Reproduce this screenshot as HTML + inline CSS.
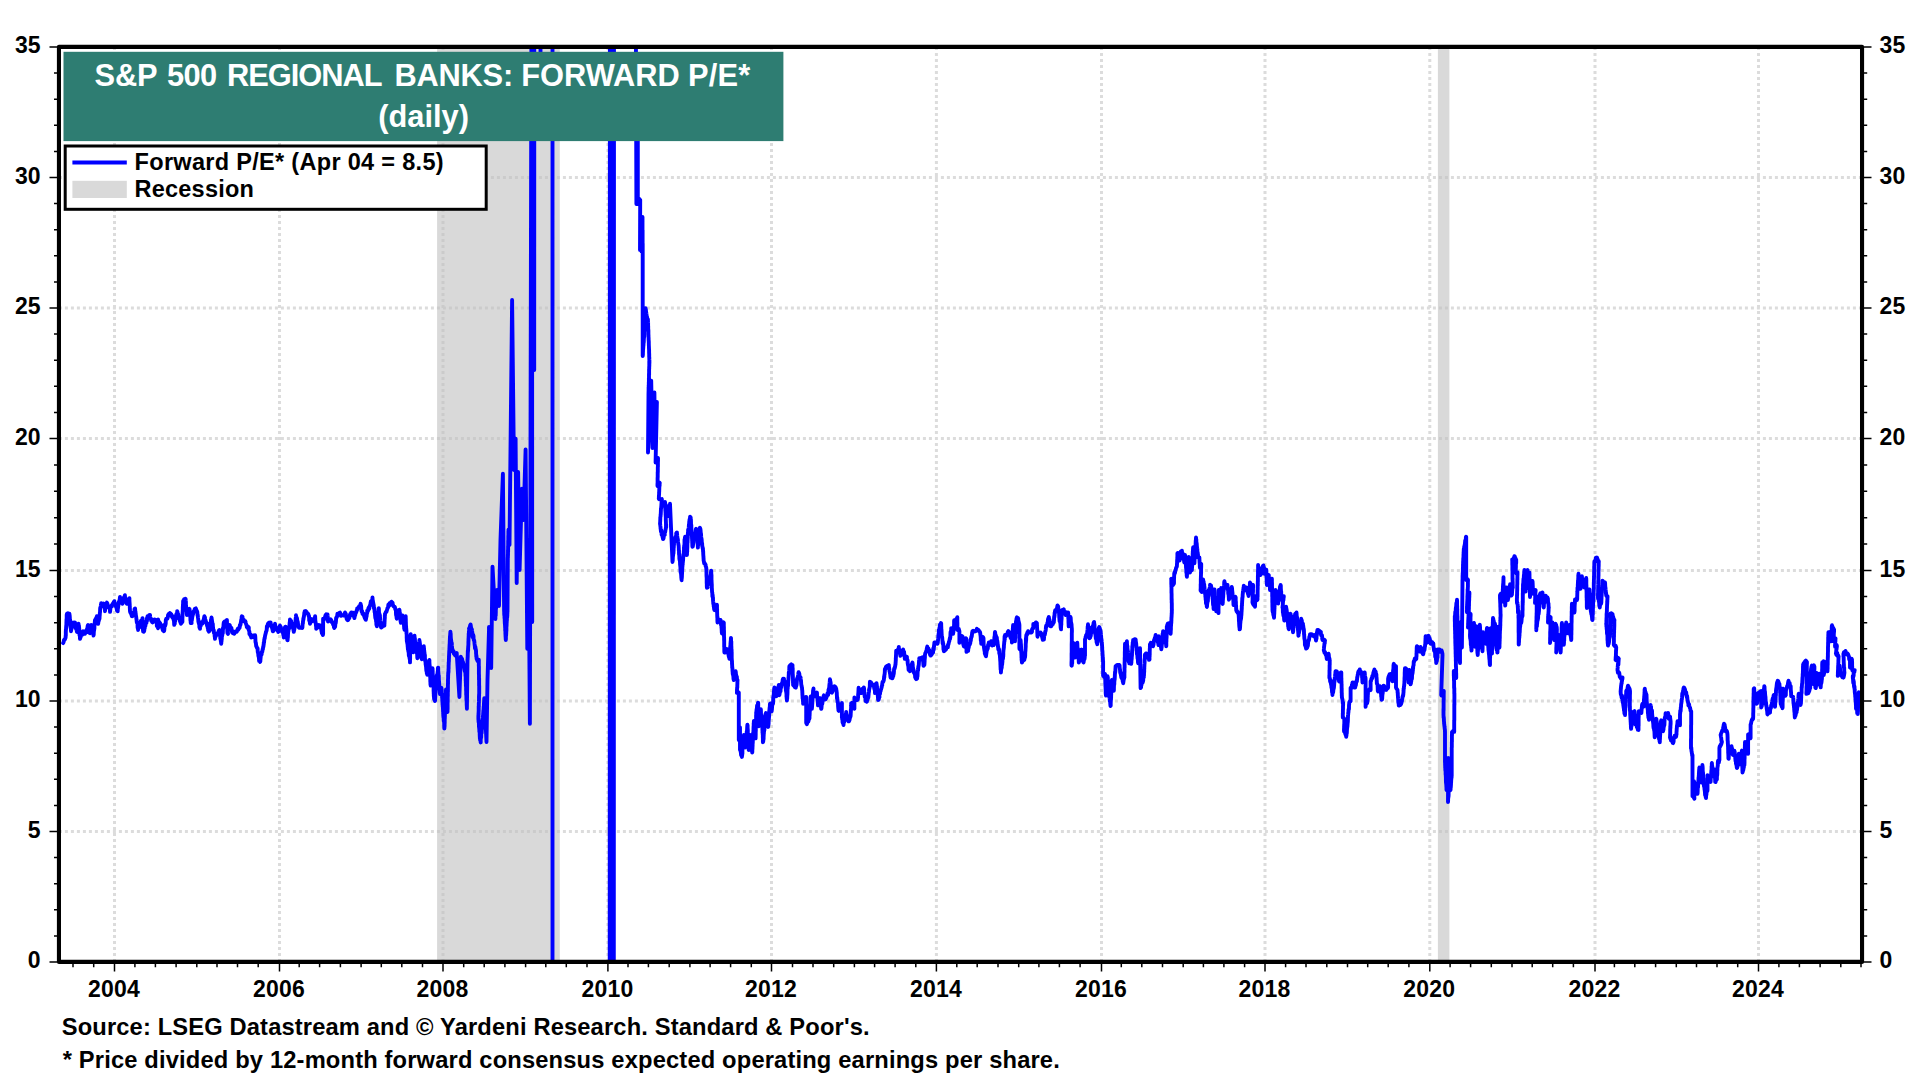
<!DOCTYPE html>
<html lang="en"><head><meta charset="utf-8"><title>S&amp;P 500 Regional Banks: Forward P/E</title>
<style>html,body{margin:0;padding:0;background:#fff;width:1920px;height:1080px;overflow:hidden}svg{display:block}</style>
</head><body>
<svg width="1920" height="1080" viewBox="0 0 1920 1080">
<defs><clipPath id="plot"><rect x="61" y="49" width="1799" height="911"/></clipPath></defs>
<rect x="0" y="0" width="1920" height="1080" fill="#ffffff"/>
<path d="M58.9 831.5H1860 M58.9 701.0H1860 M58.9 570.5H1860 M58.9 438.5H1860 M58.9 308.0H1860 M58.9 177.5H1860 M114.5 46.9V960 M279.5 46.9V960 M443.0 46.9V960 M607.9 46.9V960 M771.5 46.9V960 M936.4 46.9V960 M1101.5 46.9V960 M1265.0 46.9V960 M1429.8 46.9V960 M1595.0 46.9V960 M1758.5 46.9V960" stroke="#dcdcdc" stroke-width="3" stroke-dasharray="3 3" fill="none"/>
<rect x="437.1" y="49" width="122.7" height="911" fill="#c0c0c0" fill-opacity="0.6"/>
<rect x="1437.9" y="49" width="11.5" height="911" fill="#c0c0c0" fill-opacity="0.6"/>
<path d="M63.1 643.1 L63.6 642.1 L63.6 641.9 L64.0 640.0 L64.6 639.3 L64.7 639.8 L65.1 638.9 L65.6 637.5 L65.7 635.4 L65.7 635.9 L65.8 635.6 L65.8 635.1 L65.8 632.2 L65.9 630.1 L65.9 629.4 L66.0 629.1 L66.0 629.3 L66.1 628.8 L66.1 628.7 L66.1 627.1 L66.2 626.8 L66.2 626.4 L66.3 624.8 L66.3 625.9 L66.4 625.0 L66.4 624.8 L66.4 622.6 L66.5 620.7 L66.5 619.7 L66.6 619.0 L66.6 619.0 L66.7 618.3 L66.7 616.9 L66.7 615.1 L66.8 614.2 L66.8 615.1 L66.9 613.8 L67.9 613.3 L68.6 613.7 L69.4 613.8 L69.5 614.6 L69.5 616.7 L69.6 615.0 L69.7 616.0 L69.8 617.2 L69.8 617.5 L69.9 619.3 L70.0 620.2 L70.1 619.7 L70.2 622.0 L70.2 623.5 L70.3 625.1 L70.4 626.8 L70.5 627.1 L70.5 627.4 L70.6 626.5 L70.7 628.2 L70.8 628.3 L70.8 628.9 L70.9 628.7 L71.0 631.2 L71.5 628.5 L71.9 628.1 L71.8 626.6 L72.4 627.1 L72.8 625.0 L72.9 622.8 L73.1 622.6 L73.6 624.2 L73.8 624.2 L74.5 624.1 L74.6 623.8 L75.0 622.5 L75.2 624.3 L75.3 625.0 L75.5 625.3 L75.7 624.8 L75.9 626.5 L76.0 628.8 L76.2 628.0 L76.4 629.6 L76.5 629.7 L76.7 629.9 L76.9 631.9 L77.0 630.9 L77.2 632.0 L77.4 628.8 L77.5 628.6 L77.7 628.3 L77.9 627.4 L78.0 627.1 L78.2 624.6 L78.3 624.2 L78.5 623.8 L78.6 624.4 L78.7 625.4 L78.8 625.4 L78.8 627.0 L78.9 625.6 L79.0 626.4 L79.1 627.7 L79.2 628.2 L79.2 628.8 L79.3 629.6 L79.4 633.4 L79.5 634.8 L79.6 635.6 L79.7 634.0 L79.8 635.7 L79.8 635.8 L79.9 636.8 L80.0 638.8 L80.4 637.6 L80.5 637.3 L80.8 636.7 L81.0 635.7 L81.4 635.2 L81.6 635.2 L82.4 634.6 L82.4 633.0 L82.7 631.8 L83.1 631.2 L83.9 631.6 L84.6 633.0 L85.0 633.8 L85.1 631.9 L85.4 631.8 L86.0 630.7 L86.0 630.8 L86.4 632.4 L86.5 630.9 L87.0 629.1 L87.5 627.9 L87.4 627.9 L87.8 625.4 L88.1 625.0 L88.3 626.5 L88.7 628.5 L88.9 628.3 L89.2 629.4 L89.3 630.9 L89.5 629.6 L89.5 630.8 L89.6 632.8 L90.0 632.5 L90.1 633.2 L90.3 631.9 L90.4 630.5 L90.6 631.0 L90.7 630.5 L90.8 628.5 L91.0 630.0 L91.1 626.7 L91.2 625.0 L91.4 627.2 L91.6 627.2 L91.8 627.9 L91.9 629.3 L92.1 629.9 L92.3 631.0 L92.5 629.9 L92.6 629.5 L92.8 631.8 L93.0 631.8 L93.2 632.2 L93.3 632.2 L93.5 635.6 L93.6 634.5 L93.7 634.6 L93.7 635.0 L93.8 632.5 L93.9 631.6 L94.0 629.6 L94.1 630.0 L94.1 630.7 L94.2 628.3 L94.3 629.0 L94.4 628.5 L94.4 626.8 L94.5 623.6 L94.6 624.7 L94.7 623.5 L94.8 622.0 L94.8 621.8 L94.9 621.3 L95.0 620.0 L95.2 621.0 L95.9 618.6 L96.1 619.2 L96.5 617.7 L96.9 616.2 L97.0 617.6 L97.2 618.4 L97.3 620.4 L97.4 620.3 L97.6 618.6 L97.7 619.8 L97.8 619.3 L98.0 622.1 L98.1 623.8 L98.3 622.8 L98.4 621.4 L98.5 620.9 L98.7 621.1 L98.8 620.2 L98.9 620.5 L99.1 619.0 L99.2 618.9 L99.3 619.0 L99.5 618.8 L99.6 616.1 L99.7 615.7 L99.9 612.4 L100.0 612.5 L100.1 610.0 L100.2 607.8 L100.3 609.2 L100.5 607.4 L100.6 607.2 L100.7 606.6 L100.8 606.0 L100.9 604.8 L101.0 604.5 L101.1 605.6 L101.2 603.1 L102.0 604.4 L103.1 603.8 L103.4 603.6 L103.5 605.1 L103.9 604.8 L103.8 606.1 L104.1 606.6 L104.5 607.7 L104.7 607.7 L105.0 609.2 L105.0 611.2 L105.2 608.4 L105.3 608.9 L105.5 607.2 L105.7 607.0 L105.9 606.3 L106.0 604.8 L106.2 603.6 L106.4 603.4 L106.5 604.6 L106.7 603.1 L106.9 602.5 L107.0 604.9 L107.4 603.3 L107.5 606.2 L107.7 605.8 L108.1 606.1 L108.2 607.2 L108.9 607.1 L108.8 606.7 L109.0 608.0 L109.7 608.0 L110.0 610.4 L110.0 611.9 L110.2 610.4 L110.6 606.8 L110.5 607.5 L110.9 606.3 L111.0 606.8 L111.2 605.6 L111.7 606.6 L111.9 605.0 L112.3 604.5 L112.9 603.7 L113.6 602.5 L114.0 601.8 L114.4 601.2 L114.5 602.4 L114.7 603.0 L115.0 603.9 L115.5 603.8 L115.7 606.4 L115.9 605.8 L116.5 607.8 L116.4 607.6 L116.9 609.8 L117.0 610.6 L117.5 610.0 L117.7 611.3 L117.8 609.1 L118.0 608.1 L118.1 606.7 L118.3 606.1 L118.4 604.9 L118.6 604.9 L118.8 603.0 L118.9 601.7 L119.1 602.3 L119.2 602.0 L119.4 600.4 L119.5 600.3 L119.7 600.0 L119.8 598.6 L120.0 596.9 L120.1 598.7 L120.5 599.7 L120.7 600.1 L121.1 600.6 L121.2 600.2 L121.5 601.1 L121.7 602.2 L122.1 602.8 L122.5 603.8 L122.8 601.6 L123.2 601.8 L123.3 600.9 L123.5 598.4 L123.8 598.5 L124.0 597.1 L124.4 598.1 L124.9 595.2 L125.0 597.1 L125.4 597.6 L125.6 600.1 L126.3 601.6 L126.3 602.6 L126.9 603.8 L127.4 603.3 L127.5 603.4 L127.8 601.0 L128.1 600.0 L128.6 600.5 L129.3 599.2 L129.4 598.1 L129.4 601.6 L129.5 600.7 L129.5 600.9 L129.5 602.4 L129.6 602.7 L129.6 603.3 L129.7 604.0 L129.7 604.0 L129.7 605.8 L129.8 605.9 L129.8 606.9 L129.8 607.7 L129.9 608.6 L129.9 609.5 L130.0 610.8 L130.0 611.2 L130.2 612.1 L130.7 613.1 L131.3 614.0 L131.8 616.0 L132.3 615.4 L132.5 616.2 L132.8 614.1 L132.9 612.6 L133.5 615.2 L133.9 613.7 L134.3 612.5 L134.5 610.5 L134.5 609.0 L135.0 610.0 L135.1 608.5 L135.2 610.1 L135.4 612.4 L135.5 611.6 L135.6 613.7 L135.7 613.4 L135.9 616.0 L136.0 615.7 L136.1 616.5 L136.2 616.9 L136.4 618.7 L136.5 619.6 L136.6 620.1 L136.7 621.4 L136.9 622.8 L137.0 622.2 L137.1 622.2 L137.2 622.6 L137.4 623.6 L137.5 624.0 L137.6 627.4 L137.7 628.0 L137.9 628.6 L138.0 628.2 L138.1 630.0 L138.2 627.1 L138.8 626.9 L138.9 626.7 L139.4 626.7 L139.8 626.4 L139.9 627.0 L140.3 624.7 L140.6 624.6 L140.5 622.4 L140.9 620.8 L141.2 620.5 L141.7 621.7 L141.8 620.8 L142.3 619.6 L142.5 618.1 L142.5 618.8 L142.6 618.3 L142.6 619.4 L142.7 621.9 L142.7 621.4 L142.7 622.8 L142.8 625.3 L142.8 627.0 L142.8 627.7 L142.9 630.3 L142.9 629.7 L143.0 629.4 L143.0 627.9 L143.0 629.5 L143.1 631.5 L143.1 631.2 L143.2 630.9 L143.4 630.5 L143.9 631.7 L144.3 630.6 L144.1 629.7 L144.7 628.5 L144.8 625.8 L145.0 625.2 L145.0 626.5 L145.4 625.9 L145.6 624.1 L145.8 623.3 L146.3 622.6 L146.5 622.8 L146.4 621.0 L147.0 621.0 L146.9 618.5 L147.5 616.8 L147.5 616.2 L148.4 616.4 L149.1 615.1 L150.0 615.0 L150.1 616.4 L150.4 618.6 L151.1 619.8 L151.1 619.7 L151.2 620.8 L151.9 619.2 L152.1 622.1 L152.4 620.9 L152.5 622.5 L153.1 619.8 L153.9 620.0 L154.4 619.5 L155.0 620.0 L155.2 620.2 L155.4 619.8 L155.9 621.8 L156.2 622.6 L156.8 623.2 L156.8 625.9 L157.2 625.8 L157.4 625.9 L157.7 627.2 L158.1 628.1 L158.1 627.7 L158.1 627.6 L158.1 625.6 L158.1 625.1 L158.1 626.2 L158.1 625.4 L158.1 623.5 L158.1 622.4 L158.1 621.5 L158.1 619.4 L158.3 621.6 L158.8 622.2 L159.5 622.3 L159.8 624.0 L160.1 623.1 L160.4 624.2 L160.7 624.5 L161.2 625.0 L161.8 626.2 L162.0 627.6 L162.5 628.8 L162.5 629.2 L162.9 630.3 L163.5 628.2 L163.8 630.4 L164.0 631.2 L164.2 630.6 L164.3 629.7 L164.4 628.3 L164.6 625.6 L164.8 624.4 L164.9 624.9 L165.1 625.6 L165.2 624.7 L165.3 625.5 L165.5 623.1 L165.7 623.9 L165.8 620.2 L165.9 619.8 L166.1 619.7 L166.2 618.8 L166.8 618.8 L167.4 618.8 L167.8 617.3 L168.1 614.9 L168.7 614.3 L168.9 613.9 L169.4 614.7 L170.0 613.1 L170.4 613.6 L171.3 614.3 L171.7 616.4 L172.5 617.5 L173.1 616.2 L173.3 618.8 L173.4 618.4 L173.5 619.5 L173.7 619.9 L173.8 620.5 L174.0 621.0 L174.1 623.0 L174.2 624.8 L174.4 623.8 L174.8 623.7 L174.7 621.9 L175.2 621.3 L175.0 620.3 L175.4 618.8 L175.5 617.9 L175.9 616.6 L175.8 617.1 L176.2 616.1 L176.3 614.2 L176.8 614.8 L176.7 614.0 L177.3 612.1 L177.2 611.2 L177.5 611.9 L177.6 613.5 L178.1 614.0 L178.1 613.7 L178.3 615.0 L178.6 616.4 L178.7 617.5 L178.8 617.7 L178.9 618.9 L179.2 619.3 L179.8 618.2 L179.9 620.9 L180.0 621.2 L181.0 623.8 L182.2 621.2 L182.3 622.0 L182.3 621.5 L182.4 622.1 L182.4 620.0 L182.4 618.2 L182.5 616.5 L182.5 614.8 L182.5 613.7 L182.6 614.0 L182.6 613.3 L182.6 612.5 L182.7 611.5 L182.7 611.7 L182.7 611.0 L182.8 609.7 L182.8 609.4 L182.8 608.1 L182.9 605.9 L182.9 607.0 L182.9 606.3 L183.0 604.1 L183.0 604.5 L183.1 603.7 L183.1 601.0 L183.1 601.2 L183.6 601.6 L184.1 599.2 L185.0 600.5 L185.6 598.8 L185.7 600.9 L185.7 599.6 L185.8 601.0 L185.9 601.9 L185.9 604.9 L186.0 605.7 L186.1 605.6 L186.1 607.6 L186.2 608.2 L186.2 607.6 L186.3 607.8 L186.4 611.0 L186.4 610.3 L186.5 610.2 L186.6 610.8 L186.6 610.8 L186.7 612.0 L186.8 613.1 L186.8 614.1 L186.9 615.0 L187.3 611.9 L187.4 612.3 L187.8 611.9 L188.1 613.8 L188.3 611.6 L189.0 609.6 L188.9 609.6 L189.4 608.8 L189.5 610.1 L189.6 609.2 L189.6 611.2 L189.7 610.5 L189.8 611.2 L189.9 612.1 L190.0 613.1 L190.1 615.3 L190.2 616.2 L190.3 616.5 L190.4 618.0 L190.4 620.2 L190.5 620.3 L190.6 621.1 L190.7 622.7 L190.8 623.1 L190.9 622.5 L191.3 621.2 L191.6 623.1 L191.4 621.4 L191.8 620.5 L192.0 618.9 L192.3 616.9 L192.7 615.3 L193.0 614.1 L193.2 613.8 L193.2 613.1 L193.7 611.9 L193.6 611.4 L193.9 611.2 L194.5 611.4 L194.5 609.7 L195.0 608.8 L195.0 608.8 L195.8 608.4 L196.3 609.7 L196.9 611.2 L197.0 612.1 L197.2 612.8 L197.3 611.8 L197.4 613.6 L197.6 615.9 L197.7 614.6 L197.9 616.8 L198.0 617.8 L198.2 619.0 L198.3 620.0 L198.4 621.8 L198.6 621.6 L198.7 623.0 L198.9 622.8 L199.0 624.2 L199.1 623.8 L199.3 624.5 L199.4 627.2 L199.6 627.8 L199.7 627.8 L199.9 627.2 L200.0 628.8 L200.1 626.7 L200.4 626.1 L200.7 626.1 L200.9 624.3 L201.1 623.2 L201.5 622.4 L201.8 623.6 L202.2 623.2 L202.2 623.8 L202.8 623.0 L203.1 622.0 L203.4 621.0 L203.5 619.9 L204.1 618.4 L204.0 618.2 L204.4 616.2 L204.6 616.9 L205.0 617.4 L204.9 619.3 L205.4 619.8 L205.7 620.5 L205.7 621.2 L206.2 622.4 L206.2 622.0 L206.5 623.1 L206.8 624.1 L207.0 625.3 L207.1 625.7 L207.3 625.9 L207.6 626.9 L207.8 628.3 L208.2 628.8 L208.1 630.3 L208.7 630.7 L208.8 631.2 L208.9 631.7 L209.1 630.2 L209.2 631.3 L209.4 630.3 L209.6 626.9 L209.7 627.6 L209.9 625.0 L210.0 623.1 L210.2 623.9 L210.4 624.6 L210.5 623.4 L210.7 623.2 L210.9 622.8 L211.0 619.6 L211.2 619.2 L211.3 619.0 L211.5 617.5 L211.6 617.8 L211.8 619.5 L211.9 619.8 L212.0 621.0 L212.2 621.8 L212.3 624.1 L212.4 624.5 L212.6 624.6 L212.7 623.6 L212.8 624.3 L213.0 627.5 L213.1 628.4 L213.2 629.8 L213.4 630.8 L213.5 629.6 L213.7 630.0 L213.8 630.7 L213.9 632.8 L214.1 632.5 L214.2 633.0 L214.3 633.6 L214.5 633.9 L214.6 635.1 L214.7 636.5 L214.9 636.7 L215.0 638.8 L215.2 636.5 L215.7 636.5 L215.9 634.4 L216.3 634.0 L216.8 634.1 L217.2 634.7 L217.3 634.4 L218.0 633.1 L218.4 632.0 L218.7 631.0 L219.0 630.4 L219.4 630.0 L219.5 631.1 L219.6 631.7 L219.7 634.5 L219.8 631.9 L219.9 633.0 L220.0 632.4 L220.2 635.2 L220.3 638.8 L220.4 636.2 L220.5 637.6 L220.6 639.1 L220.7 639.5 L220.8 641.0 L220.9 639.3 L221.0 641.8 L221.1 643.1 L221.2 643.8 L221.3 643.1 L221.4 641.6 L221.5 641.6 L221.6 640.2 L221.7 639.7 L221.8 638.4 L221.9 635.5 L222.0 635.7 L222.1 635.7 L222.2 635.9 L222.3 634.1 L222.4 633.5 L222.5 633.5 L222.6 632.7 L222.7 632.9 L222.8 633.5 L222.9 630.7 L223.0 627.6 L223.1 628.2 L223.2 628.9 L223.3 628.4 L223.4 627.7 L223.5 625.5 L223.6 623.7 L223.7 624.0 L223.8 622.5 L224.6 621.5 L225.6 621.6 L226.2 620.8 L226.9 620.6 L226.9 619.9 L227.0 622.5 L227.0 623.0 L227.1 626.9 L227.1 625.8 L227.1 625.8 L227.2 626.7 L227.2 626.4 L227.3 628.4 L227.3 630.7 L227.4 632.7 L227.4 633.0 L227.5 632.9 L227.5 632.5 L228.0 633.9 L227.8 630.9 L227.9 629.3 L228.4 629.3 L228.5 628.5 L228.6 625.5 L228.8 625.3 L228.9 624.9 L229.4 625.0 L229.7 625.0 L230.1 626.7 L230.7 627.8 L231.1 627.7 L231.4 628.0 L231.7 630.5 L232.1 632.4 L232.9 633.3 L233.1 631.2 L234.3 633.7 L235.0 632.1 L236.2 631.2 L236.8 631.6 L237.4 629.7 L237.8 628.8 L238.2 629.9 L239.1 628.2 L239.4 627.5 L239.6 627.9 L239.7 627.0 L239.9 625.1 L240.1 624.7 L240.3 625.4 L240.5 624.4 L240.6 624.2 L240.8 622.6 L241.0 621.7 L241.2 620.1 L241.3 619.5 L241.5 619.6 L241.7 616.7 L241.9 616.2 L242.5 616.7 L242.7 617.9 L243.0 619.3 L243.8 621.0 L243.9 619.8 L244.5 621.5 L245.0 621.2 L245.4 621.2 L245.4 621.6 L245.8 623.1 L246.4 625.0 L246.7 625.7 L246.8 627.2 L247.2 626.2 L247.5 627.5 L247.8 626.3 L248.0 628.6 L248.2 627.9 L248.8 627.4 L248.8 630.2 L249.4 631.5 L249.4 634.1 L250.0 633.8 L250.3 634.2 L250.4 635.7 L250.9 635.7 L250.9 635.2 L251.2 637.5 L252.4 637.1 L253.1 635.5 L254.0 635.5 L255.0 636.2 L255.1 635.2 L255.3 637.0 L255.4 639.5 L255.5 641.9 L255.7 642.8 L255.8 642.7 L255.9 643.0 L256.1 645.2 L256.2 646.4 L256.3 645.7 L256.5 646.4 L256.6 647.0 L256.7 647.4 L256.9 647.5 L257.1 648.2 L257.2 647.7 L257.4 648.5 L257.6 648.3 L257.7 651.3 L257.9 652.7 L258.1 652.1 L258.3 654.7 L258.4 656.1 L258.6 654.4 L258.8 657.5 L259.0 658.6 L259.1 660.9 L259.3 659.2 L259.5 660.3 L259.7 661.2 L259.8 661.8 L260.0 661.9 L260.2 661.7 L260.3 661.7 L260.5 658.9 L260.7 657.1 L260.8 655.6 L261.0 655.1 L261.2 654.5 L261.3 654.8 L261.5 654.6 L261.7 653.9 L261.8 652.5 L262.0 651.5 L262.2 652.0 L262.3 651.8 L262.5 650.0 L262.6 649.9 L262.8 648.5 L262.9 649.2 L263.1 647.1 L263.2 646.8 L263.4 646.8 L263.5 645.1 L263.7 644.8 L263.8 642.4 L264.0 642.7 L264.1 641.8 L264.3 639.1 L264.4 639.4 L264.6 637.8 L264.7 638.6 L264.9 636.8 L265.0 636.2 L265.2 635.1 L265.4 634.7 L265.6 633.5 L265.8 633.0 L266.0 631.6 L266.2 631.6 L266.5 630.6 L266.7 629.9 L266.9 626.2 L267.1 627.6 L267.3 626.9 L267.5 626.2 L267.9 623.7 L268.5 624.0 L268.9 622.7 L269.8 624.3 L270.2 623.3 L270.6 622.5 L270.8 624.1 L270.9 625.7 L271.4 626.7 L271.6 626.2 L271.7 625.1 L272.2 625.7 L272.0 627.7 L272.3 628.8 L272.5 629.5 L272.8 631.3 L273.1 631.2 L273.5 630.2 L273.6 629.6 L273.9 629.9 L273.9 628.6 L274.1 626.1 L274.5 626.7 L274.7 627.3 L274.9 626.2 L275.0 623.8 L275.4 626.4 L275.8 627.2 L275.8 628.0 L276.3 628.2 L276.7 629.2 L276.7 629.6 L277.1 630.3 L277.4 629.9 L277.7 630.5 L278.1 631.2 L278.2 632.1 L278.9 630.4 L279.2 630.1 L279.3 629.4 L279.3 627.9 L279.8 625.8 L280.0 625.6 L280.2 626.6 L280.3 627.7 L280.8 626.9 L281.0 629.2 L281.1 629.1 L281.6 629.2 L282.0 629.1 L282.0 631.7 L282.2 631.1 L282.4 631.8 L282.9 632.9 L283.1 632.3 L283.3 635.1 L283.5 635.0 L283.8 637.5 L283.9 635.1 L284.0 636.2 L284.1 636.1 L284.2 635.4 L284.3 634.4 L284.4 631.6 L284.5 630.6 L284.6 629.6 L284.7 628.3 L284.8 628.7 L284.9 627.3 L285.0 627.5 L285.2 627.0 L285.4 627.3 L285.5 626.7 L285.7 629.4 L285.9 632.1 L286.1 632.8 L286.2 632.5 L286.4 630.8 L286.6 633.0 L286.8 635.7 L287.0 636.8 L287.1 638.3 L287.3 640.1 L287.5 638.8 L287.6 640.4 L287.7 638.2 L287.8 638.0 L287.9 637.3 L288.0 634.2 L288.1 633.2 L288.2 631.3 L288.3 631.1 L288.4 631.3 L288.5 629.5 L288.6 627.1 L288.8 628.7 L288.9 628.4 L289.0 629.0 L289.1 626.3 L289.2 626.7 L289.3 627.6 L289.4 627.8 L289.5 625.3 L289.6 624.0 L289.7 622.5 L289.8 622.4 L289.9 622.1 L290.0 619.4 L290.2 621.4 L290.4 621.4 L290.6 621.1 L291.0 622.0 L291.0 620.6 L291.3 622.8 L291.5 623.1 L291.9 624.9 L292.1 624.2 L292.6 625.2 L292.5 626.5 L293.0 626.7 L293.0 626.9 L293.1 628.4 L293.7 631.1 L293.8 631.9 L293.9 629.9 L294.0 631.1 L294.1 629.8 L294.3 629.8 L294.4 628.5 L294.5 628.4 L294.7 627.0 L294.8 625.9 L294.9 624.7 L295.1 623.0 L295.2 622.5 L295.3 622.6 L295.5 620.5 L295.6 620.1 L295.7 618.4 L295.9 616.9 L296.0 615.3 L296.1 617.3 L296.2 616.2 L296.4 617.4 L296.6 617.8 L296.8 619.6 L297.0 618.1 L297.1 619.6 L297.3 620.1 L297.5 622.0 L297.7 621.5 L297.9 622.9 L298.0 624.0 L298.2 626.3 L298.4 626.2 L298.6 626.9 L298.8 627.5 L299.6 627.9 L300.8 627.6 L301.9 626.9 L302.0 628.1 L302.2 627.7 L302.4 627.7 L302.5 625.7 L302.7 623.4 L302.9 623.4 L303.0 621.1 L303.2 620.6 L303.4 618.2 L303.5 619.3 L303.7 617.1 L303.9 616.9 L304.0 615.6 L304.2 614.6 L304.3 612.9 L304.5 612.7 L304.7 611.2 L304.8 612.0 L305.0 611.2 L305.7 611.0 L306.6 612.0 L307.1 613.4 L308.1 613.8 L308.3 614.2 L308.4 615.3 L308.6 615.0 L308.7 616.4 L308.9 615.6 L309.1 616.9 L309.2 620.4 L309.4 621.0 L309.5 620.3 L309.7 621.8 L309.8 621.8 L310.0 623.8 L310.6 620.8 L311.0 618.9 L311.9 620.9 L312.5 621.2 L313.1 619.8 L313.6 619.1 L314.2 619.4 L314.5 618.1 L315.0 617.5 L315.1 616.1 L315.2 618.0 L315.3 620.8 L315.4 621.6 L315.4 621.4 L315.5 621.6 L315.6 623.3 L315.7 623.3 L315.8 623.2 L315.9 624.8 L316.0 626.0 L316.1 626.2 L316.2 626.4 L316.2 628.8 L316.9 627.6 L317.7 627.6 L318.1 626.2 L318.8 625.0 L319.4 625.6 L320.0 625.6 L320.0 625.7 L320.3 625.5 L320.8 626.8 L321.2 629.5 L321.6 631.7 L321.8 632.2 L321.9 633.2 L322.3 633.5 L322.9 635.0 L323.1 633.8 L323.1 633.4 L323.1 632.9 L323.1 629.6 L323.1 628.4 L323.1 627.5 L323.1 626.4 L323.1 625.4 L323.1 624.3 L323.1 623.7 L323.1 624.3 L323.1 625.3 L323.1 622.6 L323.1 622.6 L323.1 622.4 L323.1 621.8 L323.1 622.4 L323.1 621.2 L323.1 618.8 L323.7 620.3 L324.5 618.1 L324.9 617.5 L325.5 615.4 L326.2 614.3 L326.9 614.6 L327.5 614.4 L327.6 615.3 L327.7 616.0 L327.7 616.6 L327.8 617.5 L327.9 619.8 L328.0 621.5 L328.0 619.6 L328.1 621.2 L328.9 619.1 L329.8 620.1 L330.6 619.4 L331.3 620.2 L331.5 622.0 L331.7 622.0 L332.2 622.1 L332.6 622.2 L333.1 624.7 L333.9 624.9 L333.9 627.0 L334.3 627.9 L335.0 626.2 L335.1 626.7 L335.3 624.6 L335.4 623.7 L335.6 622.2 L335.7 623.3 L335.8 622.5 L336.0 620.7 L336.1 617.9 L336.2 618.8 L336.7 617.0 L337.2 616.3 L337.4 613.8 L338.1 614.8 L338.1 614.5 L338.8 614.0 L339.1 613.7 L339.7 612.7 L340.0 612.5 L340.6 613.8 L341.0 615.9 L341.8 614.8 L342.5 615.0 L343.2 615.6 L343.7 615.6 L344.4 615.6 L345.0 612.5 L345.3 614.0 L345.8 613.7 L346.0 616.2 L346.1 615.8 L346.7 618.9 L347.0 619.6 L347.4 618.6 L347.7 620.2 L347.8 619.6 L348.1 620.0 L348.6 618.9 L348.8 617.2 L349.3 618.1 L349.1 617.5 L349.6 615.8 L350.2 614.0 L350.5 614.5 L350.8 615.7 L351.1 614.8 L351.2 612.5 L351.8 613.4 L352.2 613.7 L352.3 613.6 L352.6 612.7 L353.1 612.7 L353.7 614.2 L354.0 616.5 L354.4 618.1 L354.7 616.5 L354.7 615.4 L355.2 615.3 L355.1 615.0 L355.7 613.2 L355.9 612.9 L356.3 611.7 L356.3 612.2 L356.6 610.6 L356.6 610.3 L357.1 610.2 L357.2 608.4 L357.5 608.1 L358.0 608.1 L358.8 607.2 L359.0 606.5 L359.7 606.7 L359.9 606.2 L360.6 603.8 L360.8 604.9 L360.9 605.1 L361.1 605.8 L361.2 606.8 L361.4 610.7 L361.6 611.1 L361.7 611.8 L361.9 610.9 L362.0 610.8 L362.2 611.5 L362.3 612.8 L362.5 613.8 L363.2 613.3 L363.6 614.7 L363.7 613.8 L364.1 616.0 L364.5 617.1 L365.4 619.1 L365.6 618.8 L365.8 619.0 L365.8 619.8 L366.3 617.2 L366.7 615.7 L366.6 615.1 L367.2 612.8 L367.3 611.9 L367.2 610.7 L367.9 611.2 L367.6 611.3 L368.0 610.2 L368.5 608.0 L368.7 609.4 L368.8 607.5 L369.1 609.0 L369.4 607.9 L369.4 606.7 L370.0 605.3 L370.1 605.6 L370.5 603.5 L370.7 602.5 L370.9 601.1 L371.2 601.2 L371.5 601.0 L371.7 600.7 L372.3 600.4 L372.5 597.5 L372.6 599.7 L372.8 600.3 L372.9 601.3 L373.0 601.3 L373.1 603.8 L373.3 603.0 L373.4 604.0 L373.5 604.2 L373.6 604.6 L373.8 605.7 L373.9 608.3 L374.0 607.7 L374.1 607.7 L374.3 608.0 L374.4 610.0 L374.5 609.1 L374.6 612.2 L374.8 611.4 L374.9 612.8 L375.0 614.2 L375.1 615.5 L375.3 617.6 L375.4 618.2 L375.5 617.8 L375.6 618.2 L375.8 619.5 L375.9 619.5 L376.0 619.9 L376.1 621.3 L376.3 621.9 L376.4 624.7 L376.5 624.5 L376.6 625.6 L376.8 625.1 L376.9 626.2 L377.0 625.3 L377.1 624.9 L377.1 623.7 L377.2 623.2 L377.3 622.3 L377.4 622.6 L377.5 620.3 L377.6 619.8 L377.6 620.0 L377.7 618.6 L377.8 618.3 L377.9 617.3 L378.0 617.0 L378.1 619.1 L378.2 616.3 L378.2 614.9 L378.3 613.2 L378.4 611.4 L378.5 612.7 L378.6 612.5 L378.7 611.2 L378.8 608.1 L378.9 609.5 L379.0 612.8 L379.1 614.2 L379.2 613.7 L379.3 613.3 L379.4 614.1 L379.5 616.3 L379.6 616.1 L379.7 615.7 L379.8 616.3 L379.9 615.0 L380.0 617.5 L380.1 618.7 L380.2 620.7 L380.3 621.4 L380.4 622.2 L380.5 622.8 L380.6 621.6 L380.7 623.0 L380.8 624.4 L380.9 626.3 L381.0 627.3 L381.1 626.8 L381.2 627.5 L381.9 627.1 L383.0 625.4 L383.6 624.4 L384.4 625.6 L384.4 623.9 L384.5 623.7 L384.5 622.8 L384.6 621.1 L384.6 620.6 L384.6 619.7 L384.7 619.6 L384.7 617.9 L384.8 618.5 L384.8 615.8 L384.9 615.3 L384.9 614.9 L385.0 615.2 L385.0 613.8 L385.6 612.8 L385.9 612.0 L386.1 612.0 L386.5 611.6 L386.6 611.3 L387.3 609.0 L387.4 608.2 L388.2 607.2 L388.3 604.8 L388.8 606.2 L389.4 604.1 L389.5 603.1 L390.2 605.0 L390.8 602.3 L391.2 603.1 L391.5 601.7 L392.6 602.9 L392.7 604.2 L393.3 605.8 L393.7 606.4 L394.6 606.8 L395.0 607.5 L395.1 608.3 L395.3 609.3 L395.4 609.0 L395.6 609.4 L395.7 609.2 L395.9 610.8 L396.0 613.9 L396.2 615.6 L396.3 615.7 L396.4 615.9 L396.6 617.5 L396.7 618.7 L396.9 618.1 L396.9 617.3 L397.3 616.5 L397.8 616.6 L397.7 616.4 L398.0 613.5 L398.5 612.2 L398.6 612.7 L399.0 611.4 L399.4 609.7 L399.4 610.0 L399.5 610.0 L399.6 611.3 L399.6 611.3 L399.7 612.6 L399.8 614.6 L399.9 612.6 L400.0 615.4 L400.1 617.0 L400.2 615.5 L400.3 617.8 L400.4 616.9 L400.4 619.6 L400.5 620.8 L400.6 621.2 L400.9 622.9 L401.4 620.5 L401.9 618.6 L402.1 617.1 L402.5 615.5 L403.1 616.2 L403.2 616.6 L403.3 619.3 L403.4 621.6 L403.5 621.7 L403.5 619.4 L403.6 619.4 L403.7 619.6 L403.8 623.0 L403.9 622.4 L404.0 625.2 L404.0 626.1 L404.1 626.5 L404.2 628.7 L404.3 628.7 L404.4 628.8 L404.5 629.7 L404.6 629.4 L404.7 627.0 L404.8 625.9 L404.9 626.1 L405.0 622.5 L405.0 623.2 L405.1 622.1 L405.2 622.2 L405.3 620.7 L405.4 619.4 L405.5 616.7 L405.6 618.1 L405.7 616.2 L405.7 617.3 L405.8 619.1 L405.8 619.3 L405.8 621.2 L405.9 622.8 L405.9 624.1 L406.0 625.4 L406.0 626.6 L406.1 626.3 L406.1 627.6 L406.2 628.3 L406.2 629.4 L406.2 628.2 L406.3 629.1 L406.3 629.5 L406.4 630.2 L406.4 631.4 L406.5 632.3 L406.5 633.5 L406.6 633.7 L406.6 633.9 L406.7 635.3 L406.7 636.0 L406.7 637.8 L406.8 639.0 L406.8 640.8 L406.9 641.2 L407.0 641.3 L407.1 642.3 L407.3 643.2 L407.4 644.1 L407.5 643.9 L407.7 646.8 L407.8 647.4 L407.9 649.3 L408.1 648.7 L408.2 649.4 L408.3 651.0 L408.4 651.4 L408.6 652.1 L408.7 652.2 L408.8 655.0 L409.0 656.0 L409.1 655.7 L409.2 656.4 L409.4 656.1 L409.5 657.8 L409.6 658.4 L409.7 658.6 L409.9 660.0 L410.0 660.6 L410.0 662.4 L410.0 660.5 L410.1 658.6 L410.1 657.1 L410.1 657.2 L410.1 655.6 L410.1 653.6 L410.2 654.5 L410.2 652.1 L410.2 650.2 L410.2 650.2 L410.2 650.0 L410.3 647.9 L410.3 646.3 L410.3 647.0 L410.3 646.3 L410.3 643.9 L410.3 645.8 L410.4 646.6 L410.4 647.0 L410.4 645.3 L410.4 642.9 L410.4 641.5 L410.5 642.3 L410.5 640.8 L410.5 638.4 L410.5 639.0 L410.5 639.2 L410.6 637.0 L410.6 635.6 L410.6 635.9 L410.6 635.0 L410.7 634.3 L410.9 636.2 L411.0 636.9 L411.1 638.9 L411.2 638.5 L411.4 639.2 L411.5 639.5 L411.6 642.4 L411.7 643.5 L411.9 642.9 L412.0 643.2 L412.1 644.5 L412.2 645.2 L412.4 646.7 L412.5 646.2 L412.6 646.8 L412.7 650.0 L412.9 651.5 L413.0 650.7 L413.1 651.2 L413.2 652.3 L413.3 652.0 L413.3 648.1 L413.4 647.8 L413.5 648.0 L413.5 646.9 L413.6 645.8 L413.7 646.0 L413.8 645.0 L413.8 641.4 L413.9 641.2 L414.0 640.9 L414.0 639.0 L414.1 639.9 L414.2 638.9 L414.2 636.5 L414.3 636.1 L414.4 636.2 L414.5 635.7 L414.6 637.7 L414.7 637.8 L414.9 638.5 L415.0 641.1 L415.1 641.1 L415.2 641.5 L415.3 642.4 L415.5 642.7 L415.6 644.6 L415.7 644.1 L415.8 644.9 L415.9 648.1 L416.1 646.6 L416.2 646.8 L416.3 648.4 L416.4 647.2 L416.5 646.9 L416.7 648.6 L416.8 651.7 L416.9 653.1 L417.0 653.5 L417.1 653.5 L417.3 657.4 L417.4 658.2 L417.5 657.5 L417.6 656.5 L417.7 657.4 L417.8 657.4 L417.8 655.0 L417.9 652.2 L418.0 654.0 L418.1 652.6 L418.2 651.0 L418.3 650.5 L418.4 649.4 L418.4 649.8 L418.5 647.9 L418.6 647.1 L418.7 646.9 L418.8 647.2 L418.9 645.0 L419.0 643.6 L419.0 644.3 L419.1 643.0 L419.2 643.0 L419.3 641.9 L419.4 640.0 L419.5 641.7 L419.6 641.3 L419.7 642.2 L419.8 643.0 L419.9 643.3 L420.0 646.2 L420.1 645.2 L420.2 645.5 L420.4 647.1 L420.5 649.1 L420.6 648.8 L420.7 649.4 L420.8 649.6 L420.9 649.9 L421.0 652.6 L421.1 653.2 L421.2 653.5 L421.3 654.8 L421.4 656.5 L421.6 658.3 L421.7 658.7 L421.8 659.2 L421.9 658.8 L422.0 659.2 L422.1 658.9 L422.3 658.0 L422.4 655.2 L422.5 654.6 L422.6 653.4 L422.8 654.4 L422.9 653.1 L423.0 651.2 L423.1 651.8 L423.3 650.0 L423.4 649.5 L423.5 648.3 L423.6 647.8 L423.8 646.2 L423.8 648.6 L423.9 648.0 L424.0 648.1 L424.1 650.0 L424.2 650.4 L424.3 651.4 L424.4 653.1 L424.5 652.6 L424.6 654.5 L424.7 654.6 L424.8 654.8 L424.9 655.2 L424.9 658.5 L425.0 659.3 L425.1 659.9 L425.2 659.4 L425.3 661.6 L425.4 660.7 L425.5 661.1 L425.6 663.4 L425.7 665.0 L425.8 664.8 L425.9 666.0 L426.0 666.1 L426.1 665.5 L426.1 667.7 L426.2 668.5 L426.3 670.0 L426.4 671.2 L426.5 670.6 L426.6 671.6 L426.7 671.6 L426.8 673.0 L426.9 673.8 L427.0 673.8 L427.2 673.7 L427.3 674.7 L427.5 672.2 L427.6 672.0 L427.8 671.2 L427.9 670.3 L428.1 667.8 L428.2 667.5 L428.4 666.7 L428.5 665.7 L428.6 665.0 L428.8 663.0 L428.9 662.3 L429.1 662.2 L429.2 661.0 L429.4 660.0 L429.4 661.6 L429.5 663.6 L429.5 663.9 L429.5 663.8 L429.6 664.9 L429.6 665.2 L429.7 665.4 L429.7 666.1 L429.7 668.9 L429.8 669.8 L429.8 670.7 L429.9 671.7 L429.9 670.2 L429.9 671.6 L430.0 673.1 L430.0 673.3 L430.1 673.0 L430.1 674.8 L430.1 675.3 L430.2 677.2 L430.2 677.2 L430.3 678.1 L430.3 679.8 L430.3 681.2 L430.4 682.4 L430.4 682.2 L430.5 684.6 L430.5 683.5 L430.5 683.4 L430.6 684.2 L430.6 685.0 L430.7 685.6 L430.8 684.7 L430.9 685.3 L431.0 684.3 L431.1 683.3 L431.2 680.8 L431.3 679.5 L431.4 678.7 L431.5 676.9 L431.6 675.7 L431.7 674.3 L431.7 673.8 L431.8 674.5 L431.9 674.2 L432.0 673.5 L432.1 672.9 L432.2 671.0 L432.3 670.0 L432.4 668.9 L432.5 668.8 L432.5 668.3 L432.6 669.3 L432.6 669.7 L432.7 671.1 L432.7 673.1 L432.8 674.2 L432.8 674.9 L432.8 676.1 L432.9 676.4 L432.9 676.3 L433.0 675.6 L433.0 678.5 L433.1 679.7 L433.1 678.4 L433.1 680.3 L433.2 681.0 L433.2 682.1 L433.3 683.4 L433.3 683.7 L433.4 683.4 L433.4 684.3 L433.4 686.7 L433.5 686.7 L433.5 686.6 L433.6 688.2 L433.6 691.4 L433.7 690.9 L433.7 692.8 L433.7 693.4 L433.8 694.4 L433.8 696.2 L433.9 695.4 L433.9 696.0 L434.0 696.5 L434.0 697.5 L434.1 698.8 L434.4 699.7 L434.7 700.2 L435.0 701.0 L435.1 700.4 L435.1 699.1 L435.2 697.9 L435.2 698.1 L435.3 696.0 L435.3 695.4 L435.4 694.2 L435.5 692.4 L435.5 693.1 L435.6 692.5 L435.6 691.9 L435.7 692.1 L435.8 689.5 L435.8 689.0 L435.9 688.8 L435.9 688.8 L436.0 686.6 L436.0 686.8 L436.1 686.1 L436.2 686.5 L436.2 686.1 L436.3 685.0 L436.3 685.7 L436.4 683.6 L436.4 681.5 L436.5 680.0 L436.6 679.3 L436.7 677.5 L436.8 677.0 L437.0 674.6 L437.1 674.6 L437.2 674.8 L437.3 675.1 L437.4 673.7 L437.5 674.2 L437.6 672.2 L437.8 671.2 L437.9 668.5 L438.0 667.7 L438.1 668.8 L438.2 667.6 L438.2 670.7 L438.3 671.9 L438.3 671.3 L438.4 672.9 L438.5 674.2 L438.5 674.6 L438.6 675.3 L438.7 675.8 L438.7 676.2 L438.8 675.6 L438.8 677.2 L438.9 679.8 L439.0 681.8 L439.0 681.7 L439.1 681.5 L439.1 682.2 L439.2 684.1 L439.3 685.0 L439.3 684.9 L439.4 686.1 L439.4 686.6 L439.5 688.0 L439.6 688.2 L439.6 687.6 L439.7 689.1 L439.8 691.0 L439.8 690.6 L439.9 691.7 L439.9 693.6 L440.0 694.0 L440.2 693.1 L440.4 691.6 L440.6 693.0 L440.9 692.3 L441.1 691.8 L441.3 689.2 L441.5 688.0 L441.6 690.6 L441.6 689.1 L441.7 689.6 L441.7 691.5 L441.8 693.5 L441.9 692.9 L441.9 693.1 L442.0 694.4 L442.0 693.4 L442.1 695.7 L442.1 697.3 L442.2 697.6 L442.3 699.0 L442.3 700.5 L442.4 701.2 L442.4 702.2 L442.5 702.0 L442.6 704.9 L442.6 704.4 L442.7 705.1 L442.7 705.1 L442.8 707.0 L442.9 707.0 L442.9 708.2 L443.0 709.0 L443.0 709.7 L443.1 712.0 L443.2 712.0 L443.2 713.7 L443.3 714.6 L443.3 715.9 L443.4 715.5 L443.4 716.7 L443.5 717.6 L443.6 717.1 L443.6 718.0 L443.7 718.4 L443.7 719.1 L443.8 721.2 L443.9 720.8 L443.9 719.9 L444.0 719.7 L444.0 721.1 L444.1 722.1 L444.2 723.7 L444.2 725.5 L444.3 728.0 L444.3 728.5 L444.4 728.0 L444.4 728.4 L444.5 726.4 L444.5 726.1 L444.5 726.4 L444.6 726.2 L444.6 722.6 L444.6 722.9 L444.7 723.4 L444.7 722.6 L444.7 719.6 L444.8 718.6 L444.8 718.6 L444.8 718.1 L444.9 716.2 L444.9 714.8 L444.9 715.3 L445.0 713.1 L445.0 714.1 L445.0 713.1 L445.1 712.4 L445.1 710.1 L445.1 709.1 L445.2 709.4 L445.2 707.2 L445.3 708.9 L445.3 706.3 L445.3 704.6 L445.4 704.5 L445.4 704.5 L445.4 704.4 L445.5 703.0 L445.5 702.0 L445.5 701.0 L445.6 699.8 L445.6 696.8 L445.6 698.1 L445.7 697.8 L445.7 697.3 L445.7 695.9 L445.8 695.5 L445.8 694.8 L445.8 693.9 L445.9 694.2 L445.9 691.4 L445.9 691.2 L446.0 689.5 L446.0 690.0 L446.1 689.8 L446.1 692.4 L446.2 691.9 L446.2 692.8 L446.3 693.2 L446.3 695.3 L446.4 695.0 L446.4 694.5 L446.5 696.6 L446.6 697.4 L446.6 698.2 L446.7 700.4 L446.7 700.1 L446.8 700.7 L446.8 702.0 L446.9 703.3 L446.9 703.5 L447.0 705.5 L447.1 708.1 L447.1 707.5 L447.2 709.6 L447.2 707.4 L447.3 709.8 L447.3 709.8 L447.4 710.7 L447.4 711.0 L447.5 712.0 L447.5 710.5 L447.5 708.8 L447.5 708.2 L447.6 709.2 L447.6 709.4 L447.6 707.7 L447.6 706.2 L447.6 704.8 L447.6 703.2 L447.6 704.8 L447.6 704.3 L447.6 703.2 L447.7 701.6 L447.7 699.8 L447.7 700.7 L447.7 700.4 L447.7 698.2 L447.7 698.4 L447.7 696.2 L447.8 696.3 L447.8 694.4 L447.8 693.5 L447.8 693.6 L447.8 693.2 L447.8 693.2 L447.8 691.1 L447.8 691.9 L447.9 691.8 L447.9 690.1 L447.9 689.2 L447.9 687.2 L447.9 686.2 L447.9 684.2 L447.9 684.1 L447.9 683.8 L447.9 684.3 L448.0 684.0 L448.0 683.3 L448.0 681.5 L448.0 680.0 L448.0 679.4 L448.1 678.2 L448.1 677.7 L448.1 675.0 L448.2 675.6 L448.2 673.4 L448.2 672.8 L448.3 672.6 L448.3 671.7 L448.4 672.9 L448.4 671.6 L448.4 672.1 L448.5 671.7 L448.5 669.5 L448.5 668.7 L448.6 668.8 L448.6 667.0 L448.6 665.9 L448.7 664.4 L448.7 663.7 L448.7 662.6 L448.8 662.0 L448.8 662.2 L448.8 662.4 L448.9 661.0 L448.9 659.9 L448.9 659.5 L449.0 657.9 L449.0 655.8 L449.1 656.3 L449.1 654.4 L449.1 654.6 L449.2 652.7 L449.2 653.8 L449.2 651.5 L449.3 651.5 L449.3 650.0 L449.4 651.0 L449.4 648.5 L449.4 649.1 L449.5 646.8 L449.6 644.2 L449.6 644.7 L449.6 644.7 L449.7 643.5 L449.8 640.2 L449.8 640.2 L449.9 639.7 L449.9 638.9 L449.9 638.3 L450.0 636.1 L450.1 635.6 L450.1 637.3 L450.1 637.7 L450.2 635.8 L450.2 634.0 L450.3 633.6 L450.3 633.7 L450.4 631.7 L450.5 633.9 L450.6 633.1 L450.7 634.2 L450.7 635.1 L450.8 637.3 L450.9 638.7 L451.0 639.2 L451.1 640.5 L451.2 640.1 L451.2 642.0 L451.3 641.6 L451.4 642.5 L451.5 643.9 L451.6 643.3 L451.7 643.5 L451.8 642.9 L451.8 644.7 L451.9 645.9 L452.0 646.7 L452.1 648.3 L452.4 649.1 L452.5 651.2 L452.8 650.2 L453.2 651.9 L453.6 651.2 L453.8 653.5 L454.2 654.0 L455.2 655.5 L455.8 654.1 L456.7 653.0 L459.4 697.0 L460.8 656.7 L461.0 657.7 L461.2 659.4 L461.6 658.8 L462.1 658.9 L462.3 660.9 L462.7 661.4 L462.9 662.2 L463.5 663.9 L463.4 664.4 L463.8 665.7 L464.2 665.0 L464.3 667.9 L464.4 667.7 L464.5 669.3 L464.6 669.3 L464.7 671.0 L464.9 668.7 L465.0 669.6 L465.1 671.2 L465.2 672.2 L465.3 671.6 L465.4 672.5 L465.5 675.0 L465.5 676.0 L465.6 675.5 L465.6 675.8 L465.6 676.2 L465.7 677.3 L465.7 679.4 L465.7 680.9 L465.8 679.7 L465.8 682.6 L465.8 682.7 L465.9 683.1 L465.9 685.8 L465.9 686.0 L466.0 685.4 L466.0 685.9 L466.0 686.5 L466.1 686.9 L466.1 688.1 L466.1 690.3 L466.2 691.4 L466.2 690.8 L466.2 694.7 L466.3 693.7 L466.3 694.5 L466.3 695.3 L466.4 696.7 L466.4 696.9 L466.4 698.1 L466.5 700.7 L466.5 700.6 L466.5 699.8 L466.6 700.9 L466.6 700.9 L466.6 701.6 L466.7 702.9 L466.7 704.1 L466.7 704.6 L466.8 706.2 L466.8 706.6 L466.8 706.0 L466.9 708.1 L466.9 708.8 L467.5 660.0 L467.5 659.0 L467.6 659.4 L467.6 657.6 L467.7 657.3 L467.7 656.6 L467.8 653.0 L467.8 651.6 L467.8 650.9 L467.9 652.5 L467.9 650.0 L468.0 650.9 L468.0 651.3 L468.1 650.6 L468.1 650.0 L468.1 648.3 L468.2 647.4 L468.2 646.7 L468.3 646.2 L468.3 645.8 L468.4 644.4 L468.4 642.8 L468.4 641.6 L468.5 641.5 L468.5 639.2 L468.6 637.8 L468.6 637.5 L468.6 636.8 L468.7 636.4 L468.7 633.5 L468.8 633.7 L468.8 633.6 L468.9 634.2 L468.9 631.6 L468.9 631.3 L469.0 631.5 L469.0 631.4 L469.1 631.7 L469.1 631.4 L469.2 628.9 L469.2 628.0 L469.4 627.9 L469.9 626.6 L470.2 625.2 L470.4 625.0 L470.6 624.6 L470.8 625.7 L471.0 627.2 L471.2 627.8 L471.4 628.9 L471.6 629.1 L471.8 629.5 L471.9 629.4 L472.1 631.1 L472.3 632.3 L472.5 634.5 L472.7 637.3 L472.9 637.2 L473.1 634.6 L473.3 637.0 L473.5 635.7 L473.6 638.7 L473.8 640.0 L474.0 640.5 L474.2 640.4 L474.4 642.0 L474.5 643.2 L474.7 644.9 L474.9 646.6 L475.0 648.1 L475.2 648.8 L475.4 647.0 L475.5 648.3 L475.6 649.5 L475.7 648.8 L475.7 649.2 L475.8 649.7 L475.9 649.9 L476.0 650.6 L476.1 653.7 L476.2 654.3 L476.3 656.6 L476.4 656.9 L476.4 655.5 L476.5 656.1 L476.6 659.0 L476.7 659.0 L477.6 661.1 L478.8 660.0 L478.8 661.6 L478.8 659.7 L478.8 661.0 L478.8 662.5 L478.8 663.7 L478.8 663.2 L478.8 664.9 L478.8 666.2 L478.9 666.2 L478.9 668.1 L478.9 668.9 L478.9 669.7 L478.9 670.1 L478.9 671.6 L478.9 672.4 L478.9 674.2 L479.0 675.0 L479.0 674.7 L479.0 675.3 L479.0 677.0 L479.0 677.2 L479.0 678.3 L479.0 679.4 L479.0 679.7 L479.1 678.2 L479.1 680.0 L479.1 681.4 L479.1 682.6 L479.1 682.7 L479.1 685.0 L479.1 685.4 L479.1 685.5 L479.2 685.8 L479.2 687.3 L479.2 687.2 L479.2 687.5 L479.2 690.0 L479.2 691.7 L479.2 693.4 L479.1 694.5 L479.1 695.8 L479.1 696.2 L479.1 694.5 L479.0 696.6 L479.0 698.2 L479.0 698.8 L479.0 697.1 L479.0 699.5 L478.9 701.4 L478.9 701.0 L478.9 701.7 L478.9 703.1 L478.8 703.4 L478.8 705.1 L478.8 705.4 L478.8 706.5 L478.8 706.9 L478.7 706.0 L478.7 706.2 L478.7 710.7 L478.7 710.9 L478.6 712.3 L478.6 713.4 L478.6 714.9 L478.6 715.0 L478.6 714.2 L478.5 714.7 L478.5 713.4 L478.5 714.7 L478.5 716.8 L478.4 715.4 L478.4 717.2 L478.4 719.0 L478.5 720.0 L478.6 722.1 L478.6 721.4 L478.7 721.6 L478.8 720.9 L478.9 721.6 L478.9 723.9 L479.0 727.1 L479.1 726.2 L479.2 728.4 L479.3 729.2 L479.3 729.1 L479.4 731.9 L479.5 729.4 L479.6 730.6 L479.7 731.9 L479.7 734.9 L479.8 736.7 L479.9 738.6 L480.0 737.9 L480.1 738.7 L480.1 739.9 L480.2 740.1 L480.3 740.4 L480.4 740.4 L480.4 740.4 L480.5 740.0 L480.6 742.0 L480.7 742.4 L480.7 740.7 L480.8 737.7 L480.9 737.9 L481.0 737.4 L481.0 737.0 L481.1 738.0 L481.2 736.4 L481.2 734.9 L481.3 733.3 L481.4 732.7 L481.4 731.6 L481.5 731.2 L481.6 733.5 L481.7 731.9 L481.7 729.4 L481.8 730.3 L481.9 729.5 L481.9 728.6 L482.0 727.6 L482.1 726.8 L482.1 725.9 L482.2 725.7 L482.3 724.9 L482.4 724.4 L482.4 722.0 L482.5 720.0 L482.6 719.9 L482.7 718.1 L482.7 718.3 L482.8 718.0 L482.9 716.2 L483.0 715.8 L483.0 717.2 L483.1 716.4 L483.2 713.3 L483.3 712.1 L483.3 711.8 L483.4 710.6 L483.5 709.9 L483.6 710.0 L483.6 708.9 L483.7 706.5 L483.8 706.5 L483.9 705.4 L483.9 704.6 L484.0 703.1 L484.1 701.1 L484.2 699.7 L484.2 699.4 L484.3 698.2 L484.4 699.4 L486.5 742.0 L487.5 680.0 L489.0 630.0 L489.0 626.9 L489.1 630.4 L489.1 630.6 L489.2 631.4 L489.2 633.5 L489.3 632.2 L489.3 635.4 L489.4 635.5 L489.4 637.4 L489.5 637.7 L489.5 638.9 L489.6 639.8 L489.6 640.6 L489.7 639.6 L489.7 639.7 L489.8 641.4 L489.8 644.2 L489.9 644.3 L489.9 645.7 L490.0 646.5 L490.0 647.7 L490.1 649.2 L490.1 648.0 L490.1 649.3 L490.2 650.0 L490.2 650.6 L490.3 650.7 L490.3 651.2 L490.4 651.6 L490.4 652.1 L490.5 656.2 L490.5 658.2 L490.6 658.1 L490.6 659.1 L490.7 658.3 L490.7 656.4 L490.8 656.5 L490.8 658.8 L490.9 661.8 L490.9 662.5 L491.0 662.2 L491.0 663.2 L491.1 663.3 L491.1 663.4 L491.2 664.8 L491.2 665.9 L491.2 668.0 L492.5 566.7 L495.4 619.0 L495.4 616.6 L495.5 615.6 L495.5 614.6 L495.6 614.8 L495.6 615.7 L495.7 614.4 L495.7 615.7 L495.8 612.4 L495.8 611.9 L495.8 609.9 L495.9 609.4 L495.9 609.0 L496.0 608.9 L496.0 609.0 L496.1 607.2 L496.1 605.0 L496.2 604.5 L496.2 604.3 L496.2 602.9 L496.3 603.3 L496.3 604.0 L496.4 601.0 L496.4 600.7 L496.5 600.8 L496.5 597.7 L496.6 597.5 L496.6 596.7 L496.6 594.7 L496.7 595.9 L496.7 595.2 L496.8 593.8 L496.8 593.5 L496.9 593.2 L496.9 592.8 L497.0 592.1 L497.0 590.0 L497.1 592.0 L497.2 591.2 L497.3 591.7 L497.4 592.9 L497.5 591.1 L497.6 595.2 L497.7 595.4 L497.8 595.3 L497.9 594.8 L498.0 596.8 L498.1 598.1 L498.2 598.6 L498.3 599.4 L498.4 599.7 L498.5 600.4 L498.6 601.7 L498.7 602.3 L498.8 604.3 L498.9 605.0 L499.0 606.0 L500.5 540.0 L502.9 473.8 L504.1 610.0 L504.1 610.8 L504.2 612.0 L504.2 613.9 L504.3 614.7 L504.3 615.2 L504.4 615.4 L504.4 615.2 L504.5 615.9 L504.5 617.6 L504.6 618.5 L504.6 618.8 L504.7 618.3 L504.7 618.2 L504.7 620.3 L504.8 622.5 L504.8 623.5 L504.9 622.8 L504.9 623.8 L505.0 625.1 L505.0 625.2 L505.1 626.7 L505.1 627.5 L505.2 627.6 L505.2 627.6 L505.2 630.0 L505.3 631.2 L505.3 631.1 L505.4 631.3 L505.4 633.5 L505.5 634.9 L505.5 635.2 L505.6 637.5 L505.6 637.4 L505.7 636.9 L505.7 639.1 L505.8 639.4 L505.8 640.0 L505.8 639.7 L505.9 638.7 L505.9 636.8 L506.0 635.1 L506.0 634.8 L506.1 635.8 L506.1 633.7 L506.2 634.5 L506.2 633.5 L506.3 631.3 L506.3 631.0 L506.4 630.8 L506.4 628.9 L506.4 626.2 L506.5 626.7 L506.5 625.3 L506.6 625.6 L506.6 623.2 L506.7 623.1 L506.7 622.1 L506.8 620.5 L506.8 620.5 L506.9 620.5 L506.9 619.5 L506.9 617.9 L507.0 618.1 L507.0 615.9 L507.1 616.5 L507.1 616.5 L507.2 617.3 L507.2 616.7 L507.3 615.5 L507.3 614.4 L507.4 613.1 L507.4 610.8 L507.5 611.7 L507.5 610.0 L507.8 560.0 L507.8 560.2 L507.8 558.7 L507.9 556.7 L507.9 557.7 L507.9 557.0 L507.9 554.6 L507.9 554.7 L508.0 555.6 L508.0 553.9 L508.0 553.0 L508.0 551.3 L508.0 549.8 L508.0 550.2 L508.1 552.1 L508.1 550.0 L508.1 548.2 L508.1 547.7 L508.1 546.0 L508.2 545.7 L508.2 545.2 L508.2 542.9 L508.2 541.0 L508.2 540.6 L508.3 540.9 L508.3 540.2 L508.3 540.4 L508.3 537.7 L508.3 537.5 L508.3 536.0 L508.4 535.5 L508.4 535.1 L508.4 533.2 L508.4 532.5 L508.4 530.9 L508.5 530.9 L508.5 529.6 L508.5 530.0 L508.6 529.6 L508.6 531.1 L508.7 531.6 L508.7 533.9 L508.8 533.9 L508.8 535.7 L508.9 536.5 L508.9 536.1 L509.0 536.9 L509.1 537.2 L509.1 538.1 L509.2 539.1 L509.2 542.1 L509.3 542.0 L509.3 544.2 L509.4 544.8 L509.4 543.8 L509.5 545.0 L512.1 300.0 L514.0 470.0 L514.0 466.7 L514.1 467.6 L514.1 465.2 L514.2 466.0 L514.2 466.5 L514.2 465.9 L514.3 464.6 L514.3 463.5 L514.4 463.0 L514.4 461.8 L514.5 460.6 L514.5 459.6 L514.5 460.3 L514.6 458.6 L514.6 458.2 L514.7 456.2 L514.7 455.1 L514.7 453.5 L514.8 453.3 L514.8 453.8 L514.9 453.3 L514.9 452.0 L514.9 451.9 L515.0 450.7 L515.0 450.3 L515.1 449.6 L515.1 449.2 L515.1 445.6 L515.2 444.3 L515.2 445.3 L515.3 444.6 L515.3 446.2 L515.4 444.4 L515.4 442.8 L515.4 443.4 L515.5 442.6 L515.5 443.0 L515.6 441.7 L515.6 438.8 L516.7 583.0 L518.1 472.0 L519.6 570.0 L521.9 488.8 L521.9 490.6 L522.0 491.7 L522.0 491.2 L522.1 491.5 L522.1 492.0 L522.1 492.9 L522.2 494.7 L522.2 494.9 L522.3 496.1 L522.3 496.4 L522.4 498.2 L522.4 496.1 L522.4 497.6 L522.5 499.2 L522.5 499.3 L522.6 501.6 L522.6 502.6 L522.6 504.6 L522.7 505.7 L522.7 506.5 L522.8 506.4 L522.8 505.8 L522.8 506.6 L522.9 507.2 L522.9 508.6 L523.0 509.0 L523.0 513.0 L523.0 511.2 L523.1 513.1 L523.1 513.0 L523.2 513.5 L523.2 515.2 L523.3 515.7 L523.3 515.1 L523.3 516.7 L523.4 517.3 L523.4 516.3 L523.5 518.1 L523.5 520.0 L525.6 449.4 L527.3 648.8 L528.5 540.0 L529.9 723.8 L531.7 -100.0 L532.2 622.0 L532.0 -100.0 L534.2 -100.0 L534.2 370.0 L534.3 -100.0 L540.5 -100.0 L540.5 100.0 L540.5 -100.0 L552.5 -100.0 L552.5 1100.0 L609.7 1100.0 L609.9 -100.0 L611.0 1100.0 L612.5 -100.0 L613.8 1100.0 L614.0 -100.0 L635.5 -100.0 L636.4 204.0 L637.8 204.0 L637.8 100.0 L637.8 202.0 L638.4 199.7 L639.2 198.9 L640.2 200.0 L640.0 250.0 L641.0 248.7 L641.5 251.3 L642.5 250.0 L642.5 250.2 L642.5 248.9 L642.5 245.8 L642.5 244.2 L642.5 243.1 L642.5 245.4 L642.5 244.3 L642.5 243.3 L642.5 242.0 L642.5 242.5 L642.5 241.5 L642.5 242.2 L642.5 241.4 L642.5 241.4 L642.5 239.4 L642.5 238.4 L642.5 236.7 L642.5 235.6 L642.5 233.1 L642.5 232.4 L642.5 231.3 L642.5 230.6 L642.5 231.6 L642.5 231.0 L642.5 231.3 L642.5 230.7 L642.5 230.1 L642.5 229.6 L642.5 227.3 L642.5 227.0 L642.5 225.4 L642.5 224.0 L642.5 224.4 L642.5 225.3 L642.5 222.5 L642.5 223.1 L642.5 222.3 L642.5 219.8 L642.5 219.1 L642.5 218.5 L642.5 217.0 L642.5 218.6 L642.5 218.7 L642.5 218.2 L642.5 219.5 L642.5 221.5 L642.5 222.8 L642.5 223.9 L642.5 225.2 L642.5 224.4 L642.5 225.1 L642.5 226.2 L642.5 227.8 L642.5 228.3 L642.5 229.3 L642.5 229.8 L642.5 232.3 L642.6 230.1 L642.6 231.1 L642.6 234.4 L642.6 234.6 L642.6 233.0 L642.6 234.3 L642.6 233.9 L642.6 234.7 L642.6 236.4 L642.6 239.1 L642.6 239.9 L642.6 240.9 L642.6 242.1 L642.6 242.4 L642.6 241.9 L642.6 242.6 L642.7 243.8 L642.7 244.2 L642.7 244.5 L642.7 245.2 L642.7 244.9 L642.7 245.5 L642.7 247.0 L642.7 248.0 L642.7 250.0 L642.7 356.0 L642.8 354.5 L642.8 355.3 L642.9 354.4 L642.9 353.2 L643.0 351.1 L643.0 349.6 L643.1 349.7 L643.2 348.3 L643.2 348.4 L643.3 346.7 L643.3 346.5 L643.4 345.8 L643.4 346.1 L643.5 344.7 L643.5 343.5 L643.6 343.0 L643.7 342.3 L643.7 343.0 L643.8 341.3 L643.8 339.7 L643.9 338.6 L643.9 338.4 L644.0 337.7 L644.0 337.4 L644.1 334.9 L644.2 336.8 L644.2 337.0 L644.3 335.0 L644.3 332.3 L644.4 331.7 L644.4 331.3 L644.5 330.0 L644.5 327.3 L644.6 327.3 L644.6 325.5 L644.7 326.0 L644.7 326.8 L644.8 326.7 L644.8 323.8 L644.8 324.5 L644.9 324.2 L644.9 322.5 L645.0 321.9 L645.0 322.3 L645.0 320.3 L645.1 319.2 L645.1 317.6 L645.2 318.0 L645.2 314.8 L645.3 315.9 L645.3 314.0 L645.3 314.3 L645.4 311.8 L645.4 310.6 L645.5 309.9 L645.5 310.5 L645.6 308.2 L645.6 309.0 L645.8 309.4 L645.9 309.8 L646.1 312.1 L646.2 312.4 L646.4 313.6 L646.5 314.0 L646.6 316.5 L646.8 316.2 L647.0 316.7 L647.1 319.3 L647.2 319.3 L647.4 320.2 L647.5 319.7 L647.7 320.7 L647.9 319.2 L648.0 322.0 L648.0 321.7 L648.1 322.3 L648.1 322.2 L648.1 322.5 L648.1 325.5 L648.2 327.0 L648.2 326.3 L648.2 329.4 L648.3 329.2 L648.3 329.7 L648.3 330.9 L648.4 330.6 L648.4 330.3 L648.4 331.3 L648.4 334.0 L648.5 335.8 L648.5 334.7 L648.5 337.1 L648.6 337.7 L648.6 338.9 L648.6 339.4 L648.7 340.5 L648.7 340.0 L648.7 340.2 L648.7 340.8 L648.8 341.8 L648.8 343.7 L648.8 343.4 L648.9 346.2 L648.9 346.1 L648.9 346.4 L649.0 348.2 L649.0 349.3 L649.0 349.5 L649.0 349.3 L649.1 349.5 L649.1 349.4 L649.1 352.3 L649.2 354.3 L649.2 356.6 L649.2 357.0 L649.3 357.4 L649.3 358.4 L649.3 359.4 L649.3 359.3 L649.4 360.1 L649.4 360.0 L649.4 363.4 L649.4 361.6 L649.3 361.0 L649.3 361.5 L649.3 363.7 L649.3 365.8 L649.3 365.9 L649.2 367.3 L649.2 367.8 L649.2 368.7 L649.2 368.8 L649.1 369.6 L649.1 370.5 L649.1 372.4 L649.1 375.0 L649.1 372.9 L649.0 374.3 L649.0 374.9 L649.0 376.6 L649.0 378.0 L649.0 378.9 L648.9 379.7 L648.9 378.9 L648.9 378.0 L648.9 381.0 L648.9 382.7 L648.8 382.0 L648.8 384.1 L648.8 385.0 L648.8 382.9 L648.8 385.2 L648.7 385.1 L648.7 387.4 L648.7 387.3 L648.7 387.6 L648.6 387.3 L648.6 388.7 L648.6 391.1 L648.6 391.2 L648.6 390.4 L648.5 394.2 L648.5 396.4 L648.5 395.0 L648.0 452.5 L651.2 380.6 L652.5 448.0 L654.4 392.5 L655.0 440.0 L655.0 441.2 L655.1 439.1 L655.1 436.8 L655.2 434.7 L655.2 435.3 L655.2 436.0 L655.3 433.8 L655.3 433.2 L655.4 432.3 L655.4 431.4 L655.4 431.3 L655.5 432.4 L655.5 430.1 L655.6 429.9 L655.6 429.6 L655.6 427.9 L655.7 426.6 L655.7 424.4 L655.8 425.0 L655.8 423.5 L655.8 422.2 L655.9 421.8 L655.9 420.3 L656.0 418.9 L656.0 418.5 L656.1 419.6 L656.1 418.4 L656.1 418.0 L656.2 415.5 L656.2 413.2 L656.3 415.2 L656.3 413.9 L656.3 411.7 L656.4 411.4 L656.4 411.6 L656.5 409.2 L656.5 408.2 L656.5 408.4 L656.6 407.1 L656.6 407.6 L656.7 407.7 L656.7 407.0 L656.7 405.4 L656.8 404.5 L656.8 403.0 L656.9 402.3 L656.9 402.0 L655.6 462.5 L655.9 461.8 L656.6 459.1 L656.6 460.8 L657.0 459.0 L657.5 460.7 L658.0 458.0 L658.0 459.5 L658.0 460.2 L658.0 460.7 L657.9 462.4 L657.9 460.8 L657.9 463.8 L657.9 464.1 L657.9 465.4 L657.9 466.7 L657.9 466.3 L657.8 467.7 L657.8 466.9 L657.8 468.2 L657.8 468.2 L657.8 470.4 L657.8 472.4 L657.8 471.3 L657.7 472.5 L657.7 472.4 L657.7 472.1 L657.7 473.5 L657.7 475.8 L657.7 477.6 L657.7 477.3 L657.6 477.7 L657.6 480.0 L657.6 480.2 L657.6 482.5 L657.6 484.3 L657.6 484.3 L657.6 483.3 L657.5 483.5 L657.5 485.1 L657.5 485.3 L657.5 486.0 L658.1 485.3 L658.8 484.9 L659.3 483.6 L659.8 483.0 L659.7 482.8 L659.6 484.7 L659.6 486.1 L659.5 485.1 L659.5 484.3 L659.4 485.3 L659.4 486.0 L659.3 488.1 L659.3 488.6 L659.2 491.7 L659.2 491.8 L659.1 492.2 L659.1 494.2 L659.0 495.2 L659.0 494.9 L658.9 496.7 L658.9 499.2 L658.8 498.0 L658.8 498.8 L659.6 498.7 L660.2 499.4 L660.9 499.1 L661.9 499.4 L661.8 499.1 L661.8 501.0 L661.7 502.7 L661.6 502.0 L661.6 502.2 L661.5 503.0 L661.5 503.6 L661.4 504.7 L661.3 507.0 L661.3 506.2 L661.2 507.8 L661.1 508.4 L661.1 508.7 L661.0 508.5 L661.0 508.1 L660.9 510.3 L660.8 513.3 L660.8 513.1 L660.7 514.9 L660.6 514.4 L660.6 516.1 L660.5 516.7 L660.4 517.3 L660.4 516.9 L660.3 517.9 L660.3 518.9 L660.2 521.6 L660.1 522.9 L660.1 523.7 L660.0 523.8 L660.2 524.3 L660.3 525.4 L660.5 526.9 L660.6 528.6 L660.8 529.6 L660.9 531.4 L661.1 530.8 L661.3 530.1 L661.4 532.1 L661.6 534.2 L661.7 534.9 L661.9 534.7 L662.1 535.1 L662.2 535.1 L662.4 535.5 L662.5 536.4 L662.7 537.6 L662.8 537.1 L663.0 539.0 L663.4 538.0 L663.3 539.0 L663.6 538.0 L663.8 536.0 L664.2 534.4 L664.2 534.1 L664.8 535.0 L664.6 533.9 L665.2 531.4 L665.3 531.8 L665.3 530.8 L665.8 528.5 L666.0 526.8 L666.2 527.5 L666.2 524.4 L666.2 524.4 L666.1 524.5 L666.1 525.9 L666.0 526.2 L666.0 524.2 L666.0 523.6 L665.9 521.8 L665.9 521.0 L665.8 519.8 L665.8 518.2 L665.8 517.6 L665.7 515.3 L665.7 515.5 L665.6 514.6 L665.6 512.9 L665.6 512.3 L665.5 512.5 L665.5 511.1 L665.4 511.1 L665.4 510.8 L665.4 511.3 L665.3 508.6 L665.3 507.7 L665.2 507.4 L665.2 507.9 L665.2 506.6 L665.1 506.0 L665.1 503.1 L665.0 501.9 L665.0 502.0 L665.2 503.9 L665.4 504.0 L665.6 506.8 L665.8 505.9 L665.9 506.2 L666.1 505.4 L666.3 507.4 L666.5 508.6 L666.7 511.4 L666.9 511.5 L667.1 511.5 L667.2 510.7 L667.4 511.9 L667.6 513.9 L667.8 515.2 L668.0 515.0 L668.1 516.0 L668.3 515.3 L668.4 513.7 L668.6 513.1 L668.7 511.9 L668.9 509.4 L669.0 510.6 L669.1 509.7 L669.3 507.4 L669.4 507.1 L669.6 506.5 L669.7 506.6 L669.9 506.7 L670.0 503.8 L672.5 562.0 L672.6 559.5 L672.6 559.9 L672.7 560.8 L672.8 558.5 L672.9 556.0 L672.9 556.2 L673.0 556.1 L673.1 555.7 L673.1 553.7 L673.2 552.8 L673.3 552.6 L673.3 552.7 L673.4 553.9 L673.5 552.4 L673.6 550.2 L673.6 546.9 L673.7 548.0 L673.8 547.1 L673.8 546.3 L673.9 544.6 L674.0 544.9 L674.0 542.3 L674.1 542.3 L674.2 542.0 L674.3 541.7 L674.3 542.1 L674.4 540.0 L674.8 539.9 L675.1 538.8 L675.4 537.5 L675.5 536.7 L675.9 536.7 L676.3 535.9 L676.2 533.3 L676.5 532.9 L676.9 532.5 L677.0 533.9 L677.1 533.9 L677.2 535.9 L677.3 537.1 L677.4 537.9 L677.5 538.6 L677.5 537.7 L677.6 539.0 L677.7 538.8 L677.8 538.8 L677.9 540.0 L678.0 541.5 L678.1 542.6 L678.2 543.3 L678.3 543.3 L678.4 544.9 L678.5 545.2 L678.6 545.1 L678.7 546.8 L678.8 548.8 L678.8 550.3 L678.9 550.4 L679.0 550.2 L679.0 552.8 L679.1 555.0 L679.2 554.6 L679.3 554.8 L679.3 555.7 L679.4 559.3 L679.5 558.9 L679.6 559.9 L679.6 560.3 L679.7 558.5 L679.8 558.6 L679.9 558.8 L679.9 560.9 L680.0 562.1 L680.1 564.9 L680.2 564.8 L680.2 565.7 L680.3 566.3 L680.4 567.0 L680.5 570.0 L680.5 570.0 L680.6 571.6 L680.7 572.7 L680.8 571.7 L680.8 572.8 L680.9 572.7 L681.0 573.4 L681.1 574.3 L681.1 574.9 L681.2 575.2 L681.3 577.7 L681.4 577.7 L681.4 579.0 L681.5 578.8 L681.6 580.2 L681.6 579.1 L681.7 578.5 L681.8 578.2 L681.8 577.4 L681.9 577.2 L682.0 573.7 L682.0 574.6 L682.1 572.9 L682.2 569.8 L682.3 568.7 L682.3 566.9 L682.4 567.0 L682.5 565.2 L682.5 564.3 L682.6 564.7 L682.7 564.5 L682.7 563.1 L682.8 562.5 L682.9 561.9 L682.9 561.5 L683.0 560.8 L683.1 559.8 L683.1 560.0 L683.2 557.3 L683.3 556.5 L683.4 556.3 L683.4 555.3 L683.5 554.3 L683.6 553.4 L683.6 553.3 L683.7 553.9 L683.8 552.5 L683.8 551.2 L683.9 550.8 L684.0 549.6 L684.0 546.9 L684.1 547.1 L684.2 546.3 L684.2 545.3 L684.3 545.5 L684.4 544.8 L684.5 543.4 L684.5 540.7 L684.6 539.1 L684.7 539.6 L684.7 539.5 L684.8 539.6 L684.9 539.1 L684.9 537.8 L685.0 537.5 L685.1 536.8 L685.2 537.1 L685.3 538.5 L685.3 538.7 L685.4 541.1 L685.5 540.7 L685.6 540.3 L685.7 542.0 L685.8 541.8 L685.9 545.4 L686.0 545.2 L686.0 546.4 L686.1 547.2 L686.2 547.4 L686.3 546.9 L686.4 546.9 L686.5 549.9 L686.6 552.1 L686.6 555.0 L686.7 553.4 L686.8 554.7 L686.9 555.0 L686.9 554.5 L687.0 554.4 L687.0 552.7 L687.1 552.6 L687.1 552.3 L687.1 551.6 L687.2 551.7 L687.2 549.8 L687.2 550.0 L687.3 547.6 L687.3 548.2 L687.4 543.8 L687.4 543.6 L687.4 542.4 L687.5 542.1 L687.5 542.6 L687.6 542.3 L687.6 541.2 L687.6 541.8 L687.7 538.7 L687.7 537.1 L687.8 538.2 L687.8 537.4 L687.8 534.1 L687.9 534.3 L687.9 532.5 L687.9 533.8 L688.0 533.9 L688.0 532.0 L688.1 532.3 L688.1 530.0 L688.3 529.2 L688.4 529.3 L688.6 528.7 L688.8 527.2 L688.9 524.8 L689.1 524.1 L689.3 521.3 L689.4 521.1 L689.6 519.3 L689.8 521.0 L689.9 519.4 L690.1 516.7 L690.3 517.8 L690.4 517.9 L690.6 517.5 L690.7 517.5 L690.7 520.8 L690.8 521.7 L690.8 521.9 L690.9 521.6 L690.9 519.4 L691.0 521.9 L691.0 524.2 L691.1 524.4 L691.1 523.9 L691.2 525.4 L691.3 525.0 L691.3 526.7 L691.4 528.8 L691.4 531.2 L691.5 531.7 L691.5 532.2 L691.6 533.4 L691.6 535.1 L691.7 534.8 L691.7 534.0 L691.8 534.2 L691.8 534.3 L691.9 535.0 L692.0 536.5 L692.0 538.2 L692.1 539.4 L692.1 540.3 L692.2 540.8 L692.2 542.1 L692.3 543.8 L692.3 544.9 L692.4 546.7 L692.4 546.3 L692.5 546.0 L692.7 545.6 L692.8 546.4 L693.0 545.0 L693.2 544.1 L693.4 542.5 L693.5 542.5 L693.7 540.8 L693.9 538.9 L694.0 538.4 L694.2 537.4 L694.4 537.7 L694.5 536.4 L694.7 535.8 L694.9 534.8 L695.1 534.5 L695.2 533.0 L695.4 533.5 L695.6 530.9 L695.7 530.2 L695.9 529.0 L696.1 529.4 L696.2 528.8 L696.3 529.5 L696.4 530.8 L696.5 531.1 L696.6 531.3 L696.7 531.2 L696.8 532.3 L696.9 533.1 L697.0 534.7 L697.0 536.1 L697.1 537.9 L697.2 538.2 L697.3 538.1 L697.4 538.0 L697.5 539.4 L697.6 540.9 L697.6 543.6 L697.7 543.9 L697.8 545.9 L697.9 547.6 L698.0 545.0 L698.1 545.2 L698.2 545.2 L698.3 544.8 L698.4 544.4 L698.5 542.5 L698.6 542.1 L698.7 540.0 L698.8 538.9 L698.9 537.9 L699.0 538.8 L699.0 537.0 L699.1 536.8 L699.2 535.5 L699.3 533.5 L699.4 533.0 L699.5 532.8 L699.6 531.0 L699.7 530.9 L699.8 529.2 L699.9 527.7 L700.0 528.0 L700.1 528.4 L700.2 529.1 L700.3 529.2 L700.4 528.9 L700.6 530.7 L700.7 532.3 L700.8 532.9 L700.9 534.2 L701.0 533.6 L701.1 535.5 L701.2 537.0 L701.3 538.1 L701.4 538.2 L701.6 539.2 L701.7 540.2 L701.8 542.1 L701.9 542.8 L702.0 543.5 L702.1 543.2 L702.2 545.0 L702.3 546.7 L702.4 546.4 L702.6 547.7 L702.7 548.4 L702.8 548.8 L702.9 548.2 L703.0 550.0 L703.1 552.0 L703.1 550.5 L703.2 552.1 L703.2 552.8 L703.3 555.0 L703.3 555.1 L703.4 556.0 L703.5 557.4 L703.5 558.5 L703.6 558.4 L703.6 560.0 L703.7 560.9 L703.8 561.0 L704.2 563.3 L704.2 563.0 L704.5 562.8 L705.1 564.1 L705.6 564.7 L705.6 566.0 L706.0 566.8 L706.2 567.5 L706.3 568.5 L706.3 569.0 L706.3 569.8 L706.4 569.0 L706.4 570.8 L706.4 571.2 L706.4 572.3 L706.5 572.0 L706.5 573.6 L706.5 574.5 L706.5 575.2 L706.6 577.3 L706.6 575.7 L706.6 577.3 L706.6 576.7 L706.7 577.1 L706.7 580.8 L706.7 582.0 L706.7 583.4 L706.8 582.2 L706.8 582.3 L706.8 584.5 L706.8 585.9 L706.9 587.7 L706.9 587.5 L706.9 587.6 L707.4 587.0 L707.7 587.3 L707.5 584.4 L708.2 584.4 L708.1 583.4 L708.6 583.4 L708.6 578.9 L708.6 579.1 L709.2 579.1 L709.2 577.9 L709.3 577.8 L709.5 579.5 L709.6 576.9 L709.9 577.1 L710.0 576.6 L710.5 576.6 L710.7 574.6 L710.9 574.3 L710.9 573.1 L711.2 570.6 L711.3 573.0 L711.3 573.8 L711.3 573.9 L711.4 575.2 L711.4 576.4 L711.4 574.7 L711.5 574.9 L711.5 577.0 L711.5 578.2 L711.5 579.6 L711.6 581.3 L711.6 580.5 L711.6 581.6 L711.7 583.5 L711.7 582.8 L711.7 585.3 L711.7 583.6 L711.8 584.6 L711.8 588.1 L711.8 587.9 L711.9 588.6 L711.9 588.8 L712.0 590.4 L712.0 590.7 L712.1 592.2 L712.2 592.8 L712.3 592.7 L712.4 596.1 L712.5 596.7 L712.5 596.0 L712.6 594.7 L712.7 595.8 L712.8 597.6 L712.9 597.2 L713.0 598.2 L713.0 599.5 L713.1 601.2 L713.2 601.6 L713.3 604.0 L713.5 602.8 L713.6 603.0 L713.7 606.4 L713.8 605.2 L713.9 606.5 L714.0 607.8 L714.2 609.5 L714.3 609.1 L714.4 610.0 L714.7 609.7 L715.1 610.1 L715.7 607.7 L715.8 607.7 L716.4 606.4 L716.9 605.0 L716.9 604.8 L716.9 605.2 L717.0 605.0 L717.0 608.0 L717.0 609.0 L717.1 609.2 L717.1 609.0 L717.1 610.2 L717.1 611.1 L717.2 614.2 L717.2 614.2 L717.2 615.1 L717.3 617.0 L717.3 618.0 L717.3 618.1 L717.4 616.6 L717.4 619.5 L717.4 620.8 L717.4 620.9 L717.5 621.6 L717.5 622.5 L718.4 620.9 L718.9 620.7 L719.7 619.8 L720.6 620.0 L720.7 620.3 L720.8 621.6 L720.9 623.1 L721.0 624.5 L721.0 624.5 L721.1 625.4 L721.2 624.0 L721.3 624.4 L721.4 625.3 L721.5 626.6 L721.5 627.8 L721.6 628.2 L721.7 630.2 L721.8 632.3 L721.9 632.5 L722.0 633.6 L722.2 632.1 L722.3 631.3 L722.5 630.8 L722.7 630.9 L722.8 628.7 L723.0 628.1 L723.1 625.5 L723.3 623.7 L723.4 622.2 L723.6 622.8 L723.8 622.5 L723.8 622.9 L723.8 623.9 L723.8 624.0 L723.8 625.1 L723.8 628.0 L723.9 626.7 L723.9 626.6 L723.9 629.0 L723.9 628.9 L723.9 630.1 L723.9 631.3 L724.0 630.6 L724.0 631.7 L724.0 633.0 L724.0 634.5 L724.0 636.0 L724.0 636.6 L724.1 637.3 L724.1 637.9 L724.1 638.8 L724.1 640.4 L724.1 640.1 L724.1 638.2 L724.2 640.7 L724.2 642.0 L724.2 645.6 L724.2 644.5 L724.2 645.8 L724.2 647.1 L724.3 646.6 L724.3 647.4 L724.3 647.3 L724.3 649.1 L724.3 650.0 L724.3 651.2 L724.4 652.4 L724.4 652.5 L725.0 652.6 L725.8 650.6 L726.9 649.1 L727.5 650.0 L727.7 649.8 L727.8 650.1 L728.0 650.8 L728.2 652.3 L728.4 654.6 L728.5 654.6 L728.7 656.0 L728.9 656.8 L729.0 657.1 L729.2 657.0 L729.4 658.8 L729.4 657.2 L729.5 656.0 L729.6 656.1 L729.6 653.6 L729.7 654.6 L729.8 654.5 L729.8 654.0 L729.9 654.2 L730.0 653.2 L730.0 649.9 L730.1 649.4 L730.2 649.1 L730.2 647.5 L730.3 645.8 L730.4 645.9 L730.4 645.8 L730.5 644.5 L730.5 643.5 L730.6 642.3 L730.7 641.3 L730.7 640.8 L730.8 641.3 L730.9 638.6 L730.9 637.9 L731.0 638.1 L731.0 639.9 L731.1 640.6 L731.1 641.2 L731.1 642.6 L731.2 641.9 L731.2 641.7 L731.2 641.4 L731.3 641.7 L731.3 643.9 L731.3 646.2 L731.4 646.6 L731.4 646.9 L731.4 648.5 L731.5 650.0 L731.5 650.8 L731.5 649.6 L731.6 650.4 L731.6 649.4 L731.6 651.8 L731.7 652.4 L731.7 653.4 L731.7 656.4 L731.7 658.3 L731.8 659.0 L731.8 659.5 L731.8 660.0 L731.9 660.0 L731.9 660.7 L732.0 661.5 L732.0 664.2 L732.1 663.4 L732.1 663.5 L732.1 664.7 L732.2 666.4 L732.2 667.7 L732.3 667.1 L732.3 667.8 L732.4 668.4 L732.4 668.2 L732.5 669.7 L732.5 671.2 L732.6 671.1 L732.7 673.2 L732.8 674.3 L733.0 674.0 L733.1 675.1 L733.2 675.6 L733.3 675.9 L733.4 676.6 L733.5 678.8 L733.6 679.1 L733.8 680.0 L733.9 677.5 L734.1 676.6 L734.3 677.3 L734.4 678.7 L734.6 676.1 L734.8 675.0 L734.9 673.9 L735.1 672.0 L735.3 672.2 L735.5 671.6 L735.6 671.2 L735.8 672.1 L736.0 675.0 L736.1 674.7 L736.3 675.8 L736.5 676.9 L736.6 676.4 L736.8 676.5 L737.0 678.9 L737.2 679.9 L737.3 680.2 L737.5 680.0 L737.5 680.4 L737.4 682.3 L737.4 683.4 L737.3 686.0 L737.3 687.2 L737.3 687.6 L737.2 687.7 L737.2 687.8 L737.1 687.7 L737.1 688.7 L737.0 689.6 L737.0 690.9 L737.0 692.4 L736.9 692.9 L736.9 692.5 L737.7 692.7 L738.8 692.5 L738.8 740.0 L738.8 739.4 L738.9 737.4 L739.0 736.7 L739.1 736.6 L739.2 735.9 L739.2 737.7 L739.3 736.4 L739.4 735.2 L739.5 733.5 L739.6 730.2 L739.7 730.9 L739.8 729.4 L739.8 730.1 L739.9 728.5 L740.0 727.5 L740.0 728.1 L740.0 730.1 L740.0 730.2 L740.0 729.3 L740.0 731.1 L740.0 732.6 L740.0 733.7 L740.0 734.2 L740.0 735.2 L740.0 735.0 L740.0 736.0 L740.0 737.7 L740.0 735.3 L740.0 737.7 L740.0 740.1 L740.0 742.3 L740.0 742.0 L740.0 743.1 L740.0 743.4 L740.0 743.0 L740.0 744.4 L740.0 746.2 L740.0 747.5 L740.0 745.9 L740.0 746.9 L740.0 747.9 L740.0 749.0 L740.0 750.0 L740.4 749.4 L740.6 751.7 L740.9 752.3 L740.9 753.2 L741.1 755.1 L741.3 755.3 L741.8 756.4 L741.9 756.9 L741.9 755.1 L742.0 755.4 L742.1 755.8 L742.2 753.4 L742.2 752.8 L742.3 754.2 L742.4 753.5 L742.4 748.9 L742.5 748.5 L742.6 746.4 L742.6 746.9 L742.7 745.8 L742.8 745.0 L742.8 743.9 L742.9 744.0 L743.0 743.0 L743.1 741.7 L743.1 741.2 L743.2 741.2 L743.3 739.7 L743.3 740.4 L743.4 737.7 L743.5 737.8 L743.5 736.8 L743.6 737.8 L743.7 735.9 L743.8 735.0 L743.8 735.2 L743.9 735.0 L744.0 738.4 L744.1 739.5 L744.2 738.8 L744.2 739.5 L744.3 739.6 L744.4 742.4 L744.5 743.3 L744.6 741.9 L744.7 743.5 L744.8 745.5 L744.8 746.1 L744.9 747.3 L745.0 747.5 L745.1 747.0 L745.2 746.2 L745.3 745.5 L745.4 743.8 L745.5 743.5 L745.6 742.8 L745.7 741.9 L745.8 740.4 L745.9 738.8 L746.0 738.8 L746.1 739.0 L746.2 735.6 L746.2 735.1 L746.3 736.3 L746.4 736.3 L746.5 734.4 L746.6 734.9 L746.7 732.6 L746.8 731.1 L746.9 732.5 L747.0 730.7 L747.1 729.5 L747.2 727.1 L747.3 725.9 L747.4 724.8 L747.5 726.2 L747.5 725.6 L747.6 725.2 L747.6 728.1 L747.7 728.8 L747.7 729.3 L747.8 729.9 L747.8 732.0 L747.8 734.3 L747.9 734.1 L747.9 736.3 L748.0 737.9 L748.0 739.0 L748.1 738.9 L748.1 737.5 L748.1 739.1 L748.2 739.3 L748.2 740.3 L748.3 739.2 L748.3 740.5 L748.4 742.1 L748.4 742.2 L748.4 743.8 L748.5 746.4 L748.5 746.9 L748.6 746.7 L748.6 749.8 L748.7 747.6 L748.7 747.9 L748.8 750.0 L748.8 748.8 L748.9 747.5 L749.0 744.8 L749.0 745.3 L749.1 745.8 L749.2 744.2 L749.2 745.1 L749.3 744.4 L749.4 744.3 L749.4 741.3 L749.5 740.6 L749.6 741.4 L749.7 742.0 L749.7 741.3 L749.8 739.3 L749.9 737.9 L749.9 736.0 L750.0 735.0 L750.1 736.9 L750.2 736.6 L750.3 737.5 L750.4 736.2 L750.5 736.4 L750.6 739.9 L750.7 740.7 L750.8 741.7 L750.9 740.2 L751.0 741.7 L751.1 745.0 L751.2 743.9 L751.3 742.6 L751.4 744.3 L751.5 745.3 L751.6 746.6 L751.7 746.6 L751.8 746.8 L751.9 747.4 L752.0 749.9 L752.1 751.1 L752.2 752.5 L752.3 752.1 L752.3 750.1 L752.4 750.1 L752.4 748.8 L752.5 748.3 L752.5 748.4 L752.5 747.3 L752.6 745.9 L752.6 743.5 L752.7 743.4 L752.7 743.7 L752.8 742.2 L752.8 741.5 L752.9 739.1 L752.9 737.7 L752.9 738.3 L753.0 739.1 L753.0 737.8 L753.1 735.3 L753.1 734.7 L753.1 732.9 L753.2 732.8 L753.2 734.5 L753.3 733.6 L753.3 732.3 L753.4 732.4 L753.4 730.7 L753.5 730.0 L753.5 729.2 L753.5 728.6 L753.6 726.0 L753.6 726.3 L753.7 726.3 L753.7 722.9 L753.8 723.8 L753.9 720.9 L754.0 722.3 L754.1 725.8 L754.2 726.8 L754.3 728.3 L754.4 729.5 L754.5 730.8 L754.6 730.4 L754.7 730.6 L754.9 731.9 L755.0 733.3 L755.1 734.4 L755.2 735.2 L755.3 735.1 L755.4 737.0 L755.5 737.8 L755.6 737.5 L755.6 738.4 L755.7 734.4 L755.7 735.2 L755.7 731.9 L755.7 732.3 L755.7 731.3 L755.8 731.2 L755.8 730.2 L755.8 729.4 L755.8 729.1 L755.8 728.8 L755.9 727.1 L755.9 724.1 L755.9 723.7 L755.9 724.4 L755.9 723.2 L756.0 723.4 L756.0 722.4 L756.0 720.9 L756.0 721.7 L756.0 722.4 L756.1 720.8 L756.1 719.5 L756.1 719.4 L756.1 716.8 L756.1 715.3 L756.2 716.1 L756.2 716.1 L756.2 714.3 L756.2 712.7 L756.2 712.5 L756.4 711.7 L756.6 709.5 L756.8 708.8 L756.9 708.3 L757.1 705.5 L757.3 706.5 L757.4 706.9 L757.6 707.2 L757.8 704.6 L758.0 702.8 L758.1 703.8 L758.1 702.7 L758.2 703.0 L758.2 706.8 L758.2 706.4 L758.2 707.1 L758.3 708.4 L758.3 709.7 L758.3 711.8 L758.3 710.9 L758.3 712.6 L758.4 713.2 L758.4 712.6 L758.4 713.9 L758.4 713.4 L758.5 716.5 L758.5 716.3 L758.5 718.2 L758.5 720.0 L758.5 719.5 L758.6 719.2 L758.6 720.4 L758.6 720.2 L758.6 722.4 L758.7 723.3 L758.7 723.3 L758.7 723.6 L758.7 725.5 L758.8 726.2 L758.8 724.1 L758.9 725.5 L759.0 723.5 L759.1 722.6 L759.2 721.1 L759.3 722.3 L759.4 721.9 L759.5 721.9 L759.6 720.9 L759.7 719.4 L759.8 719.7 L759.9 718.6 L760.0 717.4 L760.1 716.5 L760.2 715.8 L760.2 714.5 L760.3 713.0 L760.4 710.4 L760.5 712.1 L760.6 710.0 L760.7 710.3 L760.8 709.2 L760.9 710.3 L761.0 714.0 L761.1 715.8 L761.2 715.4 L761.4 716.3 L761.5 716.9 L761.6 715.7 L761.7 716.9 L761.8 718.6 L761.9 720.0 L761.9 721.6 L762.0 720.9 L762.0 719.8 L762.1 720.1 L762.1 722.5 L762.2 724.0 L762.2 725.3 L762.2 726.4 L762.3 726.9 L762.3 726.5 L762.4 728.4 L762.4 729.8 L762.5 731.2 L762.5 733.0 L762.6 731.9 L762.6 730.5 L762.7 730.5 L762.7 734.8 L762.8 734.6 L762.8 736.1 L762.8 736.9 L762.9 738.5 L762.9 742.3 L763.0 741.1 L763.0 741.1 L763.1 741.0 L763.1 741.9 L763.2 741.3 L763.3 740.9 L763.3 738.9 L763.4 739.6 L763.5 739.6 L763.6 738.5 L763.6 737.0 L763.7 735.6 L763.8 733.1 L763.9 733.5 L763.9 731.9 L764.0 731.0 L764.1 731.7 L764.1 729.8 L764.2 728.8 L764.3 729.2 L764.4 730.2 L764.4 727.8 L764.5 727.9 L764.6 725.9 L764.7 725.4 L764.7 724.9 L764.8 722.6 L764.9 723.1 L765.0 723.8 L765.0 722.2 L765.1 721.1 L765.2 718.7 L765.3 719.9 L765.3 718.6 L765.4 716.1 L765.5 716.3 L765.5 713.9 L765.6 714.4 L765.8 713.8 L766.0 713.1 L766.1 716.5 L766.3 719.7 L766.5 719.1 L766.6 719.1 L766.8 719.4 L767.0 720.0 L767.1 721.8 L767.3 724.1 L767.5 723.4 L767.6 724.7 L767.8 723.6 L768.0 726.6 L768.1 726.9 L768.2 726.3 L768.2 724.7 L768.3 725.7 L768.4 724.3 L768.4 724.6 L768.5 724.2 L768.6 724.2 L768.6 721.5 L768.7 720.3 L768.8 719.7 L768.8 718.4 L768.9 719.0 L769.0 716.8 L769.0 716.9 L769.1 717.0 L769.2 713.4 L769.2 711.9 L769.3 710.8 L769.4 710.1 L769.4 710.4 L769.5 709.6 L769.5 709.1 L769.6 707.9 L769.7 707.3 L769.7 707.2 L769.8 707.0 L769.9 705.1 L769.9 704.3 L770.0 703.8 L770.4 703.6 L770.5 704.5 L770.8 705.2 L770.8 706.7 L771.1 709.0 L771.7 711.3 L771.6 709.8 L771.9 710.0 L772.0 707.9 L772.1 706.8 L772.1 706.7 L772.2 705.2 L772.3 705.7 L772.4 704.2 L772.5 704.9 L772.6 703.5 L772.7 704.0 L772.8 703.8 L772.9 703.2 L773.0 702.8 L773.0 703.8 L773.1 702.3 L773.2 698.5 L773.3 697.0 L773.4 697.2 L773.5 697.1 L773.6 695.1 L773.7 694.7 L773.8 693.7 L773.8 692.4 L773.9 691.2 L774.0 690.6 L774.1 691.1 L774.2 688.1 L774.3 688.8 L774.4 687.5 L774.6 688.9 L774.8 687.9 L775.0 689.6 L775.2 690.5 L775.4 690.5 L775.6 692.4 L775.8 693.0 L776.0 695.2 L776.2 695.0 L776.5 696.2 L776.7 695.0 L776.9 693.9 L777.1 691.6 L777.3 690.8 L777.5 691.2 L777.7 691.8 L777.9 688.2 L778.1 687.7 L778.3 686.8 L778.5 688.1 L778.8 685.0 L778.8 687.6 L778.9 689.9 L778.9 687.4 L779.0 686.5 L779.0 688.3 L779.1 688.1 L779.1 687.8 L779.2 689.4 L779.2 690.7 L779.3 692.4 L779.3 695.2 L779.4 695.0 L779.6 693.9 L779.8 692.5 L779.9 690.5 L780.1 690.7 L780.3 691.4 L780.5 691.5 L780.7 687.9 L780.9 688.2 L781.1 687.2 L781.2 686.1 L781.4 684.4 L781.6 683.8 L781.8 683.9 L782.0 684.0 L782.2 683.9 L782.4 681.9 L782.6 681.1 L782.7 679.5 L782.9 680.0 L783.1 678.8 L783.2 679.9 L783.8 679.2 L784.0 678.8 L783.8 682.4 L784.2 680.7 L784.5 681.0 L784.6 682.7 L784.8 684.4 L785.2 685.2 L785.6 687.6 L785.6 687.5 L785.7 688.5 L785.8 688.4 L785.9 690.9 L786.0 690.9 L786.0 689.8 L786.1 690.8 L786.2 691.9 L786.3 692.5 L786.4 693.3 L786.5 694.3 L786.5 696.5 L786.6 697.2 L786.7 698.5 L786.8 699.2 L786.9 700.0 L786.9 700.5 L787.0 699.3 L787.1 698.4 L787.1 698.4 L787.2 698.4 L787.2 697.9 L787.3 695.3 L787.4 692.8 L787.4 695.1 L787.5 692.0 L787.5 690.5 L787.6 688.5 L787.7 688.8 L787.7 688.3 L787.8 685.3 L787.8 686.7 L787.9 685.6 L788.0 686.3 L788.0 686.2 L788.1 684.9 L788.1 684.8 L788.2 682.6 L788.2 681.7 L788.3 680.7 L788.4 680.1 L788.4 679.8 L788.5 679.0 L788.5 677.5 L788.6 677.4 L788.7 676.0 L788.7 676.0 L788.8 674.0 L788.8 672.2 L788.9 674.2 L789.0 671.5 L789.0 671.7 L789.1 672.4 L789.1 671.5 L789.2 670.4 L789.3 668.8 L789.3 667.6 L789.4 666.2 L790.0 665.5 L791.2 664.4 L792.0 665.7 L792.5 665.0 L792.5 667.4 L792.5 667.5 L792.6 667.6 L792.6 667.8 L792.6 668.6 L792.6 668.3 L792.7 668.3 L792.7 671.7 L792.7 672.4 L792.7 673.7 L792.8 674.5 L792.8 675.5 L792.8 674.4 L792.8 674.7 L792.9 676.7 L792.9 678.6 L792.9 677.9 L792.9 678.4 L793.0 678.6 L793.0 680.7 L793.0 681.9 L793.0 682.7 L793.1 682.8 L793.1 684.2 L793.1 685.0 L793.9 685.7 L794.2 685.5 L794.9 687.4 L795.6 687.5 L795.8 687.6 L795.9 685.6 L796.1 686.4 L796.3 685.4 L796.4 685.6 L796.6 684.6 L796.8 682.1 L796.9 679.0 L797.1 679.0 L797.3 678.3 L797.4 677.6 L797.6 677.7 L797.8 677.2 L797.9 676.2 L798.1 675.9 L798.3 674.4 L798.4 672.9 L798.6 672.2 L798.8 672.5 L799.3 673.8 L799.3 674.5 L799.6 675.8 L800.0 677.6 L800.1 676.9 L800.6 677.5 L800.7 679.0 L800.8 679.7 L800.9 681.1 L801.0 680.3 L801.1 682.1 L801.2 684.0 L801.4 685.3 L801.5 685.8 L801.6 685.7 L801.7 686.7 L801.8 687.1 L801.9 687.5 L801.9 687.0 L802.0 687.7 L802.1 689.1 L802.1 689.7 L802.2 690.0 L802.3 691.2 L802.3 692.1 L802.4 693.4 L802.4 694.4 L802.5 695.6 L802.6 697.4 L802.6 698.0 L802.7 698.9 L802.7 698.2 L802.8 696.3 L802.9 698.1 L802.9 700.5 L803.0 701.3 L803.1 701.8 L803.1 703.8 L803.4 701.1 L803.6 702.0 L804.4 702.4 L804.7 701.8 L804.9 701.6 L805.1 700.8 L805.7 698.8 L805.8 696.9 L806.2 696.9 L806.2 698.9 L806.2 698.5 L806.2 698.7 L806.2 699.8 L806.2 700.2 L806.2 701.3 L806.2 701.7 L806.2 701.4 L806.2 700.5 L806.2 701.5 L806.2 705.2 L806.2 706.6 L806.2 707.5 L806.2 707.8 L806.2 708.5 L806.2 709.8 L806.2 709.2 L806.2 709.7 L806.2 710.2 L806.2 713.0 L806.2 712.7 L806.2 715.1 L806.2 715.2 L806.2 718.8 L806.2 718.4 L806.2 718.6 L806.2 720.4 L806.2 721.3 L806.2 722.3 L806.2 721.1 L806.2 723.0 L806.2 722.5 L806.8 724.2 L807.2 723.3 L807.3 722.3 L808.2 721.7 L808.7 720.4 L809.1 718.2 L809.4 717.5 L809.4 718.7 L809.5 718.0 L809.5 715.3 L809.6 715.9 L809.6 714.2 L809.7 714.3 L809.7 712.5 L809.8 711.8 L809.8 711.9 L809.9 709.5 L809.9 708.8 L810.0 707.1 L810.0 707.5 L810.1 705.9 L810.1 704.9 L810.2 704.1 L810.2 704.7 L810.3 702.6 L810.3 701.9 L810.4 701.0 L810.4 699.8 L810.5 698.6 L810.5 698.2 L810.6 697.9 L810.6 697.5 L810.7 696.5 L810.8 698.3 L810.9 698.2 L811.0 699.7 L811.1 703.2 L811.2 702.4 L811.2 703.1 L811.3 703.6 L811.4 705.5 L811.5 705.5 L811.6 704.6 L811.7 704.5 L811.8 706.5 L811.9 708.8 L811.9 707.3 L812.0 707.8 L812.0 706.2 L812.1 706.1 L812.2 703.9 L812.2 704.7 L812.3 703.4 L812.3 701.8 L812.4 701.3 L812.4 702.2 L812.5 699.9 L812.6 697.7 L812.6 696.3 L812.7 695.0 L812.7 695.0 L812.8 695.1 L812.8 694.3 L812.9 693.8 L813.0 694.2 L813.0 692.7 L813.1 690.4 L813.1 690.6 L813.5 688.5 L813.5 690.6 L814.1 693.0 L814.1 693.7 L814.3 693.4 L814.9 693.1 L815.0 696.2 L815.6 694.2 L815.7 694.7 L816.0 693.2 L816.3 693.4 L816.9 692.5 L817.0 693.3 L817.0 693.7 L817.1 696.9 L817.2 697.5 L817.3 697.0 L817.4 698.9 L817.5 697.5 L817.5 698.1 L817.6 699.6 L817.7 700.8 L817.8 700.7 L817.9 703.5 L818.0 705.4 L818.0 704.5 L818.1 705.0 L818.4 704.8 L818.5 703.8 L818.8 703.1 L819.2 703.1 L819.2 701.9 L819.4 700.2 L819.5 698.2 L820.0 698.8 L820.1 698.1 L820.2 698.3 L820.3 699.8 L820.4 701.9 L820.5 704.1 L820.6 702.8 L820.7 704.1 L820.8 706.5 L820.9 706.1 L821.0 706.6 L821.1 708.5 L821.2 708.8 L821.4 708.5 L821.6 706.6 L821.7 704.9 L821.9 704.1 L822.0 703.8 L822.2 703.5 L822.3 703.7 L822.5 701.8 L822.7 701.6 L822.8 701.1 L823.0 699.8 L823.1 699.7 L823.3 698.5 L823.4 698.0 L823.6 696.3 L823.8 695.6 L823.9 695.4 L824.6 696.1 L825.0 697.5 L825.2 697.7 L825.6 699.4 L826.0 698.4 L826.3 697.8 L827.0 695.9 L827.3 694.4 L827.5 693.2 L828.1 695.0 L828.2 693.8 L828.3 693.0 L828.4 694.0 L828.5 689.6 L828.6 690.8 L828.7 690.9 L828.9 690.3 L829.0 689.0 L829.1 688.0 L829.2 687.3 L829.3 686.5 L829.4 684.7 L829.5 684.7 L829.6 682.9 L829.7 682.2 L829.8 681.1 L829.9 679.3 L830.0 680.0 L830.1 680.5 L830.3 681.4 L830.4 681.2 L830.5 682.5 L830.6 682.3 L830.8 685.3 L830.9 686.5 L831.0 689.1 L831.1 688.4 L831.3 689.6 L831.4 688.9 L831.5 689.0 L831.6 690.2 L831.8 691.7 L831.9 692.5 L832.0 692.6 L832.6 691.2 L832.7 689.5 L833.3 688.8 L833.7 687.7 L833.7 688.1 L834.1 686.7 L834.4 686.2 L835.1 687.3 L835.5 687.1 L836.2 688.8 L836.3 689.4 L836.4 690.6 L836.5 690.3 L836.6 692.0 L836.7 692.0 L836.8 693.2 L836.8 694.0 L836.9 695.5 L837.0 698.8 L837.1 698.0 L837.2 697.1 L837.2 697.1 L837.3 698.6 L837.4 700.0 L837.5 701.2 L837.6 702.4 L837.7 702.1 L837.8 702.0 L838.0 703.4 L838.1 706.0 L838.2 707.4 L838.3 708.7 L838.4 709.3 L838.5 710.5 L838.6 709.9 L838.8 710.0 L839.0 710.9 L839.3 708.2 L839.8 707.8 L840.4 706.6 L840.8 705.0 L841.1 704.2 L841.7 703.9 L841.9 704.4 L841.9 702.9 L841.9 704.0 L841.9 704.9 L841.9 707.3 L841.9 710.1 L841.9 709.9 L841.9 710.2 L841.9 710.6 L841.9 711.4 L841.9 712.2 L841.9 715.6 L841.9 714.5 L841.9 715.1 L841.9 715.1 L841.9 716.6 L841.9 717.5 L842.1 717.8 L842.2 719.4 L842.4 719.1 L842.6 722.4 L842.8 722.8 L843.0 721.4 L843.1 723.4 L843.3 723.7 L843.5 725.0 L843.7 722.8 L843.8 723.0 L844.0 721.8 L844.2 722.0 L844.4 720.5 L844.5 720.7 L844.7 719.8 L844.9 719.1 L845.0 718.2 L845.2 716.8 L845.4 715.6 L845.6 715.4 L845.7 715.2 L845.9 713.6 L846.1 715.0 L846.2 711.9 L846.4 715.7 L846.6 714.2 L846.8 715.8 L846.9 715.9 L847.1 716.6 L847.3 716.3 L847.4 718.9 L847.6 718.3 L847.8 719.0 L848.0 719.1 L848.1 720.6 L848.6 721.4 L849.0 721.3 L849.5 720.1 L849.8 718.3 L850.1 717.6 L850.6 716.2 L850.7 714.7 L850.7 715.0 L850.7 713.8 L850.8 712.9 L850.8 710.2 L850.9 710.2 L850.9 711.4 L850.9 709.6 L851.0 709.3 L851.0 708.8 L851.1 710.1 L851.1 707.3 L851.1 707.0 L851.2 705.4 L851.2 704.3 L851.2 703.1 L851.8 704.1 L852.0 703.0 L852.5 704.6 L852.9 706.4 L853.0 705.9 L853.8 707.6 L854.1 707.0 L854.4 708.8 L854.4 707.5 L854.4 707.4 L854.4 708.0 L854.4 705.4 L854.4 706.1 L854.4 705.4 L854.4 704.5 L854.4 702.4 L854.4 700.7 L854.4 699.3 L854.4 700.0 L854.4 699.4 L854.4 699.5 L854.4 697.5 L855.0 700.6 L856.1 700.3 L856.8 699.0 L857.5 700.0 L857.6 698.5 L857.7 699.2 L857.8 699.3 L857.9 697.2 L858.0 698.1 L858.1 696.8 L858.2 693.8 L858.3 693.6 L858.4 691.8 L858.5 690.2 L858.6 687.8 L858.7 688.5 L858.8 689.4 L859.2 689.5 L859.6 689.9 L860.4 691.0 L860.6 691.6 L861.2 693.1 L861.6 692.2 L862.0 691.9 L862.3 692.0 L862.4 688.8 L863.3 688.4 L863.5 688.0 L863.8 687.5 L863.9 688.4 L864.0 688.0 L864.1 688.7 L864.2 690.4 L864.3 693.0 L864.4 692.7 L864.5 694.9 L864.6 695.2 L864.7 696.8 L864.9 696.2 L865.0 696.0 L865.1 696.6 L865.2 697.7 L865.3 697.7 L865.4 697.7 L865.5 700.0 L865.6 701.2 L866.2 701.3 L866.8 701.8 L866.9 701.3 L867.5 699.7 L868.1 697.5 L868.2 698.0 L868.3 697.7 L868.4 696.8 L868.5 695.3 L868.6 694.9 L868.7 692.6 L868.9 692.1 L869.0 691.6 L869.1 689.1 L869.2 689.3 L869.3 689.0 L869.4 689.0 L869.5 687.8 L869.6 687.9 L869.7 687.5 L869.8 686.5 L869.9 681.7 L870.0 683.1 L870.9 682.3 L871.5 683.4 L872.2 684.9 L872.8 684.6 L873.8 685.0 L873.9 686.9 L874.0 686.9 L874.1 686.6 L874.2 688.1 L874.4 689.2 L874.5 688.1 L874.6 689.0 L874.8 690.6 L874.9 690.0 L875.0 693.1 L875.1 692.1 L875.2 690.1 L875.4 690.6 L875.5 688.7 L875.6 687.9 L875.8 686.8 L875.9 686.2 L876.0 683.9 L876.1 683.4 L876.2 684.3 L876.4 684.1 L876.5 683.1 L876.6 686.0 L876.7 684.1 L876.7 686.6 L876.8 687.1 L876.9 686.3 L877.0 686.0 L877.0 687.1 L877.1 688.6 L877.2 689.3 L877.3 692.0 L877.3 692.4 L877.4 692.4 L877.5 692.4 L877.6 692.5 L877.7 694.0 L877.7 695.1 L877.8 695.4 L877.9 697.1 L878.0 697.3 L878.0 698.0 L878.1 700.0 L878.2 699.6 L878.7 699.7 L879.0 698.0 L878.9 698.3 L879.5 696.9 L879.3 695.4 L879.6 694.4 L880.0 693.8 L880.2 691.9 L880.4 690.5 L880.6 691.1 L880.8 689.9 L881.0 689.5 L881.2 688.8 L881.7 687.1 L881.6 686.5 L882.2 685.3 L882.1 685.2 L882.3 683.4 L882.7 681.7 L882.6 681.7 L883.0 682.0 L883.3 681.8 L883.7 680.5 L883.8 680.0 L883.9 678.9 L884.0 678.7 L884.1 676.7 L884.2 676.1 L884.3 677.4 L884.4 675.2 L884.5 674.4 L884.6 674.7 L884.7 673.1 L884.8 672.2 L884.9 669.0 L885.0 670.0 L885.4 669.0 L885.9 667.0 L886.8 666.1 L887.3 666.8 L887.4 666.7 L888.2 665.5 L888.8 665.0 L888.9 666.1 L889.0 667.4 L889.1 668.0 L889.2 668.7 L889.4 669.8 L889.5 670.9 L889.6 671.7 L889.7 671.7 L889.9 672.4 L890.0 673.7 L890.1 673.5 L890.2 674.6 L890.4 676.3 L890.5 677.1 L890.6 677.5 L891.4 676.9 L891.8 678.2 L892.5 678.2 L893.1 675.0 L893.3 676.0 L893.5 674.1 L893.6 674.4 L893.8 673.4 L894.0 670.5 L894.1 669.0 L894.3 668.3 L894.5 669.0 L894.6 668.3 L894.8 668.1 L895.0 666.5 L895.1 666.7 L895.3 664.9 L895.5 664.6 L895.6 662.5 L895.7 662.1 L895.7 660.8 L895.8 660.3 L895.8 658.3 L895.9 657.9 L895.9 657.7 L896.0 655.6 L896.0 655.1 L896.1 654.4 L896.1 652.9 L896.2 650.7 L896.2 652.5 L896.5 651.3 L897.2 652.7 L897.5 650.9 L897.7 649.7 L897.9 650.6 L898.5 650.4 L898.8 646.9 L898.9 649.3 L899.1 649.1 L899.3 649.5 L899.5 650.7 L899.7 650.8 L899.9 651.6 L900.1 653.8 L900.2 654.5 L900.4 655.9 L900.6 655.0 L901.1 655.1 L901.1 653.5 L901.8 651.2 L901.8 651.2 L902.4 651.5 L902.7 652.9 L903.1 649.4 L903.3 650.7 L903.5 652.4 L903.7 652.6 L903.9 651.6 L904.1 651.8 L904.2 654.0 L904.4 654.3 L904.6 655.3 L904.8 658.8 L905.0 657.5 L906.1 657.7 L906.9 656.9 L907.0 659.1 L907.1 659.3 L907.2 660.2 L907.3 660.1 L907.5 660.8 L907.6 660.1 L907.7 663.4 L907.8 663.2 L907.9 664.7 L908.0 664.8 L908.2 666.0 L908.3 665.7 L908.4 666.5 L908.5 668.6 L908.6 669.9 L908.8 670.0 L909.5 669.2 L910.0 671.2 L910.1 669.3 L910.5 668.4 L910.5 668.4 L910.7 668.6 L911.3 667.5 L911.3 665.9 L911.5 665.8 L911.8 664.3 L912.0 664.8 L912.0 663.8 L912.5 662.5 L912.6 664.3 L912.7 664.0 L912.8 667.4 L912.9 667.3 L913.0 667.6 L913.1 668.8 L913.2 669.6 L913.3 670.0 L913.4 670.2 L913.5 669.7 L913.6 670.2 L913.8 672.5 L914.0 672.4 L914.8 674.5 L915.1 674.9 L915.1 677.0 L915.8 678.6 L916.1 679.1 L916.6 677.7 L916.9 678.8 L917.0 678.5 L917.1 678.5 L917.2 677.0 L917.3 676.9 L917.4 676.1 L917.5 676.2 L917.6 672.9 L917.7 671.4 L917.9 670.0 L918.0 668.7 L918.1 670.3 L918.2 668.4 L918.3 667.0 L918.4 666.3 L918.5 666.8 L918.6 665.4 L918.7 665.4 L918.8 664.9 L918.9 663.2 L919.1 660.2 L919.2 659.4 L919.3 658.3 L919.4 660.0 L920.0 659.5 L920.6 658.1 L921.1 657.8 L921.9 657.5 L922.2 657.3 L922.5 658.8 L922.9 659.1 L923.0 660.7 L923.2 661.9 L923.5 665.9 L924.0 664.3 L924.3 664.3 L924.4 665.0 L924.4 663.8 L924.5 663.3 L924.5 662.8 L924.6 661.7 L924.6 660.9 L924.7 659.0 L924.7 658.7 L924.8 659.0 L924.8 657.6 L924.9 657.8 L924.9 655.1 L925.0 655.0 L925.0 655.0 L925.3 653.1 L925.8 652.4 L926.2 650.9 L926.5 651.7 L926.8 648.4 L927.3 646.6 L927.5 647.7 L928.1 648.8 L928.4 648.5 L928.9 650.4 L929.1 649.8 L929.0 649.9 L929.5 650.8 L929.6 652.2 L930.1 654.8 L930.3 654.4 L930.6 655.6 L931.0 655.4 L931.9 654.2 L932.3 651.6 L933.1 652.5 L933.2 649.0 L933.3 648.1 L933.4 650.0 L933.5 649.0 L933.6 650.2 L933.8 649.2 L933.9 647.3 L934.0 645.5 L934.1 646.4 L934.2 644.1 L934.3 643.9 L934.4 642.5 L935.2 642.7 L936.1 642.4 L936.8 643.6 L937.5 643.8 L937.6 642.4 L937.7 642.9 L937.8 642.9 L937.9 640.8 L938.0 640.9 L938.1 638.9 L938.2 638.2 L938.3 637.3 L938.4 635.1 L938.5 635.1 L938.6 634.0 L938.8 633.8 L938.9 630.0 L939.1 629.5 L939.3 628.9 L939.4 628.2 L939.6 627.4 L939.8 626.8 L940.0 624.5 L940.1 626.0 L940.3 625.7 L940.5 625.4 L940.7 624.4 L940.8 623.8 L941.0 623.1 L941.1 623.6 L941.1 623.5 L941.2 623.4 L941.2 625.2 L941.3 627.5 L941.3 628.4 L941.4 630.6 L941.4 629.4 L941.5 630.1 L941.5 630.5 L941.6 632.8 L941.7 635.0 L941.7 634.5 L941.8 635.8 L941.8 635.9 L941.9 636.2 L942.0 636.4 L942.1 637.4 L942.2 637.4 L942.4 640.3 L942.5 641.4 L942.6 643.0 L942.7 643.5 L942.8 641.4 L942.9 643.7 L943.1 644.6 L943.2 643.1 L943.3 645.0 L943.4 647.3 L943.5 649.7 L943.6 648.8 L943.8 650.4 L943.9 651.2 L944.0 651.2 L944.5 650.8 L945.1 650.2 L945.8 649.7 L946.5 648.2 L946.9 647.5 L947.2 646.5 L947.6 646.9 L947.6 647.2 L947.9 647.2 L948.0 644.6 L948.4 644.6 L949.0 641.7 L949.3 641.2 L949.7 639.0 L949.9 637.8 L950.0 638.8 L950.1 638.6 L950.2 636.9 L950.3 637.6 L950.4 635.5 L950.5 632.9 L950.6 632.0 L950.7 631.6 L950.8 631.3 L950.9 632.1 L951.0 632.3 L951.1 632.3 L951.2 631.0 L951.2 628.1 L951.6 629.7 L951.9 630.0 L952.2 630.2 L952.2 631.0 L952.7 632.4 L952.7 631.3 L953.1 633.8 L953.2 632.3 L953.3 632.5 L953.4 632.1 L953.4 631.4 L953.5 629.8 L953.6 630.4 L953.7 629.7 L953.8 629.4 L953.8 628.5 L953.9 627.5 L954.0 626.3 L954.1 623.8 L954.1 621.3 L954.2 620.3 L954.3 620.8 L954.4 620.6 L955.0 620.5 L956.0 619.9 L956.5 618.7 L957.2 618.1 L957.3 617.2 L957.3 618.6 L957.3 619.4 L957.3 620.2 L957.3 622.1 L957.4 622.7 L957.4 625.4 L957.4 625.9 L957.4 627.2 L957.4 627.1 L957.4 629.7 L957.5 628.9 L957.5 628.6 L957.5 630.0 L958.7 628.7 L959.4 631.2 L959.4 632.4 L959.4 631.9 L959.4 633.5 L959.4 634.9 L959.4 635.0 L959.4 635.9 L959.4 637.3 L959.4 636.3 L959.4 637.7 L959.4 639.5 L959.4 641.1 L959.4 642.7 L959.4 641.9 L959.8 642.1 L960.4 642.1 L960.8 638.9 L961.7 637.4 L962.1 636.1 L962.5 637.5 L962.6 636.6 L962.7 639.2 L962.8 639.7 L963.0 641.6 L963.1 639.9 L963.2 641.8 L963.3 644.7 L963.4 643.5 L963.5 641.9 L963.6 644.2 L963.8 646.2 L964.1 646.1 L964.5 646.7 L964.3 642.4 L965.0 643.7 L965.3 643.0 L965.3 640.9 L965.6 640.2 L965.8 638.3 L966.2 638.8 L966.3 639.3 L966.3 638.7 L966.3 642.5 L966.3 644.3 L966.3 644.4 L966.3 645.5 L966.4 644.5 L966.4 646.0 L966.4 648.4 L966.4 646.8 L966.4 647.0 L966.4 647.4 L966.5 649.0 L966.5 650.2 L966.5 649.7 L966.5 651.9 L966.8 650.2 L967.1 650.9 L967.4 649.8 L967.8 650.1 L968.1 651.0 L968.3 648.5 L968.7 647.7 L969.1 643.9 L969.2 644.9 L969.6 644.9 L970.0 643.8 L970.2 643.3 L970.3 642.8 L970.5 639.6 L970.7 639.6 L970.8 640.8 L971.0 638.3 L971.2 638.1 L971.3 636.9 L971.5 636.1 L971.7 636.7 L971.8 635.9 L972.0 634.2 L972.2 632.3 L972.3 633.3 L972.5 631.2 L973.1 630.7 L974.0 631.5 L974.6 631.2 L975.2 631.4 L976.3 630.6 L976.9 628.8 L977.5 629.6 L978.0 629.6 L978.9 630.6 L979.4 631.8 L980.0 631.9 L980.1 632.9 L980.2 632.8 L980.3 634.4 L980.4 634.0 L980.4 634.8 L980.5 635.3 L980.6 636.2 L980.7 637.5 L980.8 640.3 L980.9 640.6 L981.0 639.9 L981.1 641.0 L981.2 643.0 L981.2 643.8 L981.3 643.6 L981.7 642.6 L982.1 641.5 L982.1 641.0 L982.3 638.5 L982.8 638.0 L982.8 636.9 L983.1 637.5 L983.2 637.6 L983.3 637.4 L983.4 640.1 L983.5 638.2 L983.5 638.0 L983.6 642.3 L983.7 645.3 L983.8 645.5 L983.9 647.0 L984.0 647.3 L984.0 646.2 L984.1 648.3 L984.2 648.6 L984.3 649.9 L984.4 650.0 L984.7 651.5 L984.8 650.8 L984.8 653.5 L985.2 654.2 L985.5 655.3 L985.7 655.6 L985.9 655.3 L986.0 656.2 L986.2 654.5 L986.3 653.7 L986.5 652.7 L986.6 651.0 L986.8 650.7 L987.0 650.4 L987.1 649.3 L987.3 648.7 L987.5 649.2 L987.6 649.0 L987.8 648.4 L987.9 647.0 L988.1 644.7 L988.3 645.1 L988.4 645.6 L988.6 645.5 L988.8 642.5 L989.4 644.5 L990.4 643.7 L991.2 641.2 L991.6 643.7 L992.1 645.5 L992.9 643.6 L993.1 643.9 L993.8 645.0 L993.8 642.7 L993.9 644.9 L994.0 642.7 L994.1 642.7 L994.1 641.6 L994.2 640.2 L994.3 639.9 L994.4 636.9 L994.5 637.6 L994.5 638.7 L994.6 637.4 L994.7 635.9 L994.8 635.0 L994.8 634.5 L994.9 632.8 L995.0 631.9 L995.2 632.9 L995.3 634.2 L995.7 635.1 L995.9 636.4 L996.3 636.4 L996.5 638.3 L996.8 637.4 L996.9 638.8 L997.0 641.2 L997.2 640.3 L997.3 640.8 L997.4 641.5 L997.6 643.1 L997.7 644.9 L997.8 644.3 L998.0 647.1 L998.1 646.2 L998.3 649.4 L998.4 649.5 L998.5 649.5 L998.7 649.7 L998.8 649.7 L998.9 648.9 L999.1 650.1 L999.2 650.9 L999.3 653.4 L999.5 653.9 L999.6 654.3 L999.7 654.7 L999.9 655.2 L1000.0 657.5 L1000.1 658.1 L1000.1 658.9 L1000.2 659.7 L1000.2 660.3 L1000.3 661.2 L1000.4 662.7 L1000.4 664.1 L1000.5 665.5 L1000.5 666.5 L1000.6 668.2 L1000.6 669.1 L1000.7 669.6 L1000.8 669.8 L1000.8 669.5 L1000.9 670.4 L1000.9 672.6 L1001.0 671.2 L1001.1 669.4 L1001.2 669.5 L1001.3 668.2 L1001.4 668.5 L1001.5 668.4 L1001.6 666.8 L1001.7 667.9 L1001.8 665.7 L1002.0 664.9 L1002.1 664.9 L1002.2 663.8 L1002.3 662.2 L1002.4 662.1 L1002.5 659.3 L1002.6 658.7 L1002.7 656.7 L1002.8 658.5 L1002.9 658.8 L1003.0 658.5 L1003.1 655.0 L1003.2 656.9 L1003.3 654.9 L1003.3 652.6 L1003.4 651.4 L1003.5 649.8 L1003.6 649.5 L1003.6 648.7 L1003.7 649.1 L1003.8 647.7 L1003.9 647.3 L1003.9 645.3 L1004.0 645.2 L1004.1 643.7 L1004.2 643.0 L1004.2 642.5 L1004.3 641.5 L1004.4 641.0 L1004.5 641.3 L1004.5 639.1 L1004.6 636.1 L1004.7 637.7 L1004.8 639.5 L1004.8 637.0 L1004.9 637.4 L1005.0 635.0 L1005.8 636.3 L1006.7 635.1 L1007.2 634.2 L1007.8 632.1 L1008.4 631.1 L1009.4 632.5 L1009.4 633.0 L1009.8 633.6 L1010.1 636.3 L1010.3 636.6 L1010.8 638.3 L1010.9 637.6 L1011.1 636.3 L1011.6 639.2 L1011.9 640.0 L1011.9 642.5 L1012.0 641.5 L1012.1 641.4 L1012.2 640.5 L1012.2 639.0 L1012.3 635.5 L1012.4 636.0 L1012.4 634.8 L1012.5 632.2 L1012.6 631.6 L1012.6 631.5 L1012.7 631.3 L1012.8 630.1 L1012.8 628.4 L1012.9 628.3 L1013.0 626.4 L1013.1 625.6 L1013.1 625.0 L1013.2 626.4 L1013.3 625.6 L1013.4 627.2 L1013.5 626.2 L1013.6 626.9 L1013.7 627.4 L1013.8 629.1 L1013.9 631.3 L1014.0 632.1 L1014.1 633.9 L1014.2 634.5 L1014.2 634.9 L1014.3 636.1 L1014.4 636.5 L1014.5 637.4 L1014.6 639.1 L1014.7 638.9 L1014.8 640.8 L1014.9 640.1 L1015.0 641.2 L1015.0 640.0 L1015.1 637.7 L1015.1 637.1 L1015.2 638.5 L1015.2 637.8 L1015.3 638.0 L1015.3 635.1 L1015.4 633.5 L1015.4 633.6 L1015.5 633.7 L1015.5 633.4 L1015.6 630.5 L1015.6 630.6 L1015.7 629.7 L1015.7 629.1 L1015.8 628.7 L1015.8 627.4 L1015.9 624.9 L1015.9 623.7 L1016.0 622.3 L1016.0 621.2 L1016.1 621.4 L1016.1 622.6 L1016.2 621.0 L1016.2 619.7 L1016.2 620.0 L1016.9 617.3 L1017.5 618.1 L1017.5 618.0 L1017.9 617.9 L1018.2 618.6 L1018.4 620.8 L1018.6 621.2 L1019.1 623.2 L1019.3 624.2 L1019.4 625.0 L1019.4 626.0 L1019.4 625.8 L1019.4 627.6 L1019.4 627.5 L1019.4 628.1 L1019.4 629.3 L1019.4 630.5 L1019.4 633.0 L1019.4 631.5 L1019.4 632.3 L1019.4 634.5 L1019.4 634.9 L1019.4 635.9 L1019.4 638.0 L1019.4 636.9 L1019.4 637.8 L1019.4 639.4 L1019.4 639.3 L1019.4 638.5 L1019.4 639.0 L1019.4 640.8 L1019.4 642.2 L1019.4 645.0 L1019.4 646.5 L1019.4 644.9 L1019.4 646.8 L1019.4 648.1 L1019.4 647.5 L1019.5 649.1 L1019.7 647.1 L1019.8 645.2 L1019.9 644.5 L1020.1 645.0 L1020.2 644.1 L1020.3 644.3 L1020.5 643.2 L1020.6 640.0 L1020.7 641.6 L1020.7 641.1 L1020.8 643.9 L1020.8 642.7 L1020.8 643.3 L1020.9 644.1 L1020.9 644.3 L1021.0 645.1 L1021.0 646.4 L1021.1 649.9 L1021.1 649.9 L1021.2 649.8 L1021.2 650.6 L1021.2 652.3 L1021.3 651.9 L1021.3 652.4 L1021.4 651.7 L1021.4 653.9 L1021.5 655.6 L1021.5 657.7 L1021.6 656.7 L1021.6 659.7 L1021.7 660.5 L1021.7 660.3 L1021.7 660.3 L1021.8 660.7 L1021.8 660.4 L1021.9 662.5 L1022.4 661.8 L1022.6 660.9 L1023.2 660.5 L1023.7 660.1 L1024.3 660.0 L1024.6 658.1 L1025.0 657.5 L1025.0 656.5 L1025.1 655.5 L1025.1 656.5 L1025.2 655.6 L1025.2 654.9 L1025.3 651.4 L1025.3 651.9 L1025.4 651.4 L1025.4 651.0 L1025.5 650.3 L1025.5 649.6 L1025.6 647.8 L1025.6 647.8 L1025.7 646.7 L1025.7 644.6 L1025.8 643.1 L1025.8 642.9 L1025.9 642.7 L1025.9 639.8 L1026.0 637.8 L1026.0 639.4 L1026.1 638.9 L1026.1 641.1 L1026.2 637.8 L1026.2 636.8 L1026.2 636.2 L1026.4 634.7 L1027.1 634.7 L1027.2 632.8 L1027.5 633.6 L1027.7 632.6 L1028.1 631.2 L1029.0 632.5 L1029.8 632.4 L1030.4 632.5 L1031.2 632.5 L1031.4 632.6 L1032.0 631.8 L1032.0 629.8 L1032.3 628.8 L1032.8 628.1 L1033.1 628.4 L1033.3 626.6 L1033.3 624.0 L1033.7 624.6 L1034.1 624.3 L1034.4 623.8 L1035.2 624.0 L1035.9 622.4 L1036.9 623.1 L1036.9 625.0 L1037.0 625.2 L1037.0 625.7 L1037.0 626.7 L1037.1 628.2 L1037.1 628.5 L1037.2 629.4 L1037.2 629.6 L1037.2 629.9 L1037.3 630.2 L1037.3 632.1 L1037.3 632.4 L1037.4 634.0 L1037.4 635.1 L1037.5 636.7 L1037.5 636.2 L1038.1 633.8 L1038.4 633.6 L1038.9 632.8 L1039.6 633.1 L1040.0 632.7 L1040.6 632.5 L1041.2 633.4 L1041.3 635.0 L1041.9 636.0 L1042.2 637.3 L1042.4 638.1 L1042.8 639.8 L1043.3 639.3 L1043.8 638.1 L1043.9 639.6 L1044.1 636.3 L1044.2 635.0 L1044.4 635.3 L1044.6 633.6 L1044.8 634.7 L1044.9 633.7 L1045.1 633.2 L1045.2 631.8 L1045.4 631.3 L1045.6 630.9 L1045.8 629.4 L1045.9 627.5 L1046.1 626.1 L1046.2 625.6 L1046.6 626.5 L1046.9 626.2 L1046.9 625.5 L1047.1 624.6 L1047.2 624.2 L1047.4 622.9 L1047.8 622.1 L1048.0 619.3 L1048.4 618.1 L1048.7 618.2 L1048.8 616.9 L1049.1 618.5 L1049.2 620.4 L1049.5 619.6 L1049.5 619.8 L1049.6 620.4 L1050.0 622.0 L1050.2 622.0 L1050.6 624.2 L1050.8 625.5 L1050.7 626.3 L1051.2 625.8 L1051.2 626.2 L1051.7 625.4 L1052.1 623.8 L1052.9 624.0 L1053.2 622.3 L1053.8 622.5 L1053.8 620.6 L1053.9 621.3 L1054.0 620.3 L1054.1 617.3 L1054.2 616.4 L1054.3 617.6 L1054.4 615.2 L1054.5 616.2 L1054.6 615.4 L1054.6 613.3 L1054.7 612.4 L1054.8 612.7 L1054.9 613.3 L1055.0 611.2 L1055.3 610.1 L1056.1 610.1 L1056.1 609.6 L1056.8 609.2 L1057.2 607.0 L1057.5 605.5 L1058.1 606.2 L1058.2 606.8 L1058.3 608.1 L1058.4 608.6 L1058.5 610.4 L1058.6 612.0 L1058.7 610.9 L1058.8 610.4 L1058.8 611.0 L1058.9 610.3 L1059.0 612.5 L1059.1 614.1 L1059.2 615.4 L1059.3 618.1 L1059.4 617.5 L1059.5 619.9 L1059.6 621.2 L1059.7 621.3 L1059.8 621.1 L1060.0 619.7 L1060.1 621.0 L1060.2 622.5 L1060.3 622.7 L1060.4 623.4 L1060.5 625.0 L1060.7 628.0 L1060.8 627.9 L1060.9 628.3 L1061.0 629.4 L1061.0 627.7 L1061.1 627.1 L1061.1 625.4 L1061.2 625.5 L1061.2 624.1 L1061.3 624.9 L1061.3 622.9 L1061.3 621.2 L1061.4 621.5 L1061.4 621.4 L1061.5 619.4 L1061.5 619.2 L1061.5 618.6 L1061.6 619.2 L1061.6 617.0 L1061.7 614.4 L1061.7 614.6 L1061.8 614.8 L1061.8 614.7 L1061.8 613.3 L1061.9 612.5 L1062.3 609.9 L1062.6 611.3 L1063.1 610.3 L1063.8 609.4 L1063.9 611.4 L1064.2 612.3 L1064.8 612.2 L1065.0 613.0 L1065.0 612.6 L1065.4 613.3 L1065.6 615.0 L1066.5 612.3 L1067.0 614.7 L1067.3 613.9 L1068.1 612.5 L1068.2 613.4 L1068.2 613.9 L1068.2 615.2 L1068.3 613.3 L1068.3 616.5 L1068.3 618.6 L1068.4 616.7 L1068.4 618.2 L1068.5 620.0 L1068.5 621.5 L1068.5 622.1 L1068.6 623.8 L1068.6 624.4 L1068.6 624.2 L1068.7 626.3 L1068.7 625.2 L1068.8 626.2 L1068.9 624.8 L1069.1 623.8 L1069.3 624.9 L1069.4 623.1 L1069.6 620.8 L1069.8 619.5 L1069.9 619.7 L1070.1 619.2 L1070.3 619.0 L1070.4 616.9 L1070.6 617.5 L1070.7 617.8 L1070.8 619.6 L1070.9 622.1 L1071.0 623.5 L1071.0 621.9 L1071.1 623.1 L1071.2 622.6 L1071.3 624.1 L1071.4 625.7 L1071.5 626.0 L1071.5 623.9 L1071.6 625.9 L1071.7 627.5 L1071.8 628.1 L1071.9 630.0 L1071.9 630.9 L1071.9 631.3 L1071.9 631.9 L1071.8 633.4 L1071.8 633.4 L1071.8 635.2 L1071.8 635.4 L1071.8 636.1 L1071.8 637.6 L1071.8 639.6 L1071.8 639.5 L1071.8 640.3 L1071.8 640.5 L1071.8 639.8 L1071.8 640.8 L1071.7 644.5 L1071.7 644.4 L1071.7 645.7 L1071.7 646.7 L1071.7 648.2 L1071.7 648.2 L1071.7 649.3 L1071.7 649.3 L1071.7 652.2 L1071.7 652.3 L1071.7 652.2 L1071.6 653.8 L1071.6 653.0 L1071.6 654.7 L1071.6 657.2 L1071.6 655.9 L1071.6 656.9 L1071.6 656.8 L1071.6 657.7 L1071.6 658.2 L1071.6 657.0 L1071.6 659.9 L1071.6 660.7 L1071.5 662.5 L1071.5 662.3 L1071.5 662.8 L1071.5 663.4 L1071.5 663.0 L1071.5 665.6 L1071.6 665.6 L1071.7 665.7 L1071.8 665.6 L1071.8 664.5 L1071.9 662.5 L1072.0 661.8 L1072.1 663.6 L1072.2 663.0 L1072.2 661.0 L1072.3 658.1 L1072.4 657.8 L1072.5 654.0 L1072.6 655.0 L1072.7 653.7 L1072.8 652.9 L1072.8 653.5 L1072.9 654.0 L1073.0 652.1 L1073.1 650.0 L1073.2 647.6 L1073.2 646.4 L1073.3 647.2 L1073.4 647.0 L1073.5 645.6 L1073.6 645.2 L1073.7 644.3 L1073.8 643.8 L1073.8 643.1 L1073.9 644.2 L1074.0 646.8 L1074.0 649.2 L1074.1 648.5 L1074.2 649.3 L1074.3 648.7 L1074.3 650.5 L1074.4 651.1 L1074.5 651.9 L1074.6 654.0 L1074.6 655.1 L1074.7 655.8 L1074.8 656.6 L1074.9 657.5 L1074.9 655.8 L1075.0 657.5 L1075.1 656.6 L1075.3 655.4 L1075.4 656.5 L1075.5 655.2 L1075.7 653.2 L1075.8 651.9 L1075.9 652.5 L1076.1 651.5 L1076.2 650.6 L1076.3 651.0 L1076.5 650.2 L1076.6 648.7 L1076.7 648.9 L1076.9 648.0 L1077.0 647.0 L1077.1 646.0 L1077.2 643.8 L1077.3 642.7 L1077.4 645.4 L1077.4 645.8 L1077.5 647.5 L1077.6 647.6 L1077.6 648.6 L1077.7 648.1 L1077.8 650.4 L1077.8 650.4 L1077.9 653.1 L1078.0 653.6 L1078.0 654.5 L1078.1 654.2 L1078.2 654.3 L1078.2 655.8 L1078.3 656.5 L1078.4 657.4 L1078.4 656.8 L1078.5 657.9 L1078.6 659.6 L1078.6 659.3 L1078.7 659.7 L1078.8 662.5 L1079.0 659.4 L1079.2 659.7 L1079.3 658.9 L1079.6 658.9 L1079.8 660.9 L1079.8 657.2 L1080.2 656.9 L1080.2 657.6 L1080.5 654.9 L1080.9 650.8 L1081.1 650.2 L1080.9 651.5 L1081.1 649.7 L1081.4 652.4 L1081.7 649.6 L1081.9 650.0 L1082.0 650.4 L1082.1 652.7 L1082.2 652.5 L1082.3 653.7 L1082.4 654.4 L1082.5 656.2 L1082.6 656.8 L1082.7 658.4 L1082.9 658.8 L1083.0 658.6 L1083.1 658.9 L1083.2 660.5 L1083.3 660.3 L1083.4 662.3 L1083.5 662.5 L1083.7 661.8 L1083.8 660.0 L1084.0 658.6 L1084.2 658.2 L1084.3 659.5 L1084.5 659.0 L1084.7 657.6 L1084.8 655.5 L1085.0 655.0 L1085.0 655.8 L1085.0 654.1 L1085.0 652.9 L1085.0 651.5 L1085.0 652.0 L1085.0 650.9 L1085.0 649.3 L1085.0 648.6 L1085.0 646.7 L1085.0 645.1 L1085.0 644.8 L1085.0 641.5 L1085.0 643.2 L1085.0 644.7 L1085.0 642.2 L1085.0 641.4 L1085.0 639.1 L1085.0 640.0 L1085.4 638.4 L1085.6 638.1 L1085.6 636.9 L1086.2 635.8 L1086.1 635.2 L1086.3 634.8 L1086.8 636.7 L1086.9 633.8 L1087.0 635.4 L1087.1 633.6 L1087.3 632.1 L1087.4 630.6 L1087.5 630.0 L1087.6 628.8 L1087.7 626.2 L1087.9 626.6 L1088.0 624.3 L1088.1 625.6 L1088.2 625.3 L1088.4 626.6 L1088.5 629.3 L1088.6 630.6 L1088.7 631.2 L1088.9 630.3 L1089.0 631.3 L1089.1 634.0 L1089.2 634.6 L1089.4 635.3 L1089.5 638.2 L1089.6 637.5 L1089.7 635.9 L1089.9 637.5 L1090.0 637.5 L1090.2 637.6 L1090.3 635.1 L1090.5 636.3 L1090.6 634.8 L1090.8 636.0 L1090.9 633.0 L1091.1 633.4 L1091.3 632.7 L1091.4 631.2 L1091.6 630.8 L1091.7 627.7 L1091.9 627.5 L1092.0 628.9 L1092.8 626.8 L1092.9 626.0 L1093.4 624.6 L1093.6 622.7 L1094.0 623.1 L1094.1 621.9 L1094.2 624.4 L1094.3 624.8 L1094.4 624.0 L1094.5 625.2 L1094.5 628.7 L1094.6 629.3 L1094.7 628.8 L1094.8 629.0 L1094.9 631.3 L1095.0 632.5 L1095.2 633.5 L1095.3 634.4 L1095.5 634.9 L1095.6 636.2 L1095.8 638.3 L1096.0 638.9 L1096.1 638.9 L1096.3 638.0 L1096.4 639.6 L1096.6 642.0 L1096.8 642.9 L1096.9 641.8 L1097.1 642.9 L1097.2 643.8 L1097.3 644.2 L1097.4 642.2 L1097.5 641.8 L1097.6 641.9 L1097.7 642.1 L1097.8 638.7 L1097.8 636.2 L1097.9 636.4 L1098.0 636.5 L1098.1 635.2 L1098.2 634.5 L1098.2 633.3 L1098.3 633.8 L1098.4 630.4 L1098.5 630.5 L1098.6 628.7 L1098.7 627.9 L1098.8 628.8 L1099.3 627.1 L1099.7 628.0 L1100.6 631.2 L1100.7 632.4 L1100.8 632.8 L1100.9 634.0 L1101.0 635.0 L1101.1 635.8 L1101.2 637.9 L1101.2 638.1 L1101.3 638.6 L1101.4 638.9 L1101.5 639.5 L1101.6 640.2 L1101.7 641.9 L1101.8 642.3 L1101.9 642.5 L1101.9 643.8 L1102.0 644.3 L1102.0 645.8 L1102.1 645.8 L1102.1 647.5 L1102.2 647.3 L1102.2 648.8 L1102.3 651.2 L1102.3 651.3 L1102.4 651.4 L1102.4 650.7 L1102.5 652.4 L1102.5 653.1 L1102.6 654.7 L1102.6 654.5 L1102.7 655.8 L1102.7 658.2 L1102.8 658.5 L1102.8 658.4 L1102.9 657.6 L1102.9 658.8 L1103.0 660.4 L1103.0 661.7 L1103.1 661.1 L1103.1 662.5 L1103.1 661.9 L1103.1 662.4 L1103.1 662.9 L1103.1 664.3 L1103.1 666.0 L1103.1 669.0 L1103.1 669.4 L1103.1 671.3 L1103.1 669.6 L1103.1 672.1 L1103.1 673.2 L1103.1 673.9 L1103.1 675.0 L1103.1 675.8 L1103.1 675.0 L1104.2 677.2 L1105.0 673.8 L1105.0 676.8 L1105.1 675.8 L1105.1 677.2 L1105.1 677.3 L1105.2 676.7 L1105.2 677.3 L1105.2 678.8 L1105.3 680.8 L1105.3 682.9 L1105.3 684.0 L1105.4 684.2 L1105.4 684.9 L1105.4 685.0 L1105.5 686.9 L1105.5 686.3 L1105.5 686.1 L1105.6 688.2 L1105.6 687.5 L1105.6 689.0 L1105.7 691.1 L1105.7 691.9 L1105.7 693.0 L1105.8 693.5 L1105.8 694.3 L1105.8 693.5 L1105.9 695.0 L1106.0 695.5 L1106.0 693.9 L1106.1 692.5 L1106.2 692.0 L1106.2 692.4 L1106.3 690.8 L1106.4 689.6 L1106.4 689.8 L1106.5 689.1 L1106.6 687.4 L1106.7 686.1 L1106.7 685.4 L1106.8 683.8 L1106.9 682.2 L1106.9 681.3 L1107.0 679.8 L1107.1 681.9 L1107.1 679.9 L1107.2 679.9 L1107.3 677.1 L1107.4 676.4 L1107.4 677.9 L1107.5 676.2 L1107.6 677.4 L1107.6 676.6 L1107.7 677.5 L1107.8 677.2 L1107.8 677.0 L1107.9 680.8 L1107.9 681.4 L1108.0 682.7 L1108.1 684.8 L1108.1 684.4 L1108.2 685.5 L1108.2 686.3 L1108.3 686.3 L1108.4 687.0 L1108.4 687.0 L1108.5 687.0 L1108.6 689.4 L1108.6 690.0 L1108.7 688.2 L1108.8 692.5 L1108.9 693.0 L1109.0 693.9 L1109.1 694.7 L1109.2 697.1 L1109.3 695.0 L1109.5 696.5 L1109.6 696.8 L1109.7 698.5 L1109.8 700.7 L1109.9 701.4 L1110.0 701.1 L1110.2 701.9 L1110.3 703.8 L1110.4 705.1 L1110.5 706.0 L1110.6 705.6 L1110.7 705.8 L1110.7 703.7 L1110.7 703.4 L1110.8 701.3 L1110.8 700.9 L1110.9 700.0 L1110.9 699.9 L1110.9 700.4 L1111.0 699.3 L1111.0 698.9 L1111.1 697.4 L1111.1 695.9 L1111.1 695.8 L1111.2 694.7 L1111.2 692.6 L1111.2 692.3 L1111.3 691.6 L1111.3 691.4 L1111.4 691.0 L1111.4 689.3 L1111.4 689.4 L1111.5 686.4 L1111.5 687.9 L1111.6 685.6 L1111.6 685.6 L1111.6 686.2 L1111.7 684.5 L1111.7 682.0 L1111.8 680.6 L1111.8 680.4 L1111.8 680.3 L1111.9 680.0 L1112.0 681.7 L1112.2 681.9 L1112.3 682.3 L1112.5 683.0 L1112.7 684.0 L1112.8 683.9 L1113.0 684.7 L1113.1 685.3 L1113.3 687.5 L1113.4 687.9 L1113.6 688.6 L1113.8 690.0 L1113.8 690.9 L1113.9 689.5 L1113.9 689.0 L1114.0 684.8 L1114.1 685.0 L1114.1 685.1 L1114.2 684.7 L1114.3 683.8 L1114.3 682.5 L1114.4 680.2 L1114.5 680.9 L1114.5 679.7 L1114.6 677.4 L1114.7 678.9 L1114.7 679.3 L1114.8 676.7 L1114.8 677.4 L1114.9 674.0 L1115.0 674.0 L1115.0 672.6 L1115.1 672.3 L1115.2 672.4 L1115.2 672.3 L1115.3 671.6 L1115.4 670.5 L1115.4 670.2 L1115.5 667.9 L1115.6 667.4 L1115.6 666.2 L1116.4 665.7 L1117.1 665.0 L1118.2 665.0 L1118.8 665.0 L1119.0 665.5 L1119.2 665.3 L1119.4 665.1 L1119.6 665.7 L1119.8 668.8 L1120.0 669.4 L1120.2 672.4 L1120.4 673.2 L1120.6 672.5 L1120.8 674.6 L1121.0 675.5 L1121.2 676.5 L1121.3 677.5 L1121.5 676.6 L1121.7 676.7 L1121.9 677.2 L1122.0 678.4 L1122.2 679.1 L1122.4 678.8 L1122.6 679.5 L1122.8 681.9 L1123.3 681.8 L1123.2 683.2 L1123.7 679.7 L1124.2 677.9 L1124.4 677.5 L1124.4 676.7 L1124.4 676.3 L1124.4 675.0 L1124.4 671.6 L1124.5 671.8 L1124.5 672.5 L1124.5 671.1 L1124.5 671.5 L1124.5 671.2 L1124.5 668.3 L1124.5 667.7 L1124.6 667.6 L1124.6 667.7 L1124.6 666.8 L1124.6 665.7 L1124.6 664.5 L1124.6 663.5 L1124.6 662.8 L1124.7 661.0 L1124.7 661.4 L1124.7 660.3 L1124.7 660.1 L1124.7 658.7 L1124.7 658.4 L1124.7 657.7 L1124.8 657.6 L1124.8 656.9 L1124.8 656.6 L1124.8 655.0 L1124.8 653.8 L1124.8 652.6 L1124.9 650.5 L1124.9 650.1 L1124.9 650.7 L1124.9 650.5 L1124.9 648.4 L1124.9 648.0 L1124.9 647.8 L1125.0 645.3 L1125.0 645.2 L1125.0 644.8 L1125.0 643.8 L1125.7 643.8 L1126.5 642.9 L1126.9 641.2 L1127.0 644.5 L1127.0 643.9 L1127.1 645.6 L1127.2 646.9 L1127.3 646.8 L1127.4 645.9 L1127.4 648.2 L1127.5 648.5 L1127.6 649.5 L1127.7 650.4 L1127.8 651.8 L1127.9 653.0 L1127.9 651.6 L1128.0 651.1 L1128.1 652.7 L1128.2 653.8 L1128.3 655.6 L1128.3 656.1 L1128.4 656.7 L1128.5 659.5 L1128.6 660.9 L1128.7 661.8 L1128.8 660.0 L1129.3 663.4 L1129.5 662.3 L1130.4 661.6 L1130.8 661.8 L1131.2 663.8 L1131.3 662.7 L1131.4 662.5 L1131.4 661.3 L1131.5 660.1 L1131.6 660.0 L1131.6 659.5 L1131.7 658.8 L1131.8 656.5 L1131.8 654.3 L1131.9 656.4 L1132.0 654.6 L1132.0 653.5 L1132.1 651.0 L1132.2 650.3 L1132.2 649.5 L1132.3 650.3 L1132.3 647.0 L1132.4 645.9 L1132.5 645.9 L1132.5 645.5 L1132.6 644.7 L1132.7 644.2 L1132.7 642.4 L1132.8 642.9 L1132.9 643.7 L1132.9 642.9 L1133.0 641.4 L1133.1 641.9 L1133.1 640.0 L1134.0 640.9 L1134.7 639.2 L1135.6 639.4 L1135.7 639.9 L1135.8 642.0 L1135.9 641.7 L1136.0 642.4 L1136.1 643.4 L1136.1 643.0 L1136.2 643.8 L1136.3 645.7 L1136.4 647.6 L1136.5 646.1 L1136.6 648.1 L1136.7 648.6 L1136.7 650.8 L1136.8 651.8 L1136.9 654.0 L1137.0 654.1 L1137.1 653.7 L1137.2 653.4 L1137.3 652.9 L1137.3 654.9 L1137.4 656.4 L1137.5 657.9 L1137.6 658.6 L1137.7 657.6 L1137.8 658.4 L1137.9 659.3 L1137.9 660.6 L1138.0 662.3 L1138.1 662.5 L1138.2 663.4 L1138.3 662.2 L1138.4 658.9 L1138.5 657.6 L1138.6 655.3 L1138.7 655.1 L1138.9 654.1 L1139.0 654.7 L1139.1 654.2 L1139.2 655.0 L1139.3 655.0 L1139.4 653.3 L1139.5 653.3 L1139.6 652.0 L1139.7 651.4 L1139.8 651.6 L1139.9 648.9 L1140.0 648.1 L1140.6 688.1 L1141.1 687.2 L1140.9 686.5 L1141.4 685.2 L1141.6 683.4 L1141.6 682.3 L1142.1 680.4 L1142.1 681.3 L1142.6 682.4 L1142.6 682.8 L1143.2 680.6 L1143.3 677.3 L1143.5 677.4 L1143.8 677.5 L1143.8 675.7 L1143.8 675.7 L1143.9 674.1 L1143.9 674.9 L1144.0 675.4 L1144.0 673.8 L1144.1 672.4 L1144.1 672.6 L1144.2 671.7 L1144.2 671.6 L1144.2 669.6 L1144.3 668.7 L1144.3 667.3 L1144.4 665.8 L1144.4 664.9 L1144.5 664.0 L1144.5 664.0 L1144.6 662.8 L1144.6 662.2 L1144.6 660.6 L1144.7 658.9 L1144.7 660.2 L1144.8 658.3 L1144.8 659.6 L1144.9 659.1 L1144.9 655.4 L1145.0 654.4 L1145.0 655.0 L1145.9 653.4 L1146.5 653.5 L1147.5 653.8 L1148.0 655.4 L1148.0 655.7 L1148.4 655.7 L1148.6 658.0 L1149.0 658.2 L1149.0 659.9 L1149.4 659.4 L1149.4 659.9 L1149.5 659.5 L1149.5 657.7 L1149.5 656.2 L1149.6 654.9 L1149.6 656.8 L1149.6 654.8 L1149.7 655.1 L1149.7 653.1 L1149.7 652.1 L1149.8 648.8 L1149.8 648.6 L1149.9 648.1 L1149.9 647.0 L1149.9 646.0 L1150.0 644.1 L1150.0 645.0 L1150.8 642.8 L1151.4 644.3 L1152.2 645.0 L1153.1 646.2 L1153.3 644.4 L1153.5 644.8 L1153.7 642.9 L1153.8 640.9 L1154.0 640.8 L1154.2 639.6 L1154.4 639.6 L1154.5 639.0 L1154.7 638.5 L1154.9 637.7 L1155.1 637.3 L1155.3 638.7 L1155.4 637.0 L1155.6 635.0 L1156.1 636.2 L1156.1 636.3 L1156.5 637.7 L1156.9 637.0 L1157.1 638.1 L1157.5 641.1 L1157.6 641.8 L1157.8 641.4 L1158.3 644.0 L1158.5 645.0 L1158.8 643.8 L1158.8 642.2 L1158.8 641.1 L1158.8 641.5 L1158.8 641.0 L1158.8 639.4 L1158.8 637.5 L1158.8 636.4 L1158.8 636.2 L1158.8 636.2 L1158.9 636.8 L1159.1 639.2 L1159.3 638.2 L1159.5 641.1 L1159.7 643.4 L1159.9 641.4 L1160.1 641.9 L1160.3 643.9 L1160.5 644.9 L1160.7 645.7 L1160.9 647.0 L1161.1 647.6 L1161.3 649.3 L1161.5 647.5 L1161.6 647.8 L1161.7 646.0 L1161.7 645.8 L1161.8 645.0 L1161.9 643.7 L1162.0 643.9 L1162.1 641.0 L1162.1 642.7 L1162.2 642.2 L1162.3 640.0 L1162.4 638.2 L1162.5 636.3 L1162.6 636.7 L1162.6 634.0 L1162.7 633.7 L1162.8 634.2 L1162.9 633.0 L1163.0 634.2 L1163.0 632.9 L1163.1 631.2 L1163.3 631.7 L1163.4 631.5 L1163.6 633.1 L1163.8 634.3 L1163.9 635.9 L1164.1 635.8 L1164.3 634.0 L1164.4 636.4 L1164.6 638.1 L1164.8 640.3 L1164.9 641.8 L1165.1 642.4 L1165.3 642.4 L1165.4 642.3 L1165.6 643.2 L1165.8 641.3 L1165.9 644.0 L1166.1 643.5 L1166.2 646.2 L1166.3 645.8 L1166.3 644.3 L1166.3 641.9 L1166.4 641.3 L1166.4 641.7 L1166.4 639.8 L1166.4 639.4 L1166.5 638.5 L1166.5 637.8 L1166.5 638.2 L1166.5 638.5 L1166.6 636.0 L1166.6 634.6 L1166.6 637.4 L1166.6 636.0 L1166.7 634.6 L1166.7 633.2 L1166.7 632.5 L1166.7 632.3 L1166.8 630.7 L1166.8 628.2 L1166.8 629.2 L1166.8 626.8 L1166.9 626.1 L1166.9 626.2 L1167.7 623.8 L1168.0 624.0 L1168.8 623.8 L1168.9 623.1 L1169.1 624.4 L1169.2 626.0 L1169.4 627.4 L1169.5 626.3 L1169.7 627.7 L1169.8 628.6 L1170.0 630.0 L1170.2 631.5 L1170.3 632.0 L1170.5 633.1 L1170.6 633.8 L1170.7 632.8 L1170.7 631.7 L1170.8 630.6 L1170.8 630.0 L1170.8 630.4 L1170.9 629.3 L1170.9 627.2 L1171.0 625.8 L1171.0 626.1 L1171.1 624.6 L1171.1 624.0 L1171.1 624.1 L1171.2 623.0 L1171.2 623.1 L1171.3 622.9 L1171.3 620.5 L1171.4 621.1 L1171.4 621.2 L1171.4 619.9 L1171.5 616.9 L1171.5 618.0 L1171.6 616.3 L1171.6 616.2 L1171.7 614.4 L1171.7 614.6 L1171.7 612.9 L1171.8 613.4 L1171.8 610.5 L1171.9 610.0 L1171.9 609.9 L1171.8 608.5 L1171.8 608.7 L1171.8 606.0 L1171.8 604.9 L1171.8 604.0 L1171.8 602.8 L1171.8 603.0 L1171.7 602.7 L1171.7 602.3 L1171.7 601.9 L1171.7 601.4 L1171.7 601.5 L1171.7 598.8 L1171.6 599.8 L1171.6 598.4 L1171.6 597.8 L1171.6 596.7 L1171.6 595.9 L1171.6 594.1 L1171.5 592.1 L1171.5 591.7 L1171.5 593.0 L1171.5 591.1 L1171.5 589.2 L1171.5 587.6 L1171.4 586.5 L1171.4 586.0 L1171.4 586.0 L1171.4 583.9 L1171.4 585.8 L1171.4 583.7 L1171.3 584.2 L1171.3 584.6 L1171.3 584.0 L1171.3 583.0 L1171.3 580.7 L1171.3 578.9 L1171.2 578.8 L1171.5 580.1 L1172.2 580.8 L1172.5 582.0 L1173.1 585.0 L1173.6 584.0 L1173.8 583.8 L1173.8 583.7 L1173.8 582.4 L1173.9 583.4 L1173.9 583.7 L1174.0 582.6 L1174.0 579.7 L1174.1 577.8 L1174.1 576.4 L1174.2 575.5 L1174.2 575.3 L1174.2 573.9 L1174.3 573.3 L1174.3 574.3 L1174.4 572.5 L1174.7 573.7 L1175.0 572.7 L1175.2 570.6 L1175.7 570.0 L1176.0 568.4 L1176.2 567.5 L1176.6 567.2 L1176.9 566.2 L1176.9 565.8 L1177.0 564.2 L1177.0 563.9 L1177.0 563.8 L1177.1 562.8 L1177.1 561.0 L1177.2 560.1 L1177.2 559.2 L1177.3 559.9 L1177.3 559.4 L1177.3 557.5 L1177.4 556.5 L1177.4 553.2 L1177.5 553.7 L1177.5 553.8 L1177.7 553.0 L1178.0 555.2 L1178.2 558.0 L1178.4 558.6 L1178.9 558.5 L1179.1 559.6 L1179.2 558.9 L1179.4 560.0 L1179.4 560.0 L1179.6 560.5 L1180.0 559.2 L1180.0 558.0 L1180.5 556.8 L1180.7 553.4 L1180.8 551.4 L1181.0 554.4 L1181.4 553.5 L1181.5 554.4 L1181.5 553.2 L1181.9 550.6 L1182.0 552.2 L1182.2 552.9 L1182.4 552.8 L1182.5 553.3 L1182.7 554.1 L1182.9 554.5 L1183.0 555.1 L1183.2 555.0 L1183.4 556.0 L1183.5 555.1 L1183.7 556.9 L1183.9 560.1 L1184.0 559.2 L1184.2 562.0 L1184.4 562.5 L1184.4 562.6 L1184.5 559.9 L1184.6 558.8 L1184.7 558.0 L1184.7 559.8 L1184.8 557.0 L1184.9 557.2 L1184.9 555.9 L1185.0 555.0 L1185.1 556.5 L1185.1 555.7 L1185.2 557.8 L1185.3 557.0 L1185.3 557.3 L1185.4 559.1 L1185.5 560.6 L1185.6 560.1 L1185.6 559.5 L1185.7 560.9 L1185.8 562.8 L1185.8 564.1 L1185.9 564.7 L1186.0 565.9 L1186.0 567.1 L1186.1 567.6 L1186.2 569.1 L1186.3 569.3 L1186.3 571.3 L1186.4 573.0 L1186.5 572.7 L1186.5 572.3 L1186.6 572.3 L1186.7 572.9 L1186.7 575.5 L1186.8 575.8 L1186.9 576.9 L1187.0 574.8 L1187.0 574.3 L1187.1 572.5 L1187.2 573.3 L1187.3 573.8 L1187.3 573.6 L1187.4 573.7 L1187.5 571.2 L1187.6 569.2 L1187.7 568.3 L1187.7 568.0 L1187.8 567.5 L1187.9 564.6 L1188.0 564.0 L1188.0 564.2 L1188.1 563.2 L1188.2 562.7 L1188.3 560.2 L1188.4 558.3 L1188.4 559.0 L1188.5 559.3 L1188.6 559.6 L1188.7 557.0 L1188.8 557.5 L1188.8 557.4 L1188.9 557.8 L1189.0 559.4 L1189.0 561.2 L1189.1 561.1 L1189.2 561.6 L1189.2 563.1 L1189.3 562.5 L1189.4 564.2 L1189.4 564.4 L1189.5 566.9 L1189.6 567.5 L1189.7 568.3 L1189.7 570.0 L1189.8 570.3 L1189.9 568.6 L1189.9 569.6 L1190.0 572.5 L1190.5 570.5 L1191.1 570.5 L1191.9 570.0 L1191.9 569.7 L1192.0 567.7 L1192.0 568.0 L1192.1 567.2 L1192.1 565.6 L1192.1 564.9 L1192.2 563.5 L1192.2 565.1 L1192.3 563.0 L1192.3 562.3 L1192.4 561.0 L1192.4 560.0 L1192.5 557.9 L1192.5 557.6 L1192.5 558.3 L1192.6 558.0 L1192.6 556.3 L1192.7 557.0 L1192.7 554.0 L1192.8 552.0 L1192.8 551.5 L1192.9 550.9 L1192.9 551.3 L1192.9 552.0 L1193.0 550.8 L1193.0 549.3 L1193.1 547.7 L1193.1 547.5 L1193.2 548.4 L1193.3 547.2 L1193.3 549.2 L1193.4 548.8 L1193.5 549.9 L1193.5 551.5 L1193.6 551.9 L1193.7 552.6 L1193.8 553.4 L1193.8 553.7 L1193.9 555.6 L1194.0 556.5 L1194.0 557.2 L1194.1 558.8 L1194.2 559.3 L1194.2 559.7 L1194.3 562.8 L1194.4 562.5 L1194.4 563.3 L1194.5 561.8 L1194.5 560.9 L1194.6 559.7 L1194.6 559.3 L1194.7 558.0 L1194.7 558.7 L1194.8 557.5 L1194.9 557.0 L1194.9 556.9 L1195.0 555.6 L1195.0 554.0 L1195.1 552.5 L1195.1 551.8 L1195.2 549.9 L1195.2 549.4 L1195.3 548.6 L1195.3 546.7 L1195.4 548.3 L1195.4 546.6 L1195.5 546.8 L1195.5 547.5 L1195.6 546.6 L1195.6 543.9 L1195.7 542.2 L1195.7 541.4 L1195.8 540.3 L1195.8 540.3 L1195.9 539.8 L1195.9 540.0 L1196.0 537.5 L1196.1 538.6 L1196.2 540.8 L1196.3 539.2 L1196.3 539.5 L1196.4 542.4 L1196.5 543.9 L1196.6 542.6 L1196.7 543.5 L1196.8 544.6 L1196.8 547.0 L1196.9 545.9 L1197.0 547.7 L1197.1 547.8 L1197.2 548.4 L1197.3 548.8 L1197.4 551.5 L1197.4 553.2 L1197.5 553.3 L1197.6 552.0 L1197.7 552.6 L1197.8 553.2 L1197.9 555.5 L1198.0 554.5 L1198.0 556.1 L1198.1 557.5 L1199.4 557.5 L1199.4 559.1 L1199.5 560.2 L1199.5 560.5 L1199.6 562.5 L1199.7 562.7 L1199.7 563.9 L1199.8 564.5 L1199.8 567.0 L1199.9 565.4 L1199.9 567.7 L1200.0 566.9 L1200.3 567.1 L1200.4 565.1 L1200.7 565.7 L1201.2 563.8 L1201.2 564.7 L1201.2 564.3 L1201.2 565.4 L1201.2 566.1 L1201.2 566.6 L1201.1 569.1 L1201.1 569.0 L1201.1 571.6 L1201.1 572.7 L1201.1 573.5 L1201.0 573.1 L1201.0 573.3 L1201.0 572.3 L1201.0 574.2 L1201.0 575.1 L1200.9 576.7 L1200.9 576.9 L1200.9 578.5 L1200.9 577.8 L1200.9 577.1 L1200.8 579.5 L1200.8 581.9 L1200.8 579.6 L1200.8 582.8 L1200.8 583.5 L1200.8 584.4 L1200.7 583.9 L1200.7 584.5 L1200.7 586.8 L1200.7 587.2 L1200.7 588.4 L1200.6 589.3 L1200.6 590.6 L1201.7 591.9 L1202.5 590.0 L1202.5 589.7 L1202.6 587.2 L1202.6 585.6 L1202.7 585.5 L1202.7 585.1 L1202.8 584.5 L1202.8 581.4 L1202.9 582.7 L1202.9 582.5 L1203.0 582.8 L1203.0 582.3 L1203.1 581.3 L1203.1 579.4 L1203.2 581.0 L1203.4 581.3 L1203.5 582.5 L1203.6 581.4 L1203.7 583.2 L1203.8 583.6 L1203.9 585.6 L1204.1 585.8 L1204.2 584.3 L1204.3 586.9 L1204.4 586.5 L1204.5 587.7 L1204.6 589.2 L1204.8 590.4 L1204.9 591.4 L1205.0 592.5 L1205.1 593.6 L1205.2 594.6 L1205.3 594.5 L1205.4 596.9 L1205.5 596.8 L1205.6 598.1 L1205.7 600.0 L1205.8 599.5 L1205.9 601.2 L1206.0 603.1 L1206.1 603.7 L1206.3 603.8 L1206.4 602.7 L1206.5 603.2 L1206.6 603.4 L1206.7 605.2 L1206.8 606.7 L1206.9 606.9 L1207.0 606.4 L1207.1 604.2 L1207.1 604.3 L1207.2 604.1 L1207.3 603.0 L1207.4 602.1 L1207.5 602.4 L1207.6 601.4 L1207.7 601.6 L1207.8 601.6 L1207.9 600.8 L1207.9 600.1 L1208.0 598.4 L1208.1 596.0 L1208.2 592.0 L1208.3 591.5 L1208.4 591.0 L1208.5 590.4 L1208.6 591.2 L1208.7 590.4 L1208.8 590.0 L1209.1 589.9 L1209.4 588.7 L1210.0 586.7 L1210.1 584.7 L1210.6 586.5 L1211.0 585.6 L1211.1 586.4 L1211.2 587.5 L1211.3 587.8 L1211.4 587.3 L1211.5 587.7 L1211.6 589.5 L1211.7 589.2 L1211.8 591.9 L1211.9 593.2 L1212.0 593.7 L1212.1 595.8 L1212.2 595.2 L1212.3 596.7 L1212.4 596.0 L1212.5 596.8 L1212.6 598.6 L1212.7 598.8 L1212.8 599.7 L1212.9 601.3 L1213.0 603.4 L1213.1 604.8 L1213.2 605.1 L1213.3 605.0 L1213.4 604.0 L1213.5 606.9 L1213.6 609.0 L1213.7 606.7 L1213.8 608.1 L1213.8 607.8 L1213.8 606.7 L1213.8 606.5 L1213.9 605.6 L1213.9 604.3 L1213.9 603.4 L1214.0 602.4 L1214.0 602.7 L1214.0 601.2 L1214.0 599.6 L1214.1 599.6 L1214.1 599.2 L1214.1 598.4 L1214.2 597.5 L1214.2 597.7 L1214.2 597.2 L1214.2 595.7 L1214.3 594.0 L1214.3 593.6 L1214.3 590.5 L1214.4 589.6 L1214.4 590.0 L1214.5 589.4 L1214.5 591.0 L1214.6 591.7 L1214.7 595.2 L1214.7 596.0 L1214.8 596.4 L1214.9 598.8 L1215.0 598.4 L1215.0 598.2 L1215.1 599.9 L1215.2 600.8 L1215.2 601.8 L1215.3 603.0 L1215.4 602.5 L1215.5 602.3 L1215.5 602.4 L1215.6 603.6 L1215.7 605.5 L1215.7 605.0 L1215.8 605.5 L1215.9 605.4 L1216.0 608.8 L1216.0 610.1 L1216.1 610.6 L1216.2 609.8 L1216.2 611.2 L1217.1 610.5 L1217.8 611.1 L1218.5 613.1 L1218.5 611.2 L1218.5 612.0 L1218.5 611.0 L1218.5 610.1 L1218.5 607.2 L1218.6 606.8 L1218.6 606.4 L1218.6 605.3 L1218.6 603.6 L1218.6 603.6 L1218.6 602.3 L1218.6 601.6 L1218.6 599.9 L1218.6 600.0 L1218.6 600.7 L1218.6 599.1 L1218.7 598.9 L1218.7 596.7 L1218.7 597.0 L1218.7 596.9 L1218.7 595.6 L1218.7 595.7 L1218.7 593.7 L1218.7 593.1 L1218.7 594.0 L1218.7 592.5 L1218.7 590.3 L1218.8 590.0 L1219.8 590.2 L1220.6 590.0 L1221.2 588.1 L1221.3 590.9 L1221.4 589.5 L1221.4 591.9 L1221.5 592.5 L1221.6 592.0 L1221.6 594.1 L1221.7 595.9 L1221.8 595.1 L1221.8 596.2 L1221.9 595.2 L1222.0 596.8 L1222.0 599.6 L1222.1 598.4 L1222.2 599.4 L1222.2 599.7 L1222.3 600.8 L1222.4 601.9 L1222.4 603.1 L1222.5 603.8 L1222.6 603.9 L1222.6 603.2 L1222.7 603.0 L1222.8 602.5 L1222.8 602.0 L1222.9 599.6 L1223.0 599.0 L1223.0 597.5 L1223.1 595.8 L1223.2 597.2 L1223.2 596.1 L1223.3 594.9 L1223.4 591.7 L1223.4 591.3 L1223.5 591.7 L1223.6 590.7 L1223.6 589.5 L1223.7 590.3 L1223.8 588.8 L1223.8 587.6 L1223.9 586.7 L1224.0 585.8 L1224.0 586.1 L1224.1 585.5 L1224.2 584.2 L1224.2 582.9 L1224.3 581.8 L1224.4 581.2 L1224.8 583.5 L1225.0 583.4 L1224.9 584.3 L1225.3 585.5 L1225.4 586.4 L1226.0 587.0 L1226.3 587.5 L1226.2 587.5 L1226.5 586.4 L1227.2 586.3 L1227.5 585.0 L1227.6 586.8 L1227.7 588.7 L1227.8 589.7 L1227.9 587.9 L1228.0 588.4 L1228.1 589.3 L1228.2 590.6 L1228.2 592.8 L1228.3 594.1 L1228.4 592.5 L1228.5 593.5 L1228.6 594.8 L1228.7 596.4 L1228.8 597.4 L1228.9 599.7 L1229.0 598.1 L1229.3 598.6 L1229.2 596.7 L1229.8 595.0 L1230.0 594.6 L1229.9 593.6 L1230.4 592.4 L1230.7 591.8 L1231.0 591.1 L1231.1 589.7 L1231.4 590.2 L1231.6 588.6 L1231.7 587.0 L1231.9 587.5 L1232.0 588.8 L1232.1 589.7 L1232.1 589.5 L1232.2 591.0 L1232.3 591.2 L1232.4 592.7 L1232.5 592.8 L1232.6 595.4 L1232.7 596.6 L1232.8 596.0 L1232.9 597.1 L1232.9 597.3 L1233.0 596.6 L1233.1 598.0 L1233.2 599.5 L1233.3 599.5 L1233.4 602.1 L1233.5 605.0 L1233.6 603.7 L1233.7 603.5 L1233.8 605.0 L1234.0 603.5 L1234.2 603.3 L1234.4 601.6 L1234.6 600.7 L1234.8 601.4 L1235.0 599.4 L1235.2 598.8 L1235.4 596.8 L1235.6 597.5 L1235.7 597.4 L1235.7 598.1 L1235.7 600.7 L1235.8 601.2 L1235.8 601.4 L1235.9 601.9 L1235.9 604.3 L1236.0 605.6 L1236.0 605.6 L1236.0 604.8 L1236.1 606.0 L1236.1 608.2 L1236.2 608.9 L1236.2 608.1 L1236.2 610.0 L1236.7 610.6 L1236.6 611.3 L1236.9 611.4 L1237.3 611.8 L1237.4 612.3 L1237.9 612.1 L1238.4 614.2 L1238.7 615.2 L1238.8 617.5 L1238.8 617.1 L1238.9 619.0 L1238.9 620.4 L1239.0 621.6 L1239.1 620.8 L1239.1 622.8 L1239.2 624.7 L1239.2 624.6 L1239.3 626.3 L1239.4 626.4 L1239.4 627.1 L1239.5 627.8 L1239.6 628.4 L1239.6 629.4 L1239.7 628.6 L1239.8 629.0 L1239.9 629.1 L1240.0 628.1 L1240.1 627.1 L1240.2 624.4 L1240.3 623.5 L1240.3 623.3 L1240.4 622.5 L1240.5 621.1 L1240.6 619.5 L1240.7 620.1 L1240.8 619.8 L1240.9 616.0 L1241.0 618.9 L1241.1 618.1 L1241.2 616.9 L1241.2 615.0 L1241.3 615.9 L1241.4 615.0 L1241.4 615.2 L1241.5 612.8 L1241.5 612.5 L1241.6 611.8 L1241.7 608.5 L1241.7 610.1 L1241.8 608.2 L1241.8 605.8 L1241.9 605.3 L1242.0 605.7 L1242.0 603.6 L1242.1 602.9 L1242.1 601.8 L1242.2 601.1 L1242.3 597.9 L1242.3 599.6 L1242.4 598.0 L1242.4 598.3 L1242.5 597.5 L1242.6 596.7 L1242.7 594.0 L1242.8 593.8 L1242.9 592.4 L1242.9 592.1 L1243.0 591.1 L1243.1 590.6 L1243.2 590.0 L1243.3 589.7 L1243.4 589.5 L1243.5 587.5 L1243.6 588.2 L1243.7 589.0 L1243.8 585.6 L1244.4 588.1 L1245.5 590.3 L1246.2 587.5 L1246.7 589.6 L1246.9 591.0 L1246.8 590.7 L1247.4 591.5 L1247.3 590.7 L1247.8 593.0 L1248.1 594.2 L1248.5 595.3 L1248.5 595.0 L1248.6 596.0 L1248.7 594.4 L1248.8 595.0 L1248.9 594.6 L1249.0 592.2 L1249.1 589.9 L1249.2 589.5 L1249.3 588.0 L1249.4 587.4 L1249.5 587.3 L1249.6 586.6 L1249.7 586.5 L1249.8 586.9 L1249.9 583.7 L1250.0 582.5 L1250.8 584.9 L1251.7 586.5 L1252.3 584.8 L1253.1 585.0 L1253.1 586.1 L1253.1 588.1 L1253.0 587.7 L1253.0 590.2 L1253.0 591.6 L1252.9 591.9 L1252.9 591.4 L1252.9 592.9 L1252.9 590.5 L1252.8 591.4 L1252.8 593.9 L1252.8 594.8 L1252.7 598.1 L1252.7 597.4 L1252.7 596.7 L1252.6 597.6 L1252.6 599.3 L1252.6 601.8 L1252.6 600.2 L1252.5 601.4 L1252.5 602.5 L1253.2 604.4 L1253.6 604.1 L1254.0 605.6 L1254.8 605.6 L1254.8 606.0 L1254.9 605.9 L1255.0 606.8 L1255.1 604.0 L1255.1 602.8 L1255.2 601.1 L1255.3 600.1 L1255.4 598.5 L1255.5 597.3 L1255.5 597.0 L1255.6 596.2 L1256.3 598.4 L1256.6 600.2 L1257.0 600.2 L1257.5 599.4 L1257.5 599.4 L1257.5 598.3 L1257.5 596.5 L1257.6 596.8 L1257.6 594.1 L1257.6 596.5 L1257.6 593.8 L1257.6 594.6 L1257.6 593.7 L1257.6 590.6 L1257.7 588.8 L1257.7 588.7 L1257.7 588.5 L1257.7 587.4 L1257.7 586.8 L1257.7 586.3 L1257.8 584.3 L1257.8 584.0 L1257.8 585.7 L1257.8 583.5 L1257.8 581.5 L1257.8 581.6 L1257.8 582.0 L1257.9 581.6 L1257.9 579.5 L1257.9 578.3 L1257.9 577.6 L1257.9 576.5 L1257.9 576.1 L1257.9 576.1 L1258.0 575.3 L1258.0 574.0 L1258.0 572.7 L1258.0 573.5 L1258.0 570.7 L1258.0 571.9 L1258.0 571.0 L1258.1 569.5 L1258.1 567.5 L1258.1 568.5 L1258.1 568.1 L1258.1 565.0 L1258.3 568.1 L1258.5 570.1 L1258.7 567.8 L1259.0 568.6 L1259.2 569.0 L1259.4 569.2 L1259.6 570.4 L1259.8 572.0 L1260.0 573.2 L1260.2 573.6 L1260.4 573.0 L1260.6 575.0 L1260.6 574.1 L1261.2 574.0 L1261.5 573.0 L1261.7 571.0 L1261.5 570.7 L1261.9 570.8 L1262.2 568.8 L1262.3 567.7 L1262.7 566.7 L1262.5 567.8 L1263.0 566.2 L1263.1 565.6 L1263.2 566.4 L1263.4 565.5 L1263.5 567.8 L1263.6 567.5 L1263.8 566.6 L1263.9 567.5 L1264.0 568.9 L1264.1 572.4 L1264.3 572.8 L1264.4 573.8 L1265.0 572.7 L1264.9 572.5 L1265.6 573.7 L1266.1 571.0 L1266.2 570.0 L1266.3 569.7 L1266.3 569.9 L1266.4 570.9 L1266.4 572.0 L1266.4 574.8 L1266.5 576.2 L1266.5 576.0 L1266.5 576.9 L1266.6 576.9 L1266.6 577.7 L1266.6 578.6 L1266.7 581.7 L1266.7 580.6 L1266.7 580.4 L1266.8 582.2 L1266.8 582.2 L1266.8 582.5 L1266.9 585.0 L1267.0 583.5 L1267.2 581.8 L1267.3 583.0 L1267.5 582.6 L1267.7 580.8 L1267.8 579.8 L1268.0 578.4 L1268.1 579.4 L1268.3 578.2 L1268.4 577.2 L1268.6 575.3 L1268.8 575.0 L1268.8 577.1 L1268.9 577.4 L1269.0 577.2 L1269.0 579.7 L1269.1 580.3 L1269.2 580.2 L1269.2 581.9 L1269.3 581.7 L1269.4 582.4 L1269.4 584.2 L1269.5 583.5 L1269.6 584.4 L1269.7 585.4 L1269.7 586.7 L1269.8 586.5 L1269.9 586.5 L1269.9 587.8 L1270.0 590.0 L1270.1 587.4 L1270.3 587.4 L1270.4 586.9 L1270.5 586.5 L1270.7 585.9 L1270.8 584.0 L1270.9 583.3 L1271.1 583.1 L1271.2 583.7 L1271.3 582.8 L1271.5 581.7 L1271.6 582.7 L1271.7 580.5 L1271.9 578.8 L1271.9 581.4 L1271.9 582.1 L1271.9 581.0 L1271.9 581.8 L1272.0 583.4 L1272.0 582.7 L1272.0 585.3 L1272.0 585.2 L1272.0 586.4 L1272.0 586.8 L1272.1 588.0 L1272.1 587.8 L1272.1 590.4 L1272.1 589.9 L1272.1 592.3 L1272.1 592.2 L1272.2 591.8 L1272.2 593.6 L1272.2 594.3 L1272.2 594.6 L1272.2 594.2 L1272.2 595.3 L1272.2 596.3 L1272.3 596.6 L1272.3 596.7 L1272.3 597.3 L1272.3 597.9 L1272.3 600.7 L1272.3 602.5 L1272.4 602.5 L1272.4 602.3 L1272.4 603.4 L1272.4 605.0 L1272.4 605.2 L1272.4 606.1 L1272.5 608.2 L1272.5 608.4 L1272.5 608.7 L1272.5 610.0 L1272.7 611.7 L1272.8 612.0 L1273.0 612.6 L1273.2 612.4 L1273.3 614.6 L1273.5 615.4 L1273.7 615.7 L1273.8 616.4 L1274.0 617.5 L1274.0 617.8 L1274.1 616.4 L1274.1 615.2 L1274.2 614.4 L1274.2 613.5 L1274.3 613.6 L1274.3 612.0 L1274.4 610.7 L1274.4 609.2 L1274.5 608.9 L1274.5 606.9 L1274.6 606.2 L1274.6 604.3 L1274.7 604.4 L1274.7 604.0 L1274.8 603.5 L1274.8 602.4 L1274.9 601.2 L1274.9 601.2 L1275.0 598.4 L1275.0 597.6 L1275.0 599.5 L1275.1 599.0 L1275.1 599.6 L1275.2 600.0 L1275.2 598.2 L1275.3 595.7 L1275.3 595.2 L1275.4 593.3 L1275.4 592.8 L1275.5 592.4 L1275.5 593.1 L1275.6 591.5 L1275.6 590.0 L1275.8 591.0 L1276.0 591.5 L1276.1 594.7 L1276.3 594.5 L1276.5 595.7 L1276.6 595.0 L1276.8 595.4 L1277.0 599.1 L1277.1 598.0 L1277.3 599.2 L1277.5 600.2 L1277.6 601.1 L1277.8 602.5 L1278.0 602.3 L1278.1 602.5 L1278.2 603.6 L1278.3 602.3 L1278.5 600.7 L1278.6 600.2 L1278.7 599.1 L1278.8 597.9 L1278.9 597.5 L1279.0 595.6 L1279.1 595.4 L1279.3 594.2 L1279.4 591.0 L1279.5 592.3 L1279.6 591.6 L1279.7 590.7 L1279.8 589.8 L1279.9 587.7 L1280.1 586.4 L1280.2 587.1 L1280.3 586.3 L1280.4 587.0 L1280.5 587.9 L1280.6 585.0 L1280.7 586.6 L1280.8 585.5 L1280.8 588.1 L1280.9 589.2 L1281.0 591.3 L1281.0 591.5 L1281.1 592.0 L1281.2 591.5 L1281.2 594.0 L1281.3 594.3 L1281.4 596.1 L1281.5 596.2 L1281.5 595.9 L1281.6 597.4 L1281.7 598.9 L1281.7 596.8 L1281.8 597.8 L1281.9 600.0 L1282.5 598.9 L1282.5 597.3 L1283.1 597.5 L1283.6 598.0 L1283.8 596.2 L1283.7 597.5 L1283.6 597.3 L1283.5 598.9 L1283.4 600.5 L1283.3 598.4 L1283.2 600.0 L1283.1 599.7 L1283.0 602.4 L1282.9 601.3 L1282.9 604.2 L1282.8 604.7 L1282.7 605.5 L1282.6 606.6 L1282.5 607.5 L1282.6 607.3 L1282.8 608.4 L1282.9 612.7 L1283.0 612.5 L1283.1 611.8 L1283.3 614.8 L1283.4 615.6 L1283.5 615.6 L1283.6 616.2 L1283.8 615.1 L1283.9 615.7 L1284.0 615.9 L1284.1 618.9 L1284.3 620.6 L1284.4 620.0 L1284.5 620.1 L1284.6 617.7 L1284.8 615.5 L1284.9 614.8 L1285.0 613.6 L1285.1 613.7 L1285.3 611.7 L1285.4 612.0 L1285.5 611.6 L1285.6 610.3 L1285.8 610.1 L1285.9 608.6 L1286.0 607.9 L1286.1 606.7 L1286.2 607.5 L1286.3 609.2 L1286.4 608.3 L1286.5 609.6 L1286.6 609.6 L1286.7 610.2 L1286.8 612.4 L1286.9 613.0 L1287.0 613.7 L1287.1 612.4 L1287.2 613.5 L1287.3 617.1 L1287.4 618.5 L1287.5 615.7 L1287.5 615.9 L1287.6 617.6 L1287.7 617.7 L1287.8 619.6 L1287.9 620.0 L1288.0 623.1 L1288.1 625.2 L1288.2 626.5 L1288.3 625.4 L1288.4 626.4 L1288.5 628.3 L1288.6 627.6 L1288.7 628.4 L1288.8 629.4 L1288.8 627.3 L1288.9 627.1 L1289.0 627.9 L1289.1 626.5 L1289.2 627.7 L1289.3 625.6 L1289.4 625.1 L1289.5 625.2 L1289.6 622.4 L1289.7 622.3 L1289.8 619.5 L1289.9 618.4 L1290.0 617.5 L1290.1 618.6 L1290.2 616.3 L1290.3 617.0 L1290.4 614.5 L1290.5 614.1 L1290.6 613.8 L1290.7 615.1 L1290.8 615.6 L1291.0 618.4 L1291.1 618.4 L1291.2 617.2 L1291.3 618.0 L1291.4 620.0 L1291.5 618.7 L1291.6 617.8 L1291.8 621.8 L1291.9 621.3 L1292.0 623.6 L1292.1 624.7 L1292.2 624.5 L1292.3 624.6 L1292.4 626.3 L1292.6 626.6 L1292.7 628.5 L1292.8 629.3 L1292.9 629.7 L1293.0 632.2 L1293.1 631.2 L1293.2 631.4 L1293.3 628.8 L1293.3 627.8 L1293.4 626.8 L1293.5 628.0 L1293.5 627.5 L1293.6 625.5 L1293.7 623.9 L1293.8 623.4 L1293.8 622.7 L1293.9 623.9 L1294.0 621.7 L1294.0 619.8 L1294.1 618.8 L1294.2 617.8 L1294.2 618.3 L1294.3 617.3 L1294.4 616.2 L1294.8 615.1 L1295.1 614.2 L1295.6 613.5 L1296.2 614.6 L1296.5 612.5 L1296.6 614.1 L1296.6 613.6 L1296.7 616.5 L1296.8 617.0 L1296.8 616.0 L1296.9 616.6 L1297.0 617.2 L1297.1 617.2 L1297.1 618.8 L1297.2 619.9 L1297.3 622.3 L1297.3 622.4 L1297.4 621.2 L1297.5 623.9 L1297.5 625.7 L1297.6 625.2 L1297.7 627.4 L1297.7 627.7 L1297.8 627.1 L1297.9 628.8 L1297.9 629.7 L1298.0 629.8 L1298.1 631.2 L1298.2 631.1 L1298.2 632.1 L1298.3 633.3 L1298.4 634.7 L1298.4 635.7 L1298.5 635.6 L1298.6 633.0 L1298.8 632.5 L1298.9 632.7 L1299.0 632.8 L1299.2 630.9 L1299.3 631.4 L1299.4 629.4 L1299.5 630.0 L1299.7 629.1 L1299.8 628.2 L1299.9 625.8 L1300.1 624.6 L1300.2 624.6 L1300.3 624.2 L1300.5 623.3 L1300.6 622.3 L1300.7 623.0 L1300.9 621.1 L1301.0 620.9 L1301.1 620.7 L1301.2 618.8 L1301.4 620.7 L1301.6 621.2 L1301.8 620.4 L1302.0 623.2 L1302.1 624.9 L1302.3 624.0 L1302.5 623.7 L1302.7 623.8 L1302.9 623.7 L1303.0 625.3 L1303.2 625.7 L1303.4 627.3 L1303.6 629.0 L1303.8 630.0 L1303.8 630.0 L1303.9 629.9 L1304.0 632.3 L1304.0 634.1 L1304.1 634.4 L1304.2 634.2 L1304.2 635.8 L1304.3 636.9 L1304.4 638.5 L1304.4 639.1 L1304.5 639.0 L1304.6 639.1 L1304.7 640.4 L1304.7 639.9 L1304.8 640.6 L1304.9 643.1 L1304.9 644.8 L1305.0 645.0 L1305.7 646.7 L1306.1 648.5 L1306.9 647.5 L1307.1 647.9 L1307.3 647.4 L1307.5 645.0 L1307.7 646.1 L1307.9 645.7 L1308.1 642.7 L1308.2 641.0 L1308.4 641.2 L1308.6 640.6 L1308.8 640.6 L1309.0 639.7 L1309.2 638.3 L1309.4 636.7 L1309.6 636.3 L1309.8 635.9 L1310.0 634.4 L1310.9 634.1 L1311.9 634.4 L1312.7 635.9 L1313.7 636.0 L1314.4 635.0 L1314.5 636.3 L1314.7 635.3 L1315.3 636.3 L1315.4 637.4 L1315.3 637.6 L1315.8 639.0 L1316.0 640.6 L1316.1 639.4 L1316.2 638.2 L1316.4 638.9 L1316.5 638.6 L1316.6 635.5 L1316.8 635.4 L1316.9 632.2 L1317.0 633.9 L1317.1 633.7 L1317.2 632.0 L1317.4 630.0 L1317.5 630.6 L1318.3 630.1 L1319.2 631.8 L1319.7 631.0 L1320.6 633.1 L1320.9 631.9 L1320.8 633.5 L1321.2 635.3 L1321.7 635.3 L1321.9 635.1 L1322.1 636.3 L1322.2 638.3 L1322.5 640.0 L1323.2 639.5 L1323.9 639.5 L1325.0 640.6 L1324.9 640.4 L1324.8 642.1 L1324.7 643.5 L1324.5 643.2 L1324.4 644.1 L1324.3 645.1 L1324.2 646.2 L1324.1 646.5 L1324.0 647.6 L1323.9 649.0 L1323.8 650.0 L1323.9 650.9 L1324.3 651.2 L1324.4 652.5 L1324.8 653.0 L1325.0 651.9 L1325.5 653.9 L1325.9 655.0 L1325.9 653.9 L1326.4 655.9 L1326.8 659.0 L1326.9 658.8 L1327.1 657.4 L1327.4 654.8 L1327.6 654.7 L1327.8 655.2 L1328.4 654.6 L1328.5 653.8 L1328.7 654.3 L1328.9 656.2 L1329.0 658.3 L1329.2 658.2 L1329.4 658.3 L1329.6 659.4 L1329.8 660.0 L1329.7 660.4 L1329.7 662.0 L1329.7 663.7 L1329.7 663.7 L1329.7 665.1 L1329.6 665.4 L1329.6 668.1 L1329.6 668.6 L1329.6 670.2 L1329.6 670.7 L1329.6 669.9 L1329.5 669.9 L1329.5 671.3 L1329.5 670.9 L1329.5 673.3 L1329.5 673.6 L1329.5 676.4 L1329.4 675.5 L1329.4 674.9 L1329.4 677.1 L1329.4 677.5 L1329.4 678.1 L1329.4 677.7 L1329.7 678.4 L1329.9 678.3 L1330.1 681.2 L1330.7 682.7 L1330.9 680.6 L1331.0 684.2 L1331.2 685.0 L1331.4 686.3 L1331.5 687.9 L1331.6 686.7 L1331.7 686.6 L1331.8 688.8 L1331.9 689.2 L1332.0 691.8 L1332.1 692.5 L1332.2 692.4 L1332.3 692.0 L1332.4 693.9 L1332.5 695.0 L1332.6 692.3 L1332.8 690.9 L1332.9 689.7 L1333.0 691.7 L1333.1 692.6 L1333.3 690.8 L1333.4 689.3 L1333.5 689.1 L1333.6 689.2 L1333.8 686.9 L1333.9 688.2 L1334.0 686.2 L1334.1 686.0 L1334.3 682.1 L1334.4 682.5 L1334.5 680.9 L1334.6 679.7 L1334.6 681.4 L1334.7 679.8 L1334.8 677.5 L1334.9 679.1 L1335.0 677.0 L1335.1 676.2 L1335.2 674.1 L1335.3 674.4 L1335.4 673.8 L1335.4 672.7 L1335.5 671.5 L1335.6 671.2 L1336.1 671.1 L1336.8 671.5 L1337.1 673.6 L1337.6 672.9 L1338.1 675.0 L1338.2 677.4 L1338.4 677.5 L1338.5 677.8 L1338.6 678.4 L1338.7 679.6 L1338.9 680.3 L1339.0 681.2 L1339.1 681.5 L1339.6 681.3 L1340.0 679.7 L1340.2 678.1 L1340.4 675.8 L1340.5 673.3 L1340.8 675.0 L1340.8 672.5 L1341.2 674.4 L1341.3 672.5 L1341.3 675.5 L1341.3 676.2 L1341.3 677.7 L1341.4 678.0 L1341.4 679.2 L1341.4 679.6 L1341.4 680.7 L1341.5 681.6 L1341.5 681.8 L1341.5 683.4 L1341.5 684.1 L1341.5 684.0 L1341.6 684.2 L1341.6 686.2 L1341.6 688.6 L1341.6 687.7 L1341.7 688.4 L1341.7 690.0 L1341.7 691.9 L1341.7 693.0 L1341.7 692.1 L1341.8 693.2 L1341.8 695.0 L1341.8 695.7 L1341.8 696.0 L1341.9 695.6 L1341.9 697.5 L1342.1 697.9 L1342.3 698.8 L1342.5 699.8 L1342.7 702.2 L1342.9 703.7 L1343.1 702.5 L1343.1 703.8 L1343.1 704.7 L1343.1 705.0 L1343.0 705.9 L1343.0 708.4 L1343.0 709.4 L1343.0 709.5 L1343.0 709.2 L1342.9 709.9 L1342.9 711.1 L1342.9 711.3 L1342.9 713.4 L1342.9 713.9 L1342.8 713.3 L1342.8 716.5 L1342.8 713.8 L1342.8 715.2 L1342.8 717.5 L1343.1 717.3 L1344.0 718.3 L1344.4 720.0 L1344.3 719.9 L1344.3 721.4 L1344.3 722.5 L1344.3 724.3 L1344.2 724.7 L1344.2 724.1 L1344.2 724.8 L1344.1 726.7 L1344.1 728.1 L1344.1 727.6 L1344.0 729.9 L1344.0 730.0 L1344.1 731.5 L1344.5 730.5 L1344.7 732.2 L1345.1 732.7 L1345.3 733.8 L1345.5 734.6 L1345.5 733.5 L1346.0 734.6 L1346.2 736.9 L1346.3 734.5 L1346.4 735.8 L1346.5 734.5 L1346.6 732.5 L1346.7 733.1 L1346.8 733.4 L1346.9 731.5 L1347.0 729.2 L1347.1 728.7 L1347.1 725.6 L1347.2 725.9 L1347.3 727.3 L1347.4 726.5 L1347.5 725.0 L1347.6 723.8 L1347.6 723.8 L1347.7 722.3 L1347.7 722.8 L1347.8 721.2 L1347.8 722.2 L1347.9 720.2 L1347.9 719.1 L1348.0 717.0 L1348.0 715.1 L1348.1 715.2 L1348.1 715.0 L1348.2 714.2 L1348.3 712.4 L1348.4 712.5 L1348.5 711.2 L1348.5 710.0 L1348.6 709.4 L1348.7 709.2 L1348.8 709.1 L1348.9 709.2 L1349.0 708.1 L1349.0 705.9 L1349.1 704.4 L1349.2 704.2 L1349.3 702.1 L1349.4 702.5 L1349.9 701.0 L1350.6 701.2 L1350.6 699.5 L1350.6 699.6 L1350.6 698.9 L1350.6 698.3 L1350.6 696.9 L1350.6 695.4 L1350.6 694.4 L1350.6 693.1 L1350.6 691.1 L1350.6 692.6 L1350.6 689.7 L1350.6 690.9 L1350.6 690.1 L1350.6 691.1 L1350.6 689.6 L1350.6 688.1 L1350.9 687.6 L1351.3 687.5 L1351.5 688.0 L1351.7 687.5 L1351.9 684.9 L1352.3 684.3 L1352.5 682.5 L1353.1 682.5 L1353.1 684.2 L1353.6 687.4 L1354.3 687.5 L1354.3 687.1 L1355.0 687.5 L1355.2 687.4 L1355.2 686.1 L1355.6 685.0 L1355.8 685.5 L1356.1 683.2 L1356.3 681.2 L1356.6 681.8 L1356.9 681.2 L1357.0 679.6 L1357.1 679.1 L1357.2 677.0 L1357.3 677.7 L1357.4 676.7 L1357.6 676.1 L1357.7 674.7 L1357.8 675.4 L1357.9 674.5 L1358.0 674.5 L1358.1 672.5 L1358.4 671.6 L1359.1 670.5 L1359.1 671.9 L1359.8 669.4 L1360.1 672.1 L1360.4 671.1 L1360.9 671.6 L1360.8 672.3 L1361.5 673.6 L1361.5 672.9 L1361.9 675.0 L1361.9 674.1 L1362.0 674.9 L1362.1 677.8 L1362.2 676.5 L1362.2 677.2 L1362.3 679.3 L1362.4 681.2 L1362.4 681.1 L1362.5 682.5 L1362.7 679.3 L1362.8 677.7 L1363.0 678.5 L1363.1 679.4 L1363.3 679.4 L1363.4 677.4 L1363.6 677.9 L1363.8 676.4 L1363.9 676.0 L1364.1 674.6 L1364.2 675.2 L1364.4 672.5 L1364.5 673.9 L1364.7 672.4 L1364.8 673.6 L1364.9 675.2 L1365.1 676.6 L1365.2 676.7 L1365.3 677.6 L1365.5 677.6 L1365.6 680.0 L1365.6 679.6 L1365.6 681.0 L1365.6 682.3 L1365.6 684.8 L1365.6 683.0 L1365.6 684.8 L1365.6 686.1 L1365.6 685.6 L1365.6 686.8 L1365.6 687.8 L1365.6 687.8 L1365.6 689.8 L1365.6 692.5 L1365.6 693.2 L1365.6 694.1 L1365.6 695.2 L1365.6 695.0 L1365.6 696.3 L1365.6 695.7 L1365.6 696.6 L1365.6 698.0 L1365.6 699.8 L1365.6 699.5 L1365.6 699.7 L1365.6 700.9 L1365.6 701.4 L1365.6 702.3 L1365.6 703.8 L1365.6 703.4 L1365.6 705.2 L1365.6 706.1 L1365.6 706.3 L1365.6 706.9 L1365.8 705.0 L1366.1 704.0 L1366.6 701.7 L1366.7 702.7 L1367.1 703.2 L1367.2 702.6 L1367.5 701.2 L1367.5 699.7 L1367.6 700.1 L1367.6 700.5 L1367.7 699.4 L1367.7 697.9 L1367.8 696.4 L1367.8 693.9 L1367.9 694.7 L1367.9 693.9 L1367.9 694.4 L1368.0 692.4 L1368.0 692.6 L1368.1 690.7 L1368.1 690.0 L1369.2 690.5 L1369.7 689.0 L1370.6 690.0 L1370.6 685.1 L1370.6 684.9 L1370.6 685.6 L1370.6 686.1 L1370.6 684.7 L1370.6 683.9 L1370.6 682.8 L1370.6 681.6 L1370.6 681.1 L1370.6 681.2 L1371.2 680.7 L1371.3 679.3 L1371.8 678.0 L1372.0 678.6 L1372.2 678.2 L1372.3 675.9 L1372.9 676.1 L1373.1 675.0 L1373.3 673.2 L1373.5 672.2 L1373.7 673.5 L1373.8 671.5 L1374.0 670.6 L1374.2 671.7 L1374.4 669.4 L1374.8 671.1 L1375.1 672.4 L1375.7 671.5 L1375.8 673.8 L1376.2 673.8 L1376.3 674.3 L1376.4 674.9 L1376.4 676.0 L1376.5 678.4 L1376.5 677.5 L1376.6 677.6 L1376.6 678.2 L1376.7 679.7 L1376.7 680.6 L1376.8 681.1 L1376.8 682.8 L1376.9 683.8 L1377.0 683.8 L1377.2 684.3 L1377.3 683.9 L1377.4 684.4 L1377.6 685.9 L1377.7 687.8 L1377.8 690.9 L1378.0 691.4 L1378.1 691.2 L1378.2 689.9 L1378.5 689.5 L1378.8 690.8 L1379.3 689.2 L1379.5 686.5 L1380.0 686.2 L1380.1 687.0 L1380.2 687.0 L1380.4 687.0 L1380.5 689.0 L1380.6 690.0 L1380.7 690.8 L1380.8 692.2 L1380.9 692.8 L1381.1 694.3 L1381.2 696.6 L1381.3 696.9 L1381.4 696.8 L1381.5 699.0 L1381.6 699.7 L1381.8 698.1 L1381.9 699.4 L1382.0 699.6 L1382.1 698.6 L1382.2 698.3 L1382.3 695.8 L1382.5 694.2 L1382.6 693.2 L1382.7 693.4 L1382.8 691.6 L1382.9 690.6 L1383.0 691.2 L1383.2 689.8 L1383.3 689.3 L1383.4 687.7 L1383.5 685.6 L1383.6 685.6 L1383.8 686.2 L1384.2 686.0 L1384.8 687.2 L1385.3 687.6 L1385.5 687.9 L1386.2 690.0 L1387.0 688.1 L1387.5 688.4 L1388.1 687.5 L1388.1 687.8 L1388.1 686.4 L1388.1 684.8 L1388.1 685.6 L1388.1 683.8 L1388.1 683.1 L1388.1 681.4 L1388.1 680.4 L1388.1 678.6 L1388.1 678.8 L1388.5 676.9 L1389.2 675.2 L1389.6 674.3 L1389.7 674.9 L1390.5 675.3 L1390.6 674.0 L1391.2 673.8 L1391.4 675.3 L1391.5 676.8 L1391.7 677.1 L1391.8 678.7 L1391.9 679.4 L1392.1 681.1 L1392.2 680.9 L1392.4 679.7 L1392.5 681.2 L1392.6 680.2 L1392.6 679.7 L1392.7 678.4 L1392.7 677.5 L1392.8 676.6 L1392.9 674.7 L1392.9 676.2 L1393.0 674.3 L1393.0 672.5 L1393.1 670.6 L1393.2 669.9 L1393.2 669.9 L1393.3 671.0 L1393.3 670.5 L1393.4 668.6 L1393.5 666.6 L1393.5 665.2 L1393.6 665.0 L1393.6 665.5 L1393.7 664.2 L1393.8 663.8 L1394.4 665.7 L1395.1 667.7 L1395.3 668.3 L1396.0 666.2 L1396.0 668.6 L1396.0 667.6 L1396.0 668.6 L1396.0 668.1 L1396.0 670.6 L1396.0 671.3 L1396.0 674.7 L1396.0 674.6 L1396.0 675.5 L1396.0 675.9 L1396.0 675.5 L1396.0 676.1 L1396.0 676.1 L1396.0 676.3 L1396.0 678.3 L1396.0 679.2 L1396.0 681.9 L1396.0 684.2 L1396.0 682.9 L1396.0 683.4 L1396.0 684.1 L1396.0 683.1 L1396.0 685.0 L1396.0 683.4 L1396.0 684.5 L1396.0 687.5 L1396.4 688.5 L1397.0 689.2 L1397.5 690.0 L1397.6 691.7 L1397.6 692.6 L1397.7 693.0 L1397.8 692.8 L1397.8 694.3 L1397.9 696.2 L1398.0 697.6 L1398.0 696.8 L1398.1 698.4 L1398.2 699.5 L1398.2 700.0 L1398.3 702.3 L1398.4 701.2 L1398.4 702.3 L1398.5 703.4 L1398.6 703.2 L1398.6 701.4 L1398.7 704.1 L1398.8 705.6 L1399.7 704.2 L1400.3 705.0 L1401.2 703.8 L1401.5 702.6 L1401.7 701.1 L1401.9 701.3 L1402.1 699.3 L1402.3 698.7 L1402.5 697.0 L1402.7 696.5 L1402.9 695.3 L1403.1 696.2 L1403.2 694.9 L1403.3 695.1 L1403.3 694.0 L1403.4 693.3 L1403.5 692.5 L1403.6 690.4 L1403.6 688.4 L1403.7 688.7 L1403.8 688.8 L1403.9 688.3 L1403.9 687.4 L1404.0 686.3 L1404.1 686.4 L1404.2 684.4 L1404.2 685.8 L1404.3 683.9 L1404.4 682.5 L1404.4 681.2 L1404.5 681.1 L1404.5 678.5 L1404.5 679.0 L1404.6 676.6 L1404.6 676.8 L1404.6 677.9 L1404.7 676.4 L1404.7 673.7 L1404.7 673.2 L1404.8 671.4 L1404.8 671.3 L1404.9 668.8 L1404.9 670.2 L1404.9 670.8 L1405.0 669.5 L1405.0 668.1 L1406.0 668.6 L1406.9 669.4 L1407.0 669.9 L1407.1 671.5 L1407.2 671.8 L1407.3 672.8 L1407.5 672.8 L1407.6 673.7 L1407.7 674.0 L1407.8 673.8 L1407.9 674.5 L1408.0 678.1 L1408.2 679.1 L1408.3 678.9 L1408.4 679.7 L1408.5 680.2 L1408.6 682.5 L1408.8 682.5 L1408.8 682.1 L1408.8 680.5 L1408.9 680.4 L1408.9 679.7 L1409.0 678.0 L1409.0 676.5 L1409.0 676.2 L1409.1 674.0 L1409.1 673.0 L1409.2 673.9 L1409.2 674.0 L1409.3 674.0 L1409.3 672.1 L1409.3 670.5 L1409.4 670.0 L1409.4 670.3 L1409.5 670.8 L1409.6 673.2 L1409.7 673.4 L1409.7 675.5 L1409.8 675.0 L1409.9 676.1 L1409.9 678.3 L1410.0 677.6 L1410.1 677.6 L1410.1 677.9 L1410.2 677.5 L1410.3 678.8 L1410.3 679.6 L1410.4 683.2 L1410.5 683.0 L1410.6 681.6 L1410.6 684.4 L1410.7 683.3 L1410.9 683.6 L1411.0 682.4 L1411.1 681.7 L1411.2 681.4 L1411.4 679.7 L1411.5 678.9 L1411.6 678.2 L1411.7 679.0 L1411.9 678.9 L1412.0 677.3 L1412.1 674.5 L1412.2 674.7 L1412.4 673.6 L1412.5 672.5 L1412.6 673.0 L1412.7 671.7 L1412.8 670.8 L1412.9 670.3 L1412.9 668.4 L1413.0 667.0 L1413.1 668.7 L1413.2 666.3 L1413.3 666.3 L1413.4 665.7 L1413.5 665.2 L1413.6 665.1 L1413.7 662.1 L1413.8 661.2 L1414.2 661.6 L1414.8 658.5 L1415.6 659.5 L1416.2 658.8 L1416.3 659.0 L1416.3 656.7 L1416.4 657.2 L1416.4 656.2 L1416.5 656.4 L1416.5 654.4 L1416.5 653.6 L1416.6 652.6 L1416.6 650.9 L1416.7 650.7 L1416.7 648.2 L1416.8 646.9 L1416.8 647.2 L1416.8 646.8 L1416.9 646.2 L1417.5 647.2 L1417.9 646.8 L1418.3 648.7 L1418.9 650.0 L1419.3 651.5 L1420.0 650.0 L1420.2 650.7 L1420.4 648.5 L1420.6 646.9 L1420.9 648.2 L1421.3 649.4 L1421.6 652.1 L1421.9 652.3 L1421.8 651.4 L1422.2 652.6 L1422.8 653.7 L1423.0 653.5 L1423.1 654.4 L1423.3 654.0 L1423.5 652.8 L1423.7 650.3 L1423.9 651.0 L1424.1 650.0 L1424.2 650.0 L1424.4 650.2 L1424.6 648.9 L1424.8 647.0 L1425.0 646.2 L1425.1 645.2 L1425.1 644.4 L1425.2 645.0 L1425.2 644.5 L1425.3 644.6 L1425.3 643.5 L1425.4 641.0 L1425.4 640.8 L1425.5 640.4 L1425.5 638.8 L1425.6 638.1 L1425.6 636.2 L1425.7 637.3 L1426.0 636.7 L1426.3 637.6 L1426.6 636.6 L1426.8 638.7 L1426.9 641.1 L1427.0 640.9 L1427.5 642.5 L1427.6 640.4 L1427.8 640.8 L1427.9 640.6 L1428.0 640.2 L1428.1 639.9 L1428.2 637.2 L1428.4 635.6 L1428.5 635.6 L1428.8 636.9 L1428.7 636.7 L1429.2 639.3 L1429.5 638.0 L1429.4 638.1 L1429.8 639.2 L1430.2 640.1 L1430.2 639.7 L1430.2 642.4 L1430.6 643.8 L1431.4 643.3 L1432.2 642.1 L1433.1 644.4 L1433.3 643.5 L1433.5 646.6 L1433.7 647.4 L1433.9 648.7 L1434.1 650.9 L1434.2 650.2 L1434.4 650.4 L1434.6 649.4 L1434.8 650.6 L1435.0 652.5 L1435.1 653.1 L1435.2 656.4 L1435.3 656.9 L1435.4 657.1 L1435.5 656.1 L1435.6 656.3 L1435.7 655.7 L1435.8 656.2 L1435.9 658.2 L1436.0 660.0 L1436.1 660.2 L1436.2 661.3 L1436.2 663.1 L1436.4 660.9 L1436.6 661.3 L1436.8 661.2 L1437.0 659.6 L1437.1 658.5 L1437.3 656.7 L1437.5 657.5 L1437.5 655.3 L1437.5 657.2 L1437.5 655.8 L1437.5 655.5 L1437.5 654.8 L1437.5 654.9 L1437.5 652.8 L1437.5 650.7 L1437.5 651.0 L1437.5 649.4 L1438.2 651.1 L1438.8 649.5 L1439.6 649.5 L1440.6 650.6 L1440.8 651.9 L1441.2 650.8 L1441.7 650.6 L1442.4 653.4 L1442.5 655.0 L1442.5 655.0 L1441.2 695.0 L1441.5 695.6 L1442.3 695.4 L1443.0 695.4 L1443.2 693.2 L1443.8 691.0 L1443.7 694.7 L1443.7 693.7 L1443.7 693.8 L1443.7 696.2 L1443.7 696.8 L1443.7 696.5 L1443.7 695.7 L1443.7 697.9 L1443.7 696.5 L1443.7 697.0 L1443.7 697.6 L1443.7 699.7 L1443.6 701.3 L1443.6 702.8 L1443.6 703.9 L1443.6 703.8 L1443.6 706.0 L1443.6 705.2 L1443.6 705.3 L1443.6 706.1 L1443.6 707.8 L1443.6 708.6 L1443.6 710.6 L1443.5 708.7 L1443.5 710.9 L1443.5 711.5 L1443.5 713.4 L1443.5 713.5 L1443.5 712.8 L1443.5 715.0 L1443.6 716.6 L1443.6 717.7 L1443.7 716.7 L1443.8 717.7 L1443.9 719.2 L1443.9 720.3 L1444.0 721.6 L1444.1 722.5 L1444.1 724.1 L1444.2 723.9 L1444.3 725.0 L1444.4 726.1 L1444.4 725.7 L1444.5 726.6 L1444.6 727.3 L1444.6 727.8 L1444.7 728.6 L1444.8 729.3 L1444.9 730.1 L1444.9 729.7 L1445.0 732.0 L1445.0 732.2 L1445.0 732.6 L1445.0 733.6 L1445.0 736.2 L1445.0 734.3 L1445.0 736.7 L1445.0 735.5 L1445.0 738.1 L1445.0 738.9 L1445.0 738.9 L1445.0 739.9 L1445.0 741.3 L1445.0 741.7 L1445.0 743.0 L1445.0 745.0 L1445.0 742.5 L1445.0 743.5 L1445.0 745.2 L1445.0 746.6 L1445.0 746.2 L1445.0 749.1 L1445.0 750.9 L1445.0 752.0 L1445.0 750.7 L1445.0 750.7 L1445.0 751.5 L1445.0 754.2 L1445.0 757.4 L1445.0 756.4 L1445.0 756.0 L1445.0 756.6 L1445.0 756.7 L1445.0 756.7 L1445.0 757.7 L1445.0 757.9 L1445.0 758.5 L1445.0 762.0 L1445.0 762.2 L1445.1 762.8 L1445.1 764.5 L1445.2 766.3 L1445.2 767.4 L1445.3 768.0 L1445.3 769.1 L1445.3 769.0 L1445.4 770.5 L1445.4 768.4 L1445.5 771.2 L1445.5 770.6 L1445.6 771.6 L1445.6 771.7 L1445.6 773.8 L1445.7 775.2 L1445.7 774.7 L1445.8 774.9 L1445.8 776.3 L1445.9 777.7 L1445.9 779.3 L1445.9 780.6 L1446.0 781.4 L1446.0 782.8 L1446.1 783.2 L1446.1 783.1 L1446.2 783.6 L1446.2 784.4 L1446.2 784.1 L1446.3 784.6 L1446.3 785.2 L1446.4 787.1 L1446.4 786.6 L1446.5 789.1 L1446.5 790.0 L1446.5 790.0 L1446.6 788.7 L1446.6 789.4 L1446.7 787.4 L1446.7 786.9 L1446.8 788.6 L1446.8 787.0 L1446.8 785.7 L1446.9 784.6 L1446.9 783.4 L1447.0 781.9 L1447.0 779.9 L1447.1 779.9 L1447.1 778.2 L1447.1 776.1 L1447.2 776.9 L1447.2 776.1 L1447.3 776.0 L1447.3 775.4 L1447.3 775.2 L1447.4 773.9 L1447.4 771.3 L1447.5 769.5 L1447.5 770.2 L1447.6 770.1 L1447.6 770.3 L1447.6 768.2 L1447.7 767.2 L1447.7 766.8 L1447.8 766.6 L1447.8 765.8 L1447.9 764.5 L1447.9 763.4 L1447.9 760.9 L1448.0 760.8 L1448.0 761.3 L1448.1 760.5 L1448.1 758.5 L1448.2 758.8 L1448.2 758.0 L1448.0 802.0 L1448.1 801.1 L1448.1 798.8 L1448.2 797.8 L1448.3 798.1 L1448.4 796.8 L1448.4 795.6 L1448.5 796.5 L1448.6 795.1 L1448.6 793.2 L1448.7 792.2 L1448.8 790.9 L1448.9 791.1 L1448.9 790.1 L1449.0 788.7 L1449.1 789.5 L1449.1 788.8 L1449.2 785.4 L1449.3 785.8 L1449.4 786.2 L1449.4 784.4 L1449.5 785.0 L1449.7 784.8 L1449.8 786.6 L1450.0 786.6 L1450.2 788.3 L1450.3 788.4 L1450.5 790.0 L1450.6 789.1 L1450.6 787.0 L1450.7 786.8 L1450.8 787.4 L1450.8 787.2 L1450.9 785.6 L1451.0 783.9 L1451.0 783.2 L1451.1 782.7 L1451.2 780.3 L1451.2 780.3 L1451.3 778.5 L1451.4 779.0 L1451.4 778.0 L1451.5 777.1 L1451.6 777.6 L1451.6 776.8 L1451.7 775.0 L1451.7 776.1 L1451.7 773.8 L1451.7 772.1 L1451.7 771.7 L1451.7 771.9 L1451.7 771.8 L1451.7 770.4 L1451.7 768.1 L1451.7 768.1 L1451.7 767.6 L1451.7 766.0 L1451.7 763.5 L1451.7 761.7 L1451.7 763.2 L1451.7 762.4 L1451.7 761.9 L1451.7 761.7 L1451.7 762.7 L1451.7 760.8 L1451.7 759.1 L1451.7 757.9 L1451.7 758.0 L1451.7 756.6 L1451.7 755.7 L1451.7 755.9 L1451.7 754.0 L1451.7 753.0 L1451.7 752.3 L1451.7 751.7 L1451.7 748.7 L1451.7 747.6 L1451.8 747.3 L1451.8 745.2 L1451.8 746.6 L1451.8 745.0 L1451.8 745.6 L1451.8 745.2 L1451.8 743.4 L1451.8 742.3 L1451.8 742.0 L1451.9 741.8 L1451.9 741.9 L1451.9 739.6 L1451.9 738.6 L1451.9 739.2 L1451.9 738.5 L1451.9 736.9 L1451.9 735.6 L1452.0 734.4 L1452.0 735.4 L1452.0 733.2 L1452.0 733.5 L1452.0 732.0 L1452.7 731.4 L1453.7 730.3 L1454.2 730.0 L1454.2 729.8 L1454.2 731.9 L1454.2 729.1 L1454.2 728.6 L1454.2 726.4 L1454.2 724.3 L1454.2 722.0 L1454.2 720.1 L1454.2 721.6 L1454.2 721.5 L1454.3 720.1 L1454.3 718.7 L1454.3 719.7 L1454.3 719.2 L1454.3 718.8 L1454.3 717.8 L1454.3 717.1 L1454.3 718.9 L1454.3 714.8 L1454.3 714.4 L1454.3 712.3 L1454.3 711.7 L1454.3 709.6 L1454.3 708.4 L1454.3 708.9 L1454.3 708.9 L1454.3 708.7 L1454.3 707.1 L1454.3 707.2 L1454.3 705.7 L1454.3 704.3 L1454.4 703.9 L1454.4 705.2 L1454.4 704.1 L1454.4 700.4 L1454.4 700.2 L1454.4 699.0 L1454.4 696.7 L1454.4 697.1 L1454.4 697.0 L1454.4 695.8 L1454.4 696.0 L1454.4 693.3 L1454.4 693.4 L1454.3 693.7 L1454.3 692.9 L1454.3 692.0 L1454.3 689.7 L1454.3 688.2 L1454.2 688.7 L1454.2 687.3 L1454.2 686.9 L1454.2 687.9 L1454.1 687.6 L1454.1 686.5 L1454.1 684.2 L1454.1 683.8 L1454.1 681.2 L1454.0 680.5 L1454.0 678.7 L1454.0 679.3 L1454.0 679.0 L1454.0 679.6 L1453.9 678.2 L1453.9 677.7 L1453.9 675.2 L1453.9 676.0 L1453.9 675.9 L1453.8 676.1 L1453.8 675.4 L1453.8 673.3 L1453.8 673.0 L1453.8 671.0 L1454.1 672.3 L1454.2 674.6 L1454.7 674.6 L1454.9 674.2 L1455.4 675.1 L1455.5 674.4 L1455.7 674.4 L1455.9 676.3 L1456.2 678.0 L1456.2 676.0 L1456.2 677.4 L1456.2 677.2 L1456.2 673.4 L1456.1 672.7 L1456.1 671.3 L1456.1 670.0 L1456.1 671.1 L1456.1 669.0 L1456.0 667.0 L1456.0 667.3 L1456.0 666.2 L1456.0 666.2 L1456.0 666.2 L1455.9 665.8 L1455.9 664.0 L1455.9 663.3 L1455.9 663.1 L1455.9 660.3 L1455.8 660.5 L1455.8 659.9 L1455.8 661.2 L1455.8 660.1 L1455.8 657.5 L1455.7 656.5 L1455.7 655.8 L1455.7 654.9 L1455.7 653.4 L1455.7 654.5 L1455.6 653.5 L1455.6 651.5 L1455.6 653.0 L1455.6 651.2 L1455.6 649.8 L1455.5 648.9 L1455.5 648.0 L1455.5 648.3 L1455.5 649.3 L1455.5 646.0 L1455.4 645.8 L1455.4 645.2 L1455.4 645.3 L1455.4 644.2 L1455.4 644.8 L1455.3 642.2 L1455.3 640.6 L1455.3 640.0 L1455.3 638.5 L1455.3 638.5 L1455.2 638.0 L1455.2 638.5 L1455.2 636.8 L1455.2 636.1 L1455.2 634.1 L1455.1 634.1 L1455.1 634.1 L1455.1 632.7 L1455.1 629.4 L1455.1 630.8 L1455.0 629.6 L1455.0 627.7 L1455.0 626.7 L1455.0 626.9 L1455.0 626.8 L1454.9 626.7 L1454.9 625.2 L1454.9 623.8 L1454.9 622.4 L1454.9 622.0 L1454.8 620.6 L1454.8 619.6 L1454.8 618.4 L1454.8 616.7 L1454.8 616.0 L1454.8 617.5 L1454.9 615.9 L1455.0 616.0 L1455.1 615.5 L1455.2 613.2 L1455.3 611.6 L1455.4 613.4 L1455.5 614.4 L1455.6 613.4 L1455.7 611.2 L1455.8 608.6 L1455.9 607.8 L1456.0 607.0 L1456.1 607.4 L1456.2 606.3 L1456.3 604.4 L1456.4 602.9 L1456.5 603.3 L1456.6 603.6 L1456.7 603.4 L1456.8 602.0 L1456.9 601.6 L1457.0 600.0 L1457.0 599.8 L1457.0 600.7 L1457.1 600.7 L1457.1 602.0 L1457.1 602.8 L1457.1 603.2 L1457.1 605.3 L1457.2 606.1 L1457.2 608.3 L1457.2 608.8 L1457.2 608.9 L1457.2 608.7 L1457.3 609.2 L1457.3 611.0 L1457.3 612.0 L1457.3 614.5 L1457.3 615.2 L1457.4 614.7 L1457.4 614.4 L1457.4 615.1 L1457.4 617.3 L1457.4 619.1 L1457.5 616.3 L1457.5 617.3 L1457.5 620.0 L1457.5 621.5 L1457.5 620.9 L1457.6 622.0 L1457.6 623.4 L1457.6 624.3 L1457.6 624.6 L1457.7 625.3 L1457.7 625.7 L1457.7 626.7 L1457.7 627.4 L1457.7 630.2 L1457.8 631.6 L1457.8 630.6 L1457.8 631.3 L1457.8 633.8 L1457.8 633.7 L1457.9 634.4 L1457.9 636.5 L1457.9 635.7 L1457.9 637.1 L1458.0 637.3 L1458.0 638.7 L1458.0 638.9 L1458.0 640.4 L1458.0 641.6 L1458.1 643.7 L1458.1 642.6 L1458.1 644.0 L1458.1 644.9 L1458.1 643.7 L1458.2 646.1 L1458.2 648.6 L1458.2 650.1 L1458.2 648.8 L1458.3 648.2 L1458.3 650.7 L1458.3 650.0 L1458.4 651.6 L1458.5 651.9 L1458.6 651.5 L1458.7 653.8 L1458.8 652.0 L1458.9 653.0 L1459.0 655.0 L1459.2 654.3 L1459.3 656.9 L1459.4 657.8 L1459.5 658.8 L1459.6 659.6 L1459.7 660.6 L1459.8 661.0 L1459.9 660.9 L1460.0 663.0 L1460.0 622.5 L1460.1 622.5 L1460.1 624.9 L1460.2 626.0 L1460.2 626.6 L1460.3 626.3 L1460.4 627.3 L1460.4 629.8 L1460.5 629.8 L1460.6 630.2 L1460.6 630.0 L1460.7 633.3 L1460.7 633.2 L1460.8 634.4 L1460.9 632.7 L1460.9 634.5 L1461.0 635.7 L1461.0 635.5 L1461.1 636.5 L1461.2 637.3 L1461.2 639.2 L1461.3 640.2 L1461.3 640.3 L1461.4 640.7 L1461.5 643.5 L1461.5 644.2 L1461.6 644.5 L1461.7 645.2 L1461.7 646.0 L1461.8 646.6 L1461.8 646.9 L1461.9 647.5 L1462.5 580.0 L1462.5 580.6 L1462.6 578.8 L1462.6 577.1 L1462.6 575.6 L1462.7 575.2 L1462.7 574.3 L1462.7 573.6 L1462.8 573.1 L1462.8 572.5 L1462.8 572.4 L1462.9 571.1 L1462.9 569.7 L1462.9 569.0 L1462.9 567.7 L1463.0 567.6 L1463.0 565.8 L1463.0 564.2 L1463.1 565.8 L1463.1 562.7 L1463.1 561.5 L1463.2 562.0 L1463.2 561.2 L1463.2 561.5 L1463.3 558.1 L1463.3 558.2 L1463.3 559.7 L1463.4 559.2 L1463.4 557.5 L1463.4 557.9 L1463.5 556.5 L1463.5 557.1 L1463.5 554.6 L1463.6 553.7 L1463.6 552.8 L1463.6 552.0 L1463.7 553.0 L1463.7 552.7 L1463.7 551.8 L1463.8 548.8 L1463.9 549.8 L1464.1 548.2 L1464.2 546.8 L1464.4 546.4 L1464.6 545.0 L1464.8 545.2 L1464.9 543.7 L1465.1 541.6 L1465.2 540.5 L1465.4 541.2 L1465.6 540.9 L1465.8 539.8 L1465.9 537.1 L1466.1 536.7 L1466.2 537.0 L1466.2 580.0 L1466.9 578.5 L1468.0 581.2 L1468.0 579.8 L1467.9 582.1 L1467.9 584.9 L1467.9 585.7 L1467.9 587.0 L1467.8 587.9 L1467.8 587.9 L1467.8 588.9 L1467.7 590.6 L1467.7 590.2 L1467.7 590.5 L1467.6 589.8 L1467.6 589.2 L1467.6 590.3 L1467.6 592.9 L1467.5 594.3 L1467.5 595.3 L1467.5 597.4 L1467.4 595.8 L1467.4 598.3 L1467.4 598.9 L1467.3 600.2 L1467.3 602.0 L1467.3 601.2 L1467.3 600.9 L1467.2 602.4 L1467.2 603.1 L1467.2 603.4 L1467.1 604.3 L1467.1 604.6 L1467.1 605.9 L1467.0 606.6 L1467.0 609.3 L1467.0 608.6 L1467.0 610.1 L1466.9 610.8 L1466.9 611.2 L1467.0 612.3 L1467.1 609.8 L1467.3 608.5 L1467.4 609.5 L1467.5 607.5 L1467.6 606.2 L1467.7 605.1 L1467.9 603.6 L1468.0 604.5 L1468.1 605.0 L1468.2 603.4 L1468.3 601.4 L1468.4 599.4 L1468.6 599.8 L1468.7 598.6 L1468.8 598.6 L1468.9 595.3 L1469.0 595.0 L1469.2 595.6 L1469.3 595.4 L1469.4 594.4 L1469.4 592.4 L1469.3 594.7 L1469.3 596.1 L1469.3 597.2 L1469.2 597.8 L1469.2 598.5 L1469.2 599.7 L1469.1 601.2 L1469.1 598.7 L1469.1 600.7 L1469.0 603.1 L1469.0 603.8 L1469.0 606.0 L1468.9 605.4 L1468.9 608.3 L1468.9 609.3 L1468.8 608.9 L1468.8 612.2 L1468.8 613.1 L1468.7 614.2 L1468.7 612.3 L1468.6 612.6 L1468.6 613.7 L1468.6 615.3 L1468.5 615.6 L1468.5 614.7 L1468.5 617.0 L1468.4 617.3 L1468.4 618.5 L1468.4 618.7 L1468.3 619.4 L1468.3 618.8 L1468.3 620.9 L1468.2 621.1 L1468.2 620.5 L1468.2 622.6 L1468.1 623.7 L1468.1 625.7 L1468.1 627.1 L1468.0 626.2 L1468.0 627.5 L1468.2 626.2 L1468.3 625.6 L1468.5 625.0 L1468.6 623.2 L1468.8 622.9 L1468.9 623.3 L1469.1 623.5 L1469.2 623.5 L1469.4 622.4 L1469.5 618.3 L1469.7 617.6 L1469.8 616.7 L1470.0 613.4 L1470.1 615.6 L1470.3 615.9 L1470.4 614.9 L1470.6 613.8 L1470.6 615.1 L1470.6 616.2 L1470.5 616.4 L1470.5 618.5 L1470.5 620.5 L1470.5 621.1 L1470.4 620.3 L1470.4 621.0 L1470.4 622.5 L1470.4 623.4 L1470.4 622.9 L1470.3 624.5 L1470.3 625.6 L1470.3 626.4 L1470.3 626.2 L1470.3 626.9 L1470.2 625.6 L1470.2 627.1 L1470.2 627.9 L1470.2 628.9 L1470.2 629.8 L1470.1 630.6 L1470.1 631.8 L1470.1 632.9 L1470.1 633.1 L1470.0 634.1 L1470.0 635.0 L1470.0 636.2 L1470.1 637.3 L1470.2 638.4 L1470.2 638.7 L1470.3 638.6 L1470.4 638.1 L1470.5 638.5 L1470.6 640.7 L1470.7 641.0 L1470.8 644.1 L1470.8 644.5 L1470.9 644.8 L1471.0 645.5 L1471.1 645.9 L1471.2 646.4 L1471.2 647.7 L1471.3 647.2 L1471.4 648.9 L1471.5 650.6 L1471.6 649.1 L1471.6 647.7 L1471.7 648.4 L1471.8 647.9 L1471.8 647.9 L1471.9 645.9 L1472.0 643.8 L1472.0 642.3 L1472.1 640.6 L1472.2 639.0 L1472.2 641.2 L1472.3 640.1 L1472.4 639.8 L1472.4 638.6 L1472.5 637.9 L1472.6 638.8 L1472.6 635.8 L1472.7 634.4 L1472.8 634.4 L1472.8 633.0 L1472.9 633.4 L1473.0 634.0 L1473.0 633.6 L1473.1 632.8 L1473.2 631.2 L1473.2 631.0 L1473.3 628.8 L1473.4 626.8 L1473.4 626.1 L1473.5 625.5 L1473.6 626.2 L1473.6 624.1 L1473.7 624.7 L1473.8 623.0 L1473.8 623.6 L1473.9 623.2 L1474.0 622.9 L1474.0 624.7 L1474.1 624.7 L1474.2 626.7 L1474.2 628.0 L1474.3 628.7 L1474.4 628.0 L1474.4 629.2 L1474.5 631.2 L1474.6 630.6 L1474.6 633.0 L1474.7 634.0 L1474.8 634.5 L1474.8 635.8 L1474.9 637.4 L1475.0 637.9 L1475.1 637.9 L1475.1 639.7 L1475.2 639.7 L1475.3 641.0 L1475.3 642.8 L1475.4 644.5 L1475.5 646.1 L1475.5 646.9 L1475.6 645.0 L1475.6 645.9 L1475.7 644.2 L1475.7 643.2 L1475.7 642.6 L1475.8 644.4 L1475.8 642.8 L1475.8 640.0 L1475.8 640.4 L1475.9 637.2 L1475.9 637.5 L1475.9 635.1 L1476.0 633.4 L1476.0 632.7 L1476.0 632.2 L1476.1 630.5 L1476.1 631.1 L1476.1 630.4 L1476.2 631.1 L1476.2 628.8 L1476.2 626.3 L1476.2 627.5 L1476.3 627.8 L1476.3 628.6 L1476.4 630.6 L1476.4 628.8 L1476.5 629.1 L1476.5 631.0 L1476.5 634.3 L1476.6 633.4 L1476.6 632.6 L1476.7 633.8 L1476.7 636.7 L1476.8 639.0 L1476.8 637.7 L1476.8 638.1 L1476.9 637.4 L1476.9 638.2 L1477.0 639.0 L1477.0 641.1 L1477.1 643.4 L1477.1 646.4 L1477.1 645.8 L1477.2 646.9 L1477.2 647.3 L1477.3 647.7 L1477.3 650.1 L1477.4 650.7 L1477.4 652.2 L1477.4 652.2 L1477.5 653.0 L1477.5 653.5 L1477.6 653.5 L1477.6 653.3 L1477.7 653.7 L1477.7 655.0 L1477.8 653.9 L1477.8 652.8 L1477.9 651.9 L1477.9 650.6 L1478.0 651.1 L1478.0 650.0 L1478.1 649.1 L1478.2 648.1 L1478.2 648.8 L1478.3 647.0 L1478.3 647.5 L1478.4 645.3 L1478.4 646.0 L1478.5 645.1 L1478.6 643.2 L1478.6 642.7 L1478.7 642.7 L1478.7 640.3 L1478.8 639.3 L1478.8 638.8 L1478.9 637.8 L1479.0 636.7 L1479.0 636.0 L1479.1 635.6 L1479.1 635.5 L1479.2 635.8 L1479.2 633.8 L1479.3 635.6 L1479.4 633.1 L1479.4 633.3 L1479.5 631.2 L1479.5 628.4 L1479.6 627.3 L1479.6 626.5 L1479.7 627.0 L1479.8 625.6 L1479.8 624.8 L1479.9 625.6 L1480.0 626.9 L1480.1 628.8 L1480.2 630.0 L1480.3 631.5 L1480.4 631.7 L1480.4 632.1 L1480.5 634.1 L1480.6 636.1 L1480.7 636.3 L1480.8 636.5 L1480.9 635.9 L1481.0 638.9 L1481.0 639.3 L1481.1 640.0 L1481.2 638.6 L1481.3 640.3 L1481.4 643.4 L1481.5 643.0 L1481.6 643.1 L1481.6 645.1 L1481.7 645.0 L1481.8 646.3 L1481.9 648.4 L1482.0 646.9 L1482.1 646.7 L1482.2 648.4 L1482.2 649.2 L1482.3 649.9 L1482.4 650.4 L1482.5 651.2 L1482.5 650.5 L1482.5 650.0 L1482.6 648.5 L1482.6 647.5 L1482.6 647.1 L1482.6 645.2 L1482.7 645.2 L1482.7 642.3 L1482.7 643.1 L1482.7 642.4 L1482.8 640.6 L1482.8 641.7 L1482.8 639.6 L1482.8 641.1 L1482.8 639.0 L1482.9 639.3 L1482.9 637.9 L1482.9 638.4 L1482.9 636.5 L1483.0 636.3 L1483.0 634.5 L1483.0 633.0 L1483.0 632.3 L1483.6 634.0 L1483.7 635.7 L1483.7 636.0 L1484.1 635.1 L1484.4 637.5 L1484.4 638.4 L1484.7 639.5 L1485.0 639.5 L1485.1 640.8 L1485.2 643.1 L1485.6 642.5 L1485.7 643.7 L1485.8 643.0 L1485.8 642.0 L1485.9 639.1 L1486.0 639.3 L1486.1 637.0 L1486.1 636.8 L1486.2 634.1 L1486.3 633.1 L1486.4 632.4 L1486.4 632.8 L1486.5 632.9 L1486.6 632.5 L1486.7 631.7 L1486.7 630.1 L1486.8 629.9 L1486.9 628.8 L1487.0 628.0 L1487.0 628.7 L1487.1 630.0 L1487.1 633.4 L1487.2 634.0 L1487.3 633.8 L1487.3 634.0 L1487.4 634.6 L1487.5 636.4 L1487.5 637.4 L1487.6 638.0 L1487.6 638.9 L1487.7 641.3 L1487.8 641.7 L1487.8 643.2 L1487.9 641.7 L1487.9 642.7 L1488.0 643.6 L1488.1 645.0 L1488.1 644.8 L1488.2 644.8 L1488.3 647.4 L1488.3 647.1 L1488.4 647.9 L1488.4 649.2 L1488.5 650.0 L1488.6 651.2 L1488.7 651.4 L1488.8 650.2 L1488.8 652.7 L1488.9 653.9 L1489.0 654.1 L1489.1 655.2 L1489.2 655.1 L1489.2 656.6 L1489.3 657.8 L1489.4 659.3 L1489.5 658.5 L1489.6 660.8 L1489.7 662.5 L1489.8 663.9 L1489.8 664.7 L1489.9 663.8 L1490.0 665.0 L1490.0 662.6 L1490.0 664.3 L1490.0 663.8 L1490.0 659.2 L1490.0 659.1 L1490.0 660.1 L1490.0 657.5 L1490.1 658.0 L1490.1 656.5 L1490.1 655.3 L1490.1 653.1 L1490.1 653.3 L1490.1 653.0 L1490.1 653.2 L1490.1 653.0 L1490.1 652.8 L1490.1 654.0 L1490.1 653.7 L1490.1 649.9 L1490.1 648.4 L1490.1 646.6 L1490.1 646.8 L1490.2 646.5 L1490.2 647.8 L1490.2 645.2 L1490.2 644.8 L1490.2 643.6 L1490.2 640.6 L1490.2 641.7 L1490.2 640.8 L1490.2 638.4 L1490.2 639.1 L1490.2 637.7 L1490.2 637.5 L1490.2 635.9 L1490.2 635.6 L1490.2 634.9 L1490.3 635.9 L1490.3 633.7 L1490.3 634.0 L1490.3 632.5 L1490.3 632.0 L1490.3 631.2 L1490.3 628.4 L1490.3 628.8 L1490.4 628.5 L1490.4 628.4 L1490.5 630.6 L1490.5 632.7 L1490.6 634.1 L1490.6 632.9 L1490.7 632.8 L1490.7 633.6 L1490.8 635.2 L1490.9 636.7 L1490.9 637.7 L1491.0 638.4 L1491.0 639.3 L1491.1 641.1 L1491.1 641.1 L1491.2 640.4 L1491.2 643.4 L1491.3 642.2 L1491.3 643.4 L1491.4 645.4 L1491.5 646.7 L1491.5 647.9 L1491.6 650.3 L1491.6 651.6 L1491.7 650.1 L1491.7 650.0 L1491.8 652.9 L1491.8 653.7 L1491.9 652.5 L1491.9 653.0 L1492.0 653.4 L1492.0 651.8 L1492.0 651.1 L1492.0 650.4 L1492.1 649.8 L1492.1 647.8 L1492.1 647.9 L1492.1 646.2 L1492.2 644.4 L1492.2 644.4 L1492.2 644.2 L1492.2 642.0 L1492.3 641.9 L1492.3 640.4 L1492.3 640.1 L1492.3 640.3 L1492.4 640.0 L1492.4 637.4 L1492.4 635.4 L1492.4 634.3 L1492.5 633.1 L1492.5 633.7 L1492.5 635.1 L1492.5 632.5 L1492.6 631.4 L1492.6 630.7 L1492.6 630.9 L1492.6 630.8 L1492.7 629.2 L1492.7 628.3 L1492.7 626.7 L1492.7 625.3 L1492.8 624.3 L1492.8 624.0 L1492.8 624.2 L1492.8 622.0 L1492.9 622.4 L1492.9 619.8 L1492.9 620.6 L1492.9 620.9 L1493.0 621.2 L1493.0 618.0 L1493.2 618.6 L1493.4 620.2 L1493.6 620.2 L1493.8 621.6 L1494.0 623.4 L1494.2 622.9 L1494.4 623.5 L1494.6 623.2 L1494.8 624.0 L1495.0 626.2 L1495.0 623.8 L1495.1 625.7 L1495.1 624.8 L1495.1 626.7 L1495.2 629.3 L1495.2 631.9 L1495.2 631.1 L1495.2 633.1 L1495.3 633.1 L1495.3 632.0 L1495.3 635.0 L1495.4 636.1 L1495.4 637.4 L1495.4 638.4 L1495.4 639.7 L1495.5 639.1 L1495.5 640.5 L1495.5 640.9 L1495.6 641.7 L1495.6 642.5 L1495.8 642.7 L1495.9 644.7 L1496.1 646.3 L1496.2 646.9 L1496.4 648.4 L1496.5 647.6 L1496.7 650.1 L1496.9 649.4 L1497.0 649.8 L1497.2 650.5 L1497.3 652.5 L1497.5 652.0 L1497.5 652.4 L1497.5 651.6 L1497.5 649.5 L1497.6 649.9 L1497.6 649.8 L1497.6 647.2 L1497.6 646.0 L1497.6 646.2 L1497.7 646.0 L1497.7 643.2 L1497.7 642.0 L1497.7 641.9 L1497.7 641.0 L1497.7 640.7 L1497.8 639.1 L1497.8 637.7 L1497.8 637.9 L1497.8 637.5 L1497.8 635.6 L1497.8 636.2 L1497.8 635.6 L1497.9 634.6 L1497.9 633.7 L1497.9 633.6 L1497.9 632.6 L1497.9 631.4 L1498.0 630.3 L1498.0 630.8 L1498.0 630.9 L1498.0 627.5 L1498.1 627.2 L1498.1 627.7 L1498.2 626.6 L1498.2 628.1 L1498.3 629.6 L1498.3 630.2 L1498.4 632.4 L1498.4 633.7 L1498.5 634.9 L1498.6 634.2 L1498.6 635.4 L1498.7 637.1 L1498.7 636.4 L1498.8 636.0 L1498.8 637.9 L1498.9 642.8 L1499.0 641.9 L1499.0 642.2 L1499.1 643.6 L1499.1 645.5 L1499.2 646.1 L1499.2 645.9 L1499.3 646.4 L1499.3 647.6 L1499.4 647.5 L1499.4 647.4 L1499.5 647.0 L1499.5 645.1 L1499.5 644.6 L1499.6 643.3 L1499.6 641.9 L1499.6 641.3 L1499.6 641.7 L1499.7 640.8 L1499.7 640.0 L1499.7 639.0 L1499.8 638.1 L1499.8 637.0 L1499.8 635.9 L1499.8 633.1 L1499.9 633.4 L1499.9 632.4 L1499.9 631.5 L1500.0 630.4 L1500.0 630.9 L1500.0 630.1 L1500.1 629.7 L1500.1 629.2 L1500.1 628.7 L1500.2 627.8 L1500.2 627.6 L1500.2 627.4 L1500.2 626.7 L1500.3 625.5 L1500.3 625.2 L1500.3 623.1 L1500.4 620.9 L1500.4 620.2 L1500.4 617.9 L1500.4 617.2 L1500.5 617.4 L1500.5 618.4 L1500.5 617.6 L1500.6 615.8 L1500.6 615.0 L1500.6 614.8 L1500.6 614.3 L1500.5 613.5 L1500.5 613.2 L1500.5 611.1 L1500.5 611.4 L1500.4 608.5 L1500.4 608.1 L1500.4 608.2 L1500.4 607.8 L1500.3 606.2 L1500.3 603.5 L1500.3 602.1 L1500.3 601.3 L1500.2 601.7 L1500.2 603.3 L1500.2 601.6 L1500.2 602.1 L1500.1 600.0 L1500.1 599.2 L1500.1 598.6 L1500.1 599.9 L1500.0 598.4 L1500.0 594.9 L1500.0 595.0 L1501.1 593.5 L1501.6 593.7 L1502.5 593.8 L1502.6 595.3 L1502.6 593.8 L1502.7 593.0 L1502.7 593.9 L1502.8 591.6 L1502.8 589.3 L1502.9 589.1 L1502.9 588.6 L1503.0 585.6 L1503.1 585.8 L1503.1 584.2 L1503.2 583.7 L1503.2 584.1 L1503.3 584.0 L1503.3 581.9 L1503.4 581.2 L1503.4 579.6 L1503.5 578.8 L1503.5 577.3 L1503.5 578.9 L1503.5 578.7 L1503.5 579.7 L1503.5 581.8 L1503.5 582.0 L1503.5 582.9 L1503.5 582.8 L1503.5 583.5 L1503.5 585.7 L1503.5 587.7 L1503.5 586.5 L1503.5 589.0 L1503.5 589.8 L1503.5 590.1 L1503.5 590.1 L1503.5 591.9 L1503.5 592.3 L1503.5 592.7 L1503.5 594.2 L1503.5 595.8 L1503.5 595.0 L1503.5 596.9 L1503.5 597.8 L1503.5 599.6 L1503.5 601.1 L1503.5 601.5 L1503.5 601.2 L1503.6 601.8 L1504.2 601.6 L1504.4 602.3 L1505.1 603.4 L1505.2 605.6 L1505.3 604.6 L1505.3 602.7 L1505.4 603.4 L1505.4 601.8 L1505.5 601.0 L1505.5 600.1 L1505.6 601.0 L1505.6 601.1 L1505.7 597.8 L1505.7 597.6 L1505.8 597.3 L1505.8 596.7 L1505.8 595.9 L1505.9 593.5 L1505.9 593.9 L1506.0 594.0 L1506.0 591.9 L1506.1 591.5 L1506.1 591.2 L1506.2 590.4 L1506.2 589.7 L1506.2 587.5 L1506.4 588.1 L1506.5 588.4 L1506.6 589.9 L1506.8 591.4 L1506.9 593.1 L1507.0 592.4 L1507.1 592.5 L1507.2 593.0 L1507.4 593.7 L1507.5 596.5 L1507.6 598.4 L1507.8 598.5 L1507.9 600.1 L1508.0 598.8 L1508.1 598.8 L1508.3 597.9 L1508.4 596.8 L1508.5 595.9 L1508.7 594.2 L1508.8 592.3 L1508.9 592.7 L1509.1 591.6 L1509.2 590.2 L1509.3 588.9 L1509.5 586.6 L1509.6 586.0 L1509.7 586.5 L1509.9 585.4 L1510.0 586.2 L1510.1 584.2 L1510.2 585.2 L1510.3 585.0 L1510.5 587.7 L1510.6 586.7 L1510.7 588.9 L1510.8 592.1 L1510.9 592.9 L1511.0 594.1 L1511.1 593.3 L1511.2 595.0 L1511.4 595.6 L1511.6 594.0 L1511.8 593.7 L1511.9 594.9 L1512.1 591.5 L1512.2 590.5 L1512.4 588.5 L1512.6 588.1 L1512.8 587.5 L1512.7 586.2 L1512.7 586.0 L1512.7 585.2 L1512.7 584.0 L1512.7 583.9 L1512.7 583.6 L1512.7 581.6 L1512.6 581.6 L1512.6 579.7 L1512.6 578.5 L1512.6 578.7 L1512.6 579.0 L1512.6 578.0 L1512.5 579.4 L1512.5 576.5 L1512.5 575.7 L1512.5 574.3 L1512.5 571.5 L1512.5 572.0 L1512.5 571.5 L1512.5 571.0 L1512.4 570.2 L1512.4 569.6 L1512.4 568.5 L1512.4 566.0 L1512.4 566.1 L1512.4 565.5 L1512.3 564.3 L1512.3 562.1 L1512.3 562.3 L1512.3 562.3 L1512.3 563.4 L1512.3 561.7 L1512.3 561.2 L1512.2 559.4 L1512.9 559.5 L1513.1 558.9 L1513.7 558.6 L1514.4 556.2 L1514.9 556.7 L1514.9 557.7 L1515.5 558.2 L1515.7 559.4 L1516.2 560.0 L1516.2 559.6 L1516.2 563.2 L1516.1 562.6 L1516.1 562.2 L1516.0 562.9 L1516.0 563.9 L1515.9 564.1 L1515.9 563.2 L1515.9 567.0 L1515.8 569.1 L1515.8 569.2 L1515.7 570.6 L1515.7 570.1 L1515.6 569.6 L1515.6 572.5 L1516.2 572.2 L1516.7 573.8 L1517.5 574.4 L1517.5 572.2 L1517.5 574.1 L1517.4 576.7 L1517.4 577.8 L1517.4 578.7 L1517.4 580.0 L1517.4 578.5 L1517.4 578.6 L1517.3 579.1 L1517.3 581.2 L1517.3 581.9 L1517.3 581.4 L1517.3 584.2 L1517.2 585.2 L1517.2 587.2 L1517.2 589.8 L1517.2 588.0 L1517.2 587.6 L1517.2 590.1 L1517.1 592.2 L1517.1 592.8 L1517.1 593.4 L1517.1 594.5 L1517.1 595.4 L1517.0 594.4 L1517.0 596.1 L1517.0 597.7 L1517.0 597.6 L1517.0 597.3 L1517.0 597.9 L1516.9 598.5 L1516.9 600.3 L1516.9 601.2 L1517.0 602.7 L1517.1 603.3 L1517.2 603.6 L1517.4 602.7 L1517.5 603.8 L1517.6 604.2 L1517.7 605.2 L1517.8 607.0 L1517.9 608.2 L1518.0 612.6 L1518.2 611.2 L1518.3 611.0 L1518.4 610.7 L1518.5 612.5 L1518.5 612.4 L1518.5 613.3 L1518.5 615.5 L1518.5 614.1 L1518.5 616.5 L1518.5 618.0 L1518.5 618.1 L1518.6 618.3 L1518.6 619.6 L1518.6 621.0 L1518.6 621.6 L1518.6 622.2 L1518.6 623.1 L1518.6 622.8 L1518.6 624.4 L1518.6 625.9 L1518.6 626.7 L1518.6 626.2 L1518.6 627.5 L1518.6 628.4 L1518.6 629.7 L1518.6 630.1 L1518.6 631.9 L1518.7 633.6 L1518.7 634.6 L1518.7 635.0 L1518.7 636.5 L1518.7 636.5 L1518.7 636.7 L1518.7 635.9 L1518.7 637.2 L1518.7 639.5 L1518.7 639.0 L1518.7 640.8 L1518.7 640.2 L1518.7 641.7 L1518.7 644.4 L1518.7 644.6 L1518.8 644.4 L1518.8 643.1 L1518.9 642.7 L1518.9 641.8 L1519.0 641.9 L1519.0 640.3 L1519.1 637.8 L1519.2 637.2 L1519.2 637.6 L1519.3 638.0 L1519.3 637.1 L1519.4 636.0 L1519.5 635.7 L1519.5 634.3 L1519.6 632.9 L1519.6 632.4 L1519.7 632.7 L1519.8 630.9 L1519.8 630.5 L1519.9 628.8 L1519.9 627.4 L1520.0 627.5 L1520.2 626.3 L1520.3 624.4 L1520.5 623.4 L1520.7 622.1 L1520.8 621.6 L1521.0 620.7 L1521.2 623.0 L1521.3 622.4 L1521.5 621.2 L1521.7 618.7 L1521.8 615.9 L1522.0 616.7 L1522.2 615.8 L1522.3 616.6 L1522.5 615.6 L1522.5 614.5 L1522.5 612.5 L1522.5 611.7 L1522.6 610.0 L1522.6 608.7 L1522.6 609.8 L1522.6 608.8 L1522.6 609.2 L1522.6 607.8 L1522.6 607.0 L1522.6 605.9 L1522.7 604.9 L1522.7 603.8 L1522.7 605.0 L1522.7 603.9 L1522.7 601.0 L1522.7 602.5 L1522.7 602.7 L1522.8 602.4 L1522.8 600.6 L1522.8 599.2 L1522.8 597.7 L1522.8 597.1 L1522.8 596.7 L1522.8 595.8 L1522.8 594.0 L1522.9 592.5 L1522.9 593.9 L1522.9 594.4 L1522.9 591.5 L1522.9 590.0 L1522.9 589.4 L1522.9 589.4 L1522.9 588.3 L1523.0 587.7 L1523.0 587.1 L1523.0 587.2 L1523.0 585.0 L1523.1 583.7 L1523.2 584.1 L1523.2 583.4 L1523.3 582.7 L1523.4 580.0 L1523.5 579.3 L1523.5 578.5 L1523.6 578.5 L1523.7 578.3 L1523.8 577.8 L1523.9 575.2 L1523.9 575.9 L1524.0 574.7 L1524.1 574.6 L1524.2 573.2 L1524.2 571.4 L1524.3 573.3 L1524.4 570.0 L1525.6 572.1 L1526.4 570.9 L1527.5 570.0 L1527.4 572.1 L1527.4 572.9 L1527.3 574.9 L1527.2 575.9 L1527.1 574.6 L1527.1 573.7 L1527.0 576.1 L1526.9 577.4 L1526.8 577.6 L1526.8 578.0 L1526.7 578.4 L1526.6 581.2 L1526.5 581.3 L1526.5 580.5 L1526.4 582.6 L1526.3 583.2 L1526.3 584.3 L1526.2 584.6 L1526.1 585.4 L1526.0 584.4 L1526.0 586.5 L1525.9 586.9 L1525.8 587.8 L1525.7 589.3 L1525.7 591.5 L1525.6 591.2 L1525.8 588.9 L1525.9 588.6 L1526.1 588.7 L1526.3 588.9 L1526.4 586.8 L1526.6 586.5 L1526.8 586.0 L1526.9 585.9 L1527.1 584.0 L1527.3 583.0 L1527.4 581.7 L1527.6 582.2 L1527.7 582.2 L1527.9 580.3 L1528.1 579.2 L1528.2 578.5 L1528.4 576.7 L1528.6 576.0 L1528.7 576.3 L1528.9 576.0 L1529.1 574.1 L1529.2 572.7 L1529.4 572.5 L1529.4 572.8 L1529.4 572.4 L1529.5 574.2 L1529.5 575.5 L1529.5 575.1 L1529.5 576.3 L1529.5 576.9 L1529.6 578.0 L1529.6 578.3 L1529.6 581.1 L1529.6 580.8 L1529.6 582.6 L1529.7 583.5 L1529.7 585.6 L1529.7 585.7 L1529.7 586.2 L1529.8 586.8 L1529.8 585.7 L1529.8 589.5 L1529.8 589.5 L1529.8 589.8 L1529.9 589.5 L1529.9 590.6 L1529.9 593.2 L1529.9 592.9 L1529.9 594.2 L1530.0 595.8 L1530.0 597.1 L1530.0 596.2 L1530.1 596.0 L1530.3 593.3 L1530.4 593.4 L1530.6 593.3 L1530.7 592.1 L1530.9 590.9 L1531.0 592.0 L1531.2 589.1 L1531.3 588.1 L1531.5 587.0 L1531.6 585.1 L1531.8 584.5 L1531.9 583.7 L1532.1 584.9 L1532.2 582.4 L1532.4 580.9 L1532.5 582.5 L1532.5 582.1 L1532.6 581.9 L1532.6 581.6 L1532.6 583.1 L1532.7 583.8 L1532.7 584.7 L1532.8 586.4 L1532.8 588.3 L1532.8 588.7 L1532.9 589.7 L1532.9 591.5 L1532.9 592.1 L1533.0 593.6 L1533.0 593.8 L1533.4 592.9 L1534.3 591.4 L1534.6 590.6 L1534.9 590.9 L1535.6 590.0 L1535.6 591.4 L1535.5 590.8 L1535.5 592.0 L1535.4 592.4 L1535.4 595.0 L1535.4 593.8 L1535.3 595.7 L1535.3 596.3 L1535.2 596.6 L1535.2 597.9 L1535.2 598.7 L1535.1 599.7 L1535.1 600.9 L1535.0 602.9 L1535.0 602.5 L1535.5 602.0 L1535.8 601.5 L1535.7 600.4 L1536.2 598.8 L1536.8 596.5 L1536.9 597.5 L1536.9 597.3 L1536.9 597.4 L1536.9 598.8 L1536.8 600.6 L1536.8 602.6 L1536.8 603.6 L1536.8 603.3 L1536.8 603.9 L1536.8 604.4 L1536.7 605.3 L1536.7 605.8 L1536.7 608.3 L1536.7 609.4 L1536.7 610.6 L1536.7 612.1 L1536.6 613.5 L1536.6 613.7 L1536.6 615.8 L1536.6 617.4 L1536.6 615.1 L1536.6 615.1 L1536.5 617.2 L1536.5 619.7 L1536.5 620.2 L1536.5 619.7 L1536.5 619.5 L1536.5 620.3 L1536.4 621.1 L1536.4 620.2 L1536.4 623.3 L1536.4 623.8 L1536.4 623.3 L1536.4 624.2 L1536.3 624.9 L1536.3 624.9 L1536.3 625.8 L1536.3 629.0 L1536.3 630.3 L1536.3 628.5 L1536.2 630.0 L1536.4 626.0 L1536.5 625.6 L1536.6 624.9 L1536.7 626.0 L1536.8 626.3 L1536.9 626.4 L1537.0 624.4 L1537.2 622.9 L1537.3 621.5 L1537.4 621.2 L1537.5 620.8 L1537.6 620.3 L1537.7 620.2 L1537.8 619.5 L1538.0 618.6 L1538.1 617.7 L1538.2 613.5 L1538.3 613.3 L1538.4 611.7 L1538.5 612.6 L1538.6 614.3 L1538.8 612.5 L1538.8 610.8 L1538.9 611.7 L1539.0 610.6 L1539.0 610.3 L1539.1 608.3 L1539.2 607.4 L1539.2 606.5 L1539.3 607.3 L1539.4 606.6 L1539.4 602.4 L1539.5 601.7 L1539.6 600.8 L1539.7 599.3 L1539.7 599.7 L1539.8 597.4 L1539.9 596.4 L1539.9 594.3 L1540.0 597.5 L1540.4 593.2 L1540.7 593.5 L1541.2 593.7 L1541.5 594.5 L1542.0 593.6 L1542.5 592.5 L1542.6 595.1 L1542.6 593.8 L1542.7 595.8 L1542.8 597.2 L1542.8 597.1 L1542.9 597.8 L1543.0 598.2 L1543.1 600.2 L1543.1 599.5 L1543.2 601.1 L1543.3 603.1 L1543.3 603.9 L1543.4 603.7 L1543.5 604.0 L1543.5 602.7 L1543.6 603.5 L1543.7 606.4 L1543.8 607.5 L1543.9 605.6 L1544.0 603.5 L1544.1 603.4 L1544.2 601.7 L1544.3 602.3 L1544.4 601.0 L1544.5 601.7 L1544.6 600.7 L1544.7 598.6 L1544.8 597.5 L1544.9 596.8 L1545.0 597.5 L1545.8 595.7 L1546.6 597.6 L1547.5 597.5 L1547.6 597.8 L1547.7 599.4 L1547.8 598.7 L1547.9 598.6 L1548.0 600.8 L1548.1 603.4 L1548.2 602.4 L1548.3 603.4 L1548.4 604.0 L1548.5 604.4 L1548.6 606.7 L1548.8 607.5 L1548.7 608.4 L1548.7 607.8 L1548.6 609.0 L1548.6 611.6 L1548.5 611.4 L1548.5 611.8 L1548.5 612.2 L1548.4 613.6 L1548.4 614.2 L1548.3 616.2 L1548.3 616.1 L1548.2 615.7 L1548.2 617.7 L1548.2 615.6 L1548.1 617.0 L1548.1 619.3 L1548.0 621.0 L1548.0 622.5 L1548.2 620.7 L1549.0 619.9 L1549.0 618.7 L1549.3 618.4 L1550.1 618.0 L1550.3 618.0 L1550.6 617.0 L1550.6 617.6 L1550.6 618.9 L1550.5 621.7 L1550.5 621.3 L1550.5 623.3 L1550.5 624.4 L1550.5 621.4 L1550.4 621.8 L1550.4 622.3 L1550.4 624.3 L1550.4 626.8 L1550.4 627.3 L1550.4 628.0 L1550.3 630.7 L1550.3 630.9 L1550.3 633.1 L1550.3 631.8 L1550.3 633.8 L1550.2 633.2 L1550.2 631.4 L1550.2 632.1 L1550.2 633.3 L1550.2 634.7 L1550.2 636.6 L1550.1 638.1 L1550.1 639.1 L1550.1 638.7 L1550.1 641.3 L1550.1 642.7 L1550.0 642.7 L1550.0 642.4 L1550.0 643.0 L1550.1 642.3 L1550.2 641.2 L1550.3 639.8 L1550.4 639.2 L1550.5 638.0 L1550.6 638.2 L1550.7 636.7 L1550.8 636.6 L1550.9 636.0 L1551.0 635.2 L1551.1 634.7 L1551.2 632.6 L1551.3 634.4 L1551.4 632.1 L1551.5 631.7 L1551.6 630.5 L1551.7 629.0 L1551.8 630.0 L1551.9 629.5 L1552.0 627.6 L1552.1 626.9 L1552.2 626.3 L1552.3 626.5 L1552.4 625.7 L1552.5 622.5 L1552.6 624.6 L1552.7 624.6 L1552.8 624.1 L1552.8 625.5 L1552.9 627.2 L1553.0 627.3 L1553.1 628.7 L1553.2 629.4 L1553.3 629.5 L1553.4 629.2 L1553.5 631.5 L1553.5 634.7 L1553.6 635.0 L1553.7 633.8 L1553.8 633.6 L1553.9 635.0 L1554.0 636.5 L1554.1 638.6 L1554.1 636.4 L1554.2 639.5 L1554.3 640.0 L1554.4 640.0 L1554.5 639.8 L1554.5 639.1 L1554.6 637.7 L1554.6 636.5 L1554.7 636.9 L1554.8 634.1 L1554.8 633.5 L1554.9 633.6 L1554.9 631.1 L1555.0 630.8 L1555.1 631.9 L1555.1 631.1 L1555.2 630.7 L1555.2 630.0 L1555.3 628.9 L1555.4 628.0 L1555.4 626.0 L1555.5 625.1 L1555.5 626.2 L1555.6 623.8 L1555.8 624.5 L1556.0 625.3 L1556.2 625.1 L1556.3 626.0 L1556.5 626.7 L1556.7 627.0 L1556.9 630.0 L1556.9 629.8 L1556.9 630.0 L1556.8 632.0 L1556.8 634.8 L1556.8 632.5 L1556.8 633.8 L1556.7 633.0 L1556.7 634.7 L1556.7 636.6 L1556.7 637.8 L1556.6 639.9 L1556.6 640.4 L1556.6 639.3 L1556.6 642.1 L1556.6 641.7 L1556.5 642.5 L1556.5 643.8 L1556.5 643.6 L1556.5 644.9 L1556.4 647.3 L1556.4 646.0 L1556.4 645.5 L1556.4 646.8 L1556.3 648.1 L1556.3 648.2 L1556.3 647.4 L1556.3 650.5 L1556.2 652.5 L1556.4 651.4 L1556.5 649.5 L1556.6 649.8 L1556.7 649.1 L1556.8 648.5 L1556.9 646.5 L1557.0 646.0 L1557.2 646.0 L1557.3 643.5 L1557.4 642.5 L1557.5 643.5 L1557.6 644.7 L1557.7 643.9 L1557.8 642.3 L1558.0 640.1 L1558.1 639.1 L1558.2 638.3 L1558.3 638.2 L1558.4 637.1 L1558.5 638.8 L1558.6 638.4 L1558.8 635.0 L1558.8 635.3 L1558.9 635.2 L1559.0 636.6 L1559.1 638.7 L1559.2 639.7 L1559.3 637.5 L1559.4 637.7 L1559.5 641.1 L1559.6 642.6 L1559.7 645.9 L1559.8 646.4 L1559.9 646.7 L1560.0 648.2 L1560.0 647.5 L1560.1 647.4 L1560.2 647.1 L1560.3 648.5 L1560.4 649.9 L1560.5 651.5 L1560.6 651.2 L1560.6 652.5 L1560.7 651.5 L1560.7 651.2 L1560.8 649.2 L1560.8 646.9 L1560.8 646.9 L1560.9 646.9 L1560.9 646.9 L1560.9 645.1 L1561.0 643.4 L1561.0 642.1 L1561.1 641.8 L1561.1 640.8 L1561.1 639.8 L1561.2 639.3 L1561.2 638.2 L1561.2 637.7 L1561.3 636.3 L1561.3 634.1 L1561.4 633.7 L1561.4 635.3 L1561.4 633.3 L1561.5 633.5 L1561.5 633.6 L1561.6 631.6 L1561.6 630.8 L1561.6 627.5 L1561.7 628.0 L1561.7 629.0 L1561.7 627.9 L1561.8 624.7 L1561.8 623.9 L1561.9 623.0 L1561.9 623.8 L1562.0 623.7 L1562.1 625.2 L1562.1 625.7 L1562.2 626.4 L1562.3 626.7 L1562.4 628.5 L1562.5 629.6 L1562.5 630.7 L1562.6 630.9 L1562.7 632.3 L1562.8 632.7 L1562.9 633.8 L1562.9 634.4 L1563.0 634.5 L1563.1 634.5 L1563.2 634.1 L1563.3 634.7 L1563.3 637.1 L1563.4 641.6 L1563.5 639.8 L1563.6 640.0 L1563.7 641.1 L1563.8 642.5 L1563.8 644.8 L1564.0 642.5 L1564.0 640.0 L1564.2 639.6 L1564.2 640.7 L1564.3 636.2 L1564.5 634.9 L1564.5 636.1 L1564.7 634.2 L1564.8 633.7 L1564.8 632.6 L1565.0 633.0 L1565.0 630.8 L1565.2 630.8 L1565.2 630.4 L1565.3 630.2 L1565.5 629.6 L1565.5 628.7 L1565.7 626.0 L1565.8 625.4 L1565.8 624.1 L1566.0 624.5 L1566.0 623.6 L1566.2 623.2 L1566.2 622.5 L1566.4 624.3 L1566.5 624.6 L1566.7 626.8 L1566.8 627.7 L1566.9 626.3 L1567.1 626.6 L1567.2 628.9 L1567.3 628.9 L1567.5 630.9 L1567.6 630.7 L1567.7 631.3 L1567.9 633.2 L1568.0 633.0 L1568.1 631.3 L1568.3 630.9 L1568.4 629.9 L1568.6 629.5 L1568.7 630.5 L1568.8 629.6 L1569.0 626.9 L1569.1 627.3 L1569.3 625.8 L1569.4 625.0 L1569.5 626.0 L1569.6 627.9 L1569.7 627.9 L1569.8 629.5 L1569.9 630.1 L1570.0 629.7 L1570.1 630.3 L1570.2 630.1 L1570.3 632.7 L1570.4 633.6 L1570.5 635.3 L1570.6 634.6 L1570.7 636.5 L1570.8 635.9 L1570.9 637.3 L1571.0 638.2 L1571.1 638.5 L1571.2 640.0 L1571.3 639.1 L1571.3 638.4 L1571.3 636.7 L1571.3 635.5 L1571.3 634.0 L1571.3 635.3 L1571.4 634.6 L1571.4 633.3 L1571.4 633.3 L1571.4 631.4 L1571.4 629.7 L1571.4 629.8 L1571.4 630.8 L1571.5 629.8 L1571.5 628.7 L1571.5 629.3 L1571.5 626.1 L1571.5 628.5 L1571.5 625.4 L1571.5 624.2 L1571.6 622.0 L1571.6 620.4 L1571.6 620.1 L1571.6 622.3 L1571.6 619.9 L1571.6 618.5 L1571.6 618.2 L1571.7 616.4 L1571.7 615.8 L1571.7 616.1 L1571.7 613.1 L1571.7 612.8 L1571.7 612.3 L1571.7 611.4 L1571.8 611.0 L1571.8 608.7 L1571.8 608.4 L1571.8 607.8 L1571.8 606.6 L1571.8 607.9 L1571.8 609.0 L1571.9 608.2 L1571.9 605.7 L1571.9 606.2 L1571.9 603.8 L1572.1 606.0 L1572.2 605.4 L1572.4 606.8 L1572.8 606.6 L1573.2 606.6 L1573.1 607.2 L1573.5 608.5 L1573.8 608.9 L1573.9 609.0 L1574.0 610.7 L1574.4 612.5 L1574.4 609.8 L1574.5 610.7 L1574.5 610.9 L1574.6 611.2 L1574.6 607.6 L1574.6 607.8 L1574.7 605.2 L1574.7 604.4 L1574.7 603.8 L1574.8 602.9 L1574.8 604.6 L1574.8 603.2 L1574.9 603.3 L1574.9 601.7 L1575.0 600.6 L1575.0 599.4 L1576.1 600.4 L1576.9 600.0 L1577.0 600.0 L1577.0 599.0 L1577.1 597.5 L1577.1 598.2 L1577.2 599.3 L1577.2 598.0 L1577.2 597.6 L1577.3 593.7 L1577.4 591.7 L1577.4 591.2 L1577.5 590.2 L1577.5 589.9 L1577.5 587.6 L1577.6 589.8 L1577.7 589.1 L1577.7 587.4 L1577.8 587.5 L1577.8 584.8 L1577.9 584.0 L1577.9 583.0 L1578.0 582.3 L1578.0 582.4 L1578.0 580.4 L1578.1 580.8 L1578.2 580.5 L1578.2 579.7 L1578.2 579.4 L1578.3 577.7 L1578.3 574.9 L1578.4 575.1 L1578.5 575.1 L1578.5 573.8 L1578.6 576.2 L1578.7 576.1 L1578.8 577.1 L1579.0 578.8 L1579.1 578.8 L1579.2 579.6 L1579.3 579.7 L1579.4 579.9 L1579.5 581.7 L1579.7 583.3 L1579.8 583.8 L1579.9 584.0 L1580.0 584.5 L1580.1 584.5 L1580.2 585.6 L1580.4 586.5 L1580.5 588.9 L1580.6 588.0 L1580.7 588.4 L1580.8 587.2 L1580.9 585.9 L1581.0 585.1 L1581.1 584.3 L1581.2 582.5 L1581.2 582.4 L1581.3 582.1 L1581.4 582.6 L1581.5 582.0 L1581.6 581.1 L1581.7 580.2 L1581.8 579.6 L1581.9 576.2 L1582.1 579.0 L1582.3 579.5 L1582.4 580.4 L1582.6 580.5 L1582.8 579.5 L1583.0 581.0 L1583.2 583.1 L1583.3 583.4 L1583.5 585.0 L1583.7 586.2 L1583.9 585.7 L1584.0 585.1 L1584.2 584.8 L1584.4 587.5 L1584.6 586.8 L1584.7 587.1 L1584.9 586.3 L1585.0 582.9 L1585.2 582.1 L1585.3 582.0 L1585.5 580.8 L1585.6 579.5 L1585.8 580.3 L1585.9 579.2 L1586.1 578.8 L1586.2 578.0 L1586.3 579.9 L1586.3 580.2 L1586.3 581.2 L1586.3 582.1 L1586.3 584.8 L1586.4 584.7 L1586.4 585.6 L1586.4 586.6 L1586.4 588.2 L1586.4 587.3 L1586.4 586.9 L1586.5 587.3 L1586.5 587.4 L1586.5 587.1 L1586.5 589.0 L1586.5 591.0 L1586.5 590.6 L1586.6 592.6 L1586.6 594.4 L1586.6 594.0 L1586.6 594.7 L1586.6 597.3 L1586.7 597.8 L1586.7 598.5 L1586.7 600.2 L1586.7 600.3 L1586.7 599.7 L1586.7 600.0 L1586.8 600.5 L1586.8 601.5 L1586.8 603.0 L1586.8 605.1 L1586.8 604.5 L1586.8 606.1 L1586.9 607.7 L1586.9 607.4 L1586.9 608.0 L1587.0 607.3 L1587.1 606.1 L1587.2 605.1 L1587.3 604.5 L1587.4 604.0 L1587.6 603.8 L1587.7 602.3 L1587.8 601.9 L1587.9 601.7 L1588.0 600.2 L1588.1 599.1 L1588.2 598.7 L1588.3 596.5 L1588.4 597.4 L1588.5 594.3 L1588.6 593.5 L1588.7 592.2 L1588.9 591.3 L1589.0 589.6 L1589.1 590.9 L1589.2 589.9 L1589.3 589.7 L1589.4 589.4 L1589.4 590.2 L1589.5 592.8 L1589.5 593.5 L1589.6 593.9 L1589.6 593.2 L1589.7 593.1 L1589.7 593.0 L1589.8 595.0 L1589.8 595.0 L1589.9 597.2 L1589.9 599.2 L1590.0 600.0 L1590.0 601.8 L1590.1 601.7 L1590.1 601.5 L1590.2 603.6 L1590.2 605.1 L1590.3 605.1 L1590.3 604.0 L1590.4 606.2 L1590.4 607.3 L1590.5 607.3 L1590.5 607.8 L1590.6 608.1 L1590.6 610.0 L1590.8 609.1 L1590.9 612.0 L1591.1 611.2 L1591.3 614.1 L1591.5 612.6 L1591.6 614.1 L1591.8 615.9 L1592.0 617.3 L1592.2 619.6 L1592.3 619.9 L1592.5 618.8 L1592.5 620.0 L1592.6 617.6 L1592.6 614.0 L1592.7 614.7 L1592.7 613.5 L1592.7 613.7 L1592.8 614.4 L1592.8 614.7 L1592.8 613.3 L1592.9 610.6 L1592.9 609.5 L1593.0 606.9 L1593.0 606.7 L1593.0 606.0 L1593.1 604.5 L1593.1 602.9 L1593.2 602.1 L1593.2 602.6 L1593.2 601.9 L1593.3 601.1 L1593.3 601.0 L1593.3 601.9 L1593.4 601.1 L1593.4 599.8 L1593.5 598.1 L1593.5 597.5 L1593.5 595.6 L1593.5 595.8 L1593.6 595.2 L1593.6 593.8 L1593.6 594.6 L1593.6 594.0 L1593.6 593.4 L1593.7 590.7 L1593.7 588.9 L1593.7 590.5 L1593.7 589.2 L1593.7 588.6 L1593.8 588.7 L1593.8 586.2 L1593.8 584.6 L1593.8 583.3 L1593.8 582.5 L1593.9 582.3 L1593.9 583.2 L1593.9 583.1 L1593.9 580.5 L1594.0 578.3 L1594.0 576.0 L1594.0 576.3 L1594.0 577.6 L1594.0 577.3 L1594.1 574.9 L1594.1 575.6 L1594.1 574.5 L1594.1 573.8 L1594.1 572.2 L1594.2 569.3 L1594.2 571.2 L1594.2 569.1 L1594.2 569.0 L1594.2 566.7 L1594.3 565.5 L1594.3 563.5 L1594.3 564.6 L1594.3 564.1 L1594.3 562.8 L1594.4 562.0 L1594.4 561.3 L1594.4 562.0 L1594.6 561.4 L1595.1 560.9 L1595.5 561.4 L1595.9 557.6 L1596.5 558.0 L1596.9 557.5 L1597.8 559.7 L1598.1 561.2 L1598.8 561.2 L1598.7 563.5 L1598.7 563.4 L1598.7 563.6 L1598.7 562.5 L1598.7 564.2 L1598.7 566.1 L1598.6 567.0 L1598.6 569.4 L1598.6 570.4 L1598.6 570.1 L1598.6 569.9 L1598.5 571.3 L1598.5 571.6 L1598.5 570.8 L1598.5 572.4 L1598.5 573.3 L1598.5 574.2 L1598.5 575.9 L1598.4 576.8 L1598.4 579.6 L1598.4 578.8 L1598.4 579.2 L1598.4 580.2 L1598.3 580.4 L1598.3 580.8 L1598.3 583.6 L1598.3 582.4 L1598.3 583.8 L1598.3 582.9 L1598.2 584.7 L1598.2 584.0 L1598.2 584.5 L1598.2 587.4 L1598.2 589.9 L1598.2 590.3 L1598.2 588.1 L1598.1 590.7 L1598.1 591.9 L1598.1 591.6 L1598.1 592.5 L1598.1 592.4 L1598.0 593.9 L1598.0 595.1 L1598.0 596.3 L1598.0 597.5 L1598.1 598.9 L1598.3 598.8 L1598.4 597.7 L1598.6 598.3 L1598.7 598.9 L1598.9 600.5 L1599.0 601.7 L1599.2 603.1 L1599.3 605.7 L1599.5 606.3 L1599.6 605.9 L1599.8 607.5 L1599.9 605.9 L1600.1 604.6 L1600.3 604.1 L1600.5 604.3 L1600.7 602.4 L1600.9 602.8 L1601.1 603.8 L1601.2 601.2 L1601.3 603.0 L1601.3 602.7 L1601.4 600.7 L1601.5 597.8 L1601.5 599.0 L1601.5 597.3 L1601.6 596.3 L1601.7 594.8 L1601.7 593.0 L1601.8 593.1 L1601.8 590.9 L1601.8 589.2 L1601.9 589.8 L1602.0 588.9 L1602.0 587.6 L1602.0 587.7 L1602.1 588.4 L1602.2 586.8 L1602.2 585.7 L1602.2 585.4 L1602.3 585.2 L1602.3 584.9 L1602.4 584.0 L1602.5 581.8 L1602.5 580.6 L1603.5 582.0 L1604.2 582.3 L1605.0 582.5 L1605.1 583.2 L1605.2 585.5 L1605.2 585.7 L1605.3 587.0 L1605.4 587.3 L1605.5 588.0 L1605.6 589.5 L1605.7 589.9 L1605.8 591.1 L1605.8 591.4 L1605.9 593.2 L1606.0 594.1 L1606.1 592.7 L1606.2 595.4 L1606.2 595.0 L1606.9 596.8 L1607.5 596.2 L1607.5 597.8 L1607.4 598.4 L1607.4 599.3 L1607.4 599.5 L1607.3 600.3 L1607.3 601.9 L1607.2 603.1 L1607.2 601.1 L1607.2 604.3 L1607.1 603.8 L1607.1 605.5 L1607.1 605.2 L1607.0 607.0 L1607.0 608.0 L1606.9 608.9 L1606.9 609.9 L1606.9 611.0 L1606.8 612.1 L1606.8 613.2 L1606.8 613.6 L1606.7 614.4 L1606.7 614.2 L1606.7 613.0 L1606.6 614.4 L1606.6 617.3 L1606.5 618.0 L1606.5 618.3 L1606.5 618.9 L1606.4 621.1 L1606.4 620.2 L1606.4 623.2 L1606.3 624.8 L1606.3 623.3 L1606.2 623.8 L1606.3 624.1 L1606.4 625.1 L1606.4 626.3 L1606.5 626.6 L1606.6 626.1 L1606.6 627.7 L1606.7 629.1 L1606.8 629.3 L1606.8 630.1 L1606.9 630.1 L1607.0 633.3 L1607.0 633.4 L1607.1 634.0 L1607.2 634.4 L1607.2 634.0 L1607.3 633.3 L1607.4 634.4 L1607.4 635.0 L1607.5 637.4 L1607.5 639.7 L1607.6 640.9 L1607.7 641.3 L1607.7 643.2 L1607.8 643.2 L1607.9 644.0 L1607.9 644.7 L1608.0 645.6 L1608.2 644.4 L1608.4 643.6 L1608.5 644.2 L1608.7 643.8 L1608.9 642.4 L1609.1 641.7 L1609.3 638.9 L1609.5 637.9 L1609.6 637.8 L1609.8 637.0 L1610.0 636.2 L1610.0 633.4 L1610.0 634.3 L1610.1 634.1 L1610.1 631.7 L1610.1 630.9 L1610.1 631.2 L1610.2 632.2 L1610.2 629.3 L1610.2 627.5 L1610.2 628.7 L1610.3 627.1 L1610.3 626.0 L1610.3 624.6 L1610.3 624.1 L1610.3 624.5 L1610.4 624.0 L1610.4 621.6 L1610.4 620.7 L1610.4 622.3 L1610.5 618.1 L1610.5 617.7 L1610.5 616.5 L1610.5 615.1 L1610.6 613.5 L1610.6 616.5 L1610.6 615.0 L1611.4 613.3 L1612.2 613.8 L1612.5 614.1 L1612.7 615.5 L1613.2 617.0 L1613.4 617.8 L1613.6 618.8 L1613.8 619.3 L1614.3 619.6 L1614.4 620.0 L1614.4 621.0 L1614.4 620.8 L1614.3 620.9 L1614.3 622.2 L1614.3 623.9 L1614.3 624.7 L1614.3 625.9 L1614.2 628.6 L1614.2 628.8 L1614.2 629.8 L1614.2 628.5 L1614.1 628.9 L1614.1 629.5 L1614.1 630.0 L1614.1 631.2 L1614.1 632.5 L1614.0 633.7 L1614.0 633.6 L1614.0 634.6 L1614.0 636.4 L1614.0 636.5 L1613.9 637.5 L1613.9 638.2 L1613.9 639.6 L1613.9 640.7 L1613.9 642.4 L1613.8 642.4 L1613.8 643.4 L1613.8 644.1 L1613.8 644.4 L1613.8 645.0 L1614.2 645.0 L1614.9 646.3 L1615.5 645.5 L1616.2 647.5 L1616.2 648.1 L1616.2 647.4 L1616.1 650.4 L1616.1 650.4 L1616.0 650.6 L1616.0 652.3 L1615.9 654.9 L1615.9 655.8 L1615.9 655.7 L1615.8 656.8 L1615.8 656.5 L1615.7 657.2 L1615.7 658.2 L1615.6 659.1 L1615.6 660.0 L1616.2 660.4 L1617.1 660.9 L1618.1 657.8 L1618.8 658.8 L1618.7 658.4 L1618.6 660.9 L1618.5 662.2 L1618.4 664.7 L1618.3 663.1 L1618.2 663.6 L1618.1 664.7 L1618.0 664.2 L1617.9 663.8 L1617.9 665.6 L1617.8 665.6 L1617.7 667.4 L1617.6 668.4 L1617.5 670.0 L1617.7 670.9 L1617.9 672.9 L1618.3 672.9 L1619.0 672.4 L1619.3 672.9 L1619.6 675.7 L1619.8 676.9 L1620.0 676.2 L1620.9 678.4 L1621.8 677.9 L1622.5 677.5 L1622.4 679.2 L1622.3 678.2 L1622.2 679.7 L1622.1 679.8 L1621.9 681.4 L1621.8 680.9 L1621.7 683.2 L1621.6 683.8 L1621.5 683.2 L1621.4 683.3 L1621.3 685.1 L1621.2 684.9 L1621.0 687.0 L1620.9 688.7 L1620.8 688.9 L1620.7 691.3 L1620.6 691.2 L1620.8 694.0 L1620.9 694.3 L1621.1 695.0 L1621.3 695.7 L1621.5 695.8 L1621.6 697.6 L1621.8 697.3 L1622.0 695.6 L1622.1 697.3 L1622.3 699.0 L1622.5 700.7 L1622.7 700.2 L1622.8 702.7 L1623.0 702.5 L1623.1 703.1 L1623.3 704.7 L1623.4 705.9 L1623.6 706.5 L1623.7 708.1 L1623.9 707.8 L1624.0 710.4 L1624.1 710.8 L1624.3 710.5 L1624.4 713.5 L1624.6 713.1 L1624.7 711.7 L1624.9 714.0 L1625.0 713.8 L1625.0 715.1 L1625.1 712.9 L1625.1 710.8 L1625.2 711.3 L1625.2 710.2 L1625.3 708.3 L1625.3 707.3 L1625.4 706.8 L1625.4 707.1 L1625.5 707.5 L1625.5 705.4 L1625.6 705.8 L1625.6 702.8 L1625.7 702.8 L1625.7 701.7 L1625.8 701.2 L1625.8 699.8 L1625.9 698.3 L1625.9 698.1 L1626.0 698.4 L1626.0 695.1 L1626.1 694.9 L1626.1 694.1 L1626.2 692.6 L1626.2 691.1 L1626.2 692.5 L1626.3 690.8 L1626.9 689.9 L1627.0 690.7 L1627.3 690.2 L1627.2 691.4 L1627.7 689.1 L1627.6 687.7 L1628.0 685.6 L1628.4 687.9 L1628.6 686.7 L1628.9 687.7 L1628.9 688.9 L1629.2 688.0 L1629.7 689.2 L1630.0 691.2 L1630.0 690.8 L1630.0 692.0 L1630.0 693.5 L1629.9 695.7 L1629.9 696.3 L1629.9 697.2 L1629.9 698.0 L1629.9 700.7 L1629.9 700.7 L1629.9 700.3 L1629.8 699.8 L1629.8 700.3 L1629.8 702.1 L1629.8 702.9 L1629.8 703.5 L1629.8 704.1 L1629.8 705.0 L1629.8 706.5 L1629.8 706.9 L1629.9 706.2 L1629.9 709.5 L1630.0 710.2 L1630.0 710.9 L1630.1 710.5 L1630.1 711.5 L1630.2 711.8 L1630.2 714.0 L1630.3 715.5 L1630.3 715.4 L1630.4 716.9 L1630.4 717.4 L1630.4 718.5 L1630.5 717.9 L1630.5 719.5 L1630.6 720.3 L1630.6 721.0 L1630.7 722.5 L1630.7 722.2 L1630.8 724.4 L1630.8 724.5 L1630.9 724.7 L1630.9 726.6 L1631.0 728.4 L1631.0 727.0 L1631.1 728.8 L1631.3 725.7 L1631.4 725.5 L1631.5 725.7 L1631.7 725.5 L1631.8 724.4 L1631.9 723.0 L1632.1 723.5 L1632.2 722.1 L1632.3 719.5 L1632.5 718.1 L1632.6 715.0 L1632.7 716.3 L1632.9 714.7 L1633.0 715.0 L1633.4 712.9 L1633.4 712.1 L1633.6 711.5 L1634.2 711.3 L1634.4 711.2 L1634.5 711.1 L1634.6 712.6 L1634.7 714.3 L1634.7 714.6 L1634.8 714.2 L1634.9 715.1 L1635.0 717.6 L1635.1 721.0 L1635.2 720.6 L1635.3 718.5 L1635.3 718.9 L1635.4 722.3 L1635.5 724.5 L1635.6 722.5 L1635.8 723.7 L1636.0 724.5 L1636.7 725.4 L1636.8 727.0 L1637.3 727.5 L1637.8 729.3 L1637.8 729.7 L1638.1 728.4 L1638.5 729.4 L1638.5 729.3 L1638.5 730.1 L1638.5 725.6 L1638.5 725.5 L1638.6 726.0 L1638.6 725.7 L1638.6 725.4 L1638.6 721.7 L1638.6 723.0 L1638.6 721.3 L1638.6 717.3 L1638.6 718.4 L1638.6 716.3 L1638.7 715.3 L1638.7 716.5 L1638.7 716.6 L1638.7 716.2 L1638.7 717.5 L1638.7 714.2 L1638.7 713.7 L1638.7 713.6 L1638.8 711.2 L1639.6 711.4 L1640.3 712.7 L1641.2 712.5 L1641.4 712.9 L1641.5 710.9 L1641.6 710.3 L1641.7 707.9 L1641.8 708.9 L1641.9 707.8 L1642.0 705.5 L1642.2 704.4 L1642.3 704.3 L1642.4 704.2 L1642.5 703.8 L1643.0 705.0 L1643.5 704.2 L1643.8 706.2 L1643.8 705.3 L1643.8 706.5 L1643.9 703.4 L1643.9 700.8 L1644.0 699.0 L1644.0 698.7 L1644.1 699.4 L1644.1 699.2 L1644.2 697.1 L1644.2 696.5 L1644.3 695.9 L1644.3 695.8 L1644.4 695.4 L1644.4 694.3 L1644.5 694.2 L1644.5 692.7 L1644.6 691.6 L1644.6 689.7 L1644.7 689.5 L1644.7 689.9 L1644.8 688.8 L1644.9 689.9 L1645.3 691.8 L1645.6 692.0 L1645.6 693.0 L1645.9 694.4 L1646.2 693.8 L1646.3 695.2 L1646.4 695.4 L1646.4 694.2 L1646.5 694.8 L1646.6 697.9 L1646.6 697.3 L1646.7 701.6 L1646.8 701.7 L1646.8 702.5 L1646.9 702.5 L1647.0 705.1 L1647.1 705.2 L1647.2 705.0 L1647.3 705.2 L1647.3 705.4 L1647.4 707.2 L1647.5 707.6 L1647.6 709.2 L1647.7 708.5 L1647.8 709.4 L1647.9 712.7 L1648.0 713.4 L1648.1 713.7 L1648.2 715.4 L1648.3 715.9 L1648.4 717.7 L1648.5 716.5 L1648.6 718.0 L1648.7 717.5 L1648.8 718.8 L1648.9 718.3 L1649.0 719.8 L1649.1 719.4 L1649.2 716.5 L1649.3 715.7 L1649.4 715.0 L1649.5 713.1 L1649.6 712.5 L1649.7 710.6 L1649.8 711.1 L1650.0 711.0 L1650.1 709.6 L1650.2 709.2 L1650.3 710.4 L1650.4 708.2 L1650.5 705.0 L1650.6 705.0 L1650.7 705.6 L1650.8 706.1 L1651.0 706.3 L1651.1 708.5 L1651.2 710.1 L1651.3 711.1 L1651.4 712.9 L1651.5 712.2 L1651.6 712.3 L1651.8 713.4 L1651.9 711.5 L1652.0 710.5 L1652.1 713.3 L1652.2 714.7 L1652.3 716.1 L1652.4 716.3 L1652.6 717.9 L1652.7 720.0 L1652.8 719.9 L1652.9 721.4 L1653.0 721.8 L1653.1 722.5 L1653.2 723.3 L1653.3 724.2 L1653.4 726.4 L1653.5 727.1 L1653.6 728.0 L1653.7 728.4 L1653.9 726.7 L1654.0 728.9 L1654.1 729.7 L1654.2 730.6 L1654.3 730.9 L1654.4 730.4 L1654.5 733.3 L1654.6 735.7 L1654.7 737.3 L1654.8 735.2 L1654.9 736.6 L1655.0 736.9 L1655.1 735.2 L1655.1 734.6 L1655.2 733.5 L1655.2 732.5 L1655.3 731.4 L1655.3 730.7 L1655.4 731.1 L1655.5 731.9 L1655.5 731.3 L1655.6 729.8 L1655.6 728.3 L1655.7 727.1 L1655.7 726.2 L1655.8 724.8 L1655.9 724.0 L1655.9 724.2 L1656.0 723.0 L1656.0 721.3 L1656.1 720.7 L1656.1 720.2 L1656.2 719.4 L1656.2 718.8 L1656.4 719.2 L1656.5 720.9 L1656.6 721.5 L1656.7 721.3 L1656.9 723.0 L1657.0 723.1 L1657.1 725.0 L1657.2 726.4 L1657.4 727.4 L1657.5 728.0 L1657.6 727.2 L1657.7 728.1 L1657.9 729.4 L1658.0 730.9 L1658.1 731.2 L1658.2 731.3 L1658.4 732.3 L1658.5 731.9 L1658.6 733.6 L1658.7 734.9 L1658.9 736.0 L1659.0 738.5 L1659.1 739.4 L1659.2 739.4 L1659.4 739.4 L1659.5 739.8 L1659.6 741.5 L1659.8 741.9 L1659.8 742.3 L1659.8 740.5 L1659.9 739.5 L1660.0 738.2 L1660.0 738.2 L1660.0 737.4 L1660.1 735.7 L1660.2 734.2 L1660.2 735.1 L1660.2 732.7 L1660.3 730.5 L1660.3 727.6 L1660.4 730.6 L1660.5 729.5 L1660.5 729.8 L1660.5 729.4 L1660.6 729.1 L1660.7 728.9 L1660.7 726.9 L1660.8 725.8 L1660.8 725.8 L1660.8 725.0 L1660.9 722.9 L1661.0 721.4 L1661.0 721.2 L1661.2 720.3 L1661.4 722.1 L1661.5 722.7 L1661.7 722.5 L1661.9 723.6 L1662.1 725.5 L1662.2 726.8 L1662.4 727.6 L1662.6 728.7 L1662.8 730.2 L1662.9 729.6 L1663.1 731.2 L1663.2 729.2 L1663.3 729.8 L1663.5 729.6 L1663.6 727.1 L1663.7 725.9 L1663.8 727.0 L1663.9 726.6 L1664.0 725.2 L1664.1 725.2 L1664.3 725.2 L1664.4 724.8 L1664.5 721.6 L1664.6 719.4 L1664.7 718.6 L1664.8 718.2 L1664.9 717.3 L1665.1 717.0 L1665.2 717.8 L1665.3 717.4 L1665.4 716.9 L1665.5 715.2 L1665.6 713.1 L1666.7 715.5 L1667.1 715.0 L1668.1 713.1 L1668.2 713.3 L1668.5 716.4 L1668.8 718.8 L1669.2 718.1 L1669.1 718.5 L1669.6 717.9 L1669.8 717.8 L1670.1 716.6 L1670.1 717.6 L1670.6 721.2 L1670.6 721.3 L1670.6 724.5 L1670.5 723.4 L1670.5 724.4 L1670.5 725.3 L1670.4 725.9 L1670.4 727.3 L1670.4 728.2 L1670.3 726.8 L1670.3 726.0 L1670.3 727.5 L1670.2 729.5 L1670.2 731.6 L1670.2 731.7 L1670.2 733.6 L1670.1 735.1 L1670.1 737.7 L1670.1 737.5 L1670.0 736.8 L1670.0 737.5 L1670.3 738.4 L1670.9 739.8 L1671.0 740.6 L1671.4 738.5 L1671.9 738.1 L1672.4 741.7 L1672.7 742.9 L1673.1 743.1 L1673.6 741.7 L1673.7 739.2 L1674.4 737.0 L1674.6 735.7 L1674.9 736.9 L1675.1 737.3 L1675.5 736.7 L1676.0 736.7 L1676.2 736.2 L1676.3 734.6 L1676.4 734.9 L1676.5 734.4 L1676.5 731.8 L1676.6 731.8 L1676.7 729.1 L1676.7 728.9 L1676.8 728.3 L1676.9 727.1 L1676.9 725.9 L1677.0 725.8 L1677.1 726.0 L1677.2 724.7 L1677.2 724.5 L1677.3 724.4 L1677.4 723.3 L1677.4 724.1 L1677.5 721.2 L1678.0 722.9 L1678.7 722.6 L1679.2 724.1 L1679.3 724.4 L1680.0 725.0 L1680.0 725.2 L1680.0 724.0 L1680.0 723.2 L1680.0 722.1 L1680.0 720.3 L1680.0 717.7 L1680.0 718.4 L1680.0 716.8 L1680.0 717.1 L1680.0 717.2 L1680.0 718.2 L1680.0 715.9 L1680.0 715.0 L1680.0 713.8 L1680.1 714.1 L1680.2 712.1 L1680.3 710.7 L1680.4 710.6 L1680.5 711.6 L1680.6 711.1 L1680.7 710.2 L1680.8 707.5 L1680.9 707.1 L1681.0 707.1 L1681.1 704.4 L1681.2 703.8 L1681.4 702.9 L1681.5 701.9 L1681.6 701.9 L1681.7 699.2 L1681.8 699.7 L1681.9 698.9 L1682.0 697.9 L1682.2 695.2 L1682.3 693.3 L1682.4 693.3 L1682.5 695.0 L1682.6 693.3 L1682.8 693.2 L1682.9 693.2 L1683.1 690.5 L1683.2 690.3 L1683.3 691.0 L1683.5 688.2 L1683.6 688.4 L1683.8 687.5 L1684.3 687.7 L1684.7 689.3 L1684.9 689.1 L1685.4 691.5 L1685.8 692.4 L1686.2 692.5 L1686.4 694.6 L1686.5 695.7 L1686.7 696.4 L1686.8 696.1 L1686.9 697.6 L1687.1 695.9 L1687.2 697.3 L1687.4 699.0 L1687.5 700.0 L1687.6 700.1 L1688.2 703.0 L1688.5 704.4 L1688.4 705.3 L1688.7 704.8 L1689.0 704.0 L1689.4 706.2 L1689.7 707.5 L1690.0 707.5 L1690.4 709.3 L1690.5 710.7 L1690.7 710.8 L1691.2 711.2 L1691.2 712.5 L1691.2 713.4 L1691.2 714.5 L1691.2 715.0 L1691.2 714.5 L1691.2 715.4 L1691.2 717.5 L1691.2 717.4 L1691.2 718.9 L1691.2 719.9 L1691.2 719.6 L1691.2 718.0 L1691.2 720.0 L1691.2 720.8 L1691.2 721.8 L1691.2 724.1 L1691.2 724.3 L1691.1 725.7 L1691.1 726.7 L1691.1 727.7 L1691.1 730.5 L1691.1 728.6 L1691.1 730.6 L1691.1 731.0 L1691.1 731.5 L1691.1 731.7 L1691.1 732.9 L1691.1 733.9 L1691.1 733.9 L1691.1 736.6 L1691.1 736.3 L1691.1 737.1 L1691.1 736.7 L1691.1 738.2 L1691.0 739.7 L1691.0 741.6 L1691.0 743.0 L1691.0 742.7 L1691.0 744.9 L1691.0 744.8 L1691.0 746.8 L1691.0 748.4 L1691.0 746.2 L1691.1 748.4 L1691.3 747.7 L1691.4 749.1 L1691.5 751.1 L1691.7 751.6 L1691.8 752.9 L1692.0 753.5 L1692.1 754.5 L1692.2 755.9 L1692.4 755.4 L1692.5 755.0 L1692.5 796.2 L1693.2 796.4 L1693.8 797.4 L1694.4 798.8 L1694.4 797.5 L1694.3 797.5 L1694.3 794.7 L1694.3 793.0 L1694.3 794.0 L1694.3 792.5 L1694.3 791.8 L1694.2 792.7 L1694.2 792.7 L1694.2 791.7 L1694.2 790.9 L1694.2 787.0 L1694.1 787.4 L1694.1 787.1 L1694.1 784.9 L1694.1 784.8 L1694.1 784.7 L1694.1 783.7 L1694.0 783.7 L1694.0 783.4 L1694.0 781.2 L1694.2 782.9 L1694.5 783.1 L1694.4 783.2 L1695.0 784.4 L1695.2 784.0 L1695.4 785.1 L1695.7 785.5 L1695.5 787.3 L1696.0 788.3 L1696.1 788.0 L1696.3 790.0 L1696.4 790.4 L1696.6 792.7 L1696.9 791.8 L1697.3 792.7 L1697.5 793.8 L1697.6 793.0 L1697.6 793.1 L1697.7 790.6 L1697.7 787.3 L1697.8 787.7 L1697.9 787.3 L1697.9 787.9 L1698.0 787.0 L1698.0 787.6 L1698.1 785.8 L1698.1 785.0 L1698.2 781.5 L1698.3 781.7 L1698.3 782.5 L1698.4 780.6 L1698.4 780.9 L1698.5 779.1 L1698.6 777.0 L1698.6 777.0 L1698.7 777.0 L1698.7 777.6 L1698.8 775.5 L1698.9 774.8 L1698.9 773.4 L1699.0 772.8 L1699.0 771.9 L1699.1 770.9 L1699.1 770.0 L1699.2 769.6 L1699.3 768.5 L1699.3 767.8 L1699.4 767.5 L1699.5 768.1 L1699.6 768.9 L1699.7 770.1 L1699.8 770.1 L1699.9 772.1 L1700.0 772.5 L1700.1 774.2 L1700.2 775.9 L1700.3 776.1 L1700.4 778.3 L1700.5 777.4 L1700.6 778.0 L1700.7 778.1 L1700.8 778.6 L1700.9 779.6 L1701.0 781.0 L1701.1 781.8 L1701.2 782.5 L1701.3 782.5 L1701.4 781.9 L1701.4 781.6 L1701.5 778.9 L1701.6 778.6 L1701.6 776.3 L1701.7 775.5 L1701.8 774.4 L1701.8 773.5 L1701.9 773.7 L1701.9 772.7 L1702.0 772.2 L1702.1 771.8 L1702.1 772.8 L1702.2 770.2 L1702.2 767.8 L1702.3 768.7 L1702.4 765.8 L1702.4 764.9 L1702.5 766.2 L1702.6 766.5 L1702.6 767.1 L1702.7 768.0 L1702.7 770.2 L1702.8 771.9 L1702.9 771.8 L1702.9 772.3 L1703.0 773.2 L1703.0 772.2 L1703.1 775.2 L1703.2 774.2 L1703.2 776.4 L1703.3 779.0 L1703.3 777.7 L1703.4 778.5 L1703.5 778.3 L1703.5 778.9 L1703.6 782.6 L1703.6 783.4 L1703.7 782.2 L1703.8 783.8 L1703.9 785.5 L1704.0 786.4 L1704.1 786.6 L1704.2 786.7 L1704.4 787.1 L1704.5 789.1 L1704.6 789.7 L1704.8 790.8 L1704.9 792.0 L1705.0 793.3 L1705.1 795.2 L1705.2 795.1 L1705.4 794.5 L1705.5 795.5 L1705.6 796.1 L1705.8 797.6 L1705.9 796.7 L1706.0 798.1 L1706.1 796.0 L1706.3 794.2 L1706.4 794.9 L1706.5 792.7 L1706.7 791.8 L1706.8 791.6 L1707.0 789.6 L1707.1 790.7 L1707.2 790.2 L1707.4 790.9 L1707.5 788.8 L1707.5 789.9 L1707.5 789.4 L1707.5 789.6 L1707.5 787.1 L1707.5 786.0 L1707.5 784.4 L1707.5 782.6 L1707.5 781.2 L1707.5 781.4 L1707.5 779.7 L1707.5 778.2 L1707.5 776.9 L1707.5 775.2 L1707.5 776.9 L1707.9 777.4 L1708.4 777.9 L1708.9 777.7 L1709.4 780.5 L1709.9 781.6 L1710.2 780.4 L1710.6 781.9 L1710.7 779.9 L1710.7 777.6 L1710.8 776.0 L1710.8 776.7 L1710.9 776.5 L1710.9 776.8 L1711.0 776.8 L1711.1 774.7 L1711.1 775.5 L1711.2 774.0 L1711.2 773.0 L1711.3 772.7 L1711.3 772.2 L1711.4 770.6 L1711.4 770.3 L1711.5 770.3 L1711.6 768.6 L1711.6 766.3 L1711.7 767.5 L1711.7 766.8 L1711.8 765.1 L1711.8 763.3 L1711.9 763.1 L1712.0 764.6 L1712.0 764.6 L1712.1 765.5 L1712.2 765.9 L1712.3 766.4 L1712.3 769.1 L1712.4 768.9 L1712.5 768.3 L1712.6 769.6 L1712.7 770.5 L1712.7 771.9 L1712.8 772.6 L1712.9 773.6 L1713.0 775.3 L1713.0 775.4 L1713.1 776.2 L1713.3 775.4 L1713.4 774.0 L1713.6 773.6 L1713.8 772.3 L1713.9 772.4 L1714.1 772.8 L1714.2 772.4 L1714.4 769.4 L1714.4 772.2 L1714.5 772.4 L1714.6 773.5 L1714.6 773.0 L1714.7 774.5 L1714.7 774.7 L1714.8 774.2 L1714.8 775.3 L1714.9 773.9 L1715.0 777.6 L1715.0 777.0 L1715.1 779.5 L1715.1 779.4 L1715.2 780.5 L1715.2 781.9 L1715.6 782.0 L1716.4 778.9 L1716.9 779.4 L1716.9 777.8 L1717.0 776.0 L1717.0 774.5 L1717.1 775.5 L1717.1 775.5 L1717.1 775.4 L1717.2 774.7 L1717.2 775.3 L1717.3 773.6 L1717.3 771.0 L1717.4 770.4 L1717.4 768.2 L1717.5 767.3 L1717.5 767.5 L1717.8 765.4 L1717.8 763.1 L1718.1 760.6 L1718.5 761.7 L1718.7 761.1 L1718.6 762.0 L1718.8 762.7 L1719.2 760.4 L1719.4 760.0 L1719.4 760.3 L1719.4 757.9 L1719.4 758.2 L1719.4 757.3 L1719.4 755.6 L1719.4 755.6 L1719.4 753.6 L1719.4 751.6 L1719.4 749.9 L1719.4 750.3 L1719.4 751.0 L1719.4 750.0 L1719.4 748.9 L1719.4 748.1 L1719.7 746.3 L1720.0 746.7 L1720.4 746.1 L1720.5 744.8 L1720.8 745.1 L1721.2 744.5 L1721.4 743.8 L1721.9 741.9 L1721.7 742.7 L1721.6 741.8 L1721.4 740.3 L1721.2 737.8 L1721.1 737.6 L1720.9 736.5 L1720.8 735.3 L1720.6 735.0 L1720.8 734.4 L1721.4 732.7 L1722.0 731.4 L1722.2 730.4 L1722.9 731.0 L1723.1 730.0 L1723.2 727.1 L1723.4 728.0 L1723.5 727.6 L1723.6 725.6 L1723.7 724.8 L1723.9 724.8 L1724.0 723.8 L1724.2 725.9 L1724.4 726.6 L1724.5 727.4 L1724.7 724.8 L1724.9 728.2 L1725.1 727.0 L1725.3 730.3 L1725.4 730.2 L1725.6 731.2 L1726.2 730.6 L1726.4 730.5 L1726.9 731.3 L1727.3 733.0 L1727.5 735.0 L1727.5 735.0 L1727.6 737.6 L1727.6 738.3 L1727.6 740.3 L1727.7 741.1 L1727.7 740.6 L1727.8 741.4 L1727.8 742.4 L1727.8 742.3 L1727.9 744.0 L1727.9 743.9 L1727.9 743.8 L1728.0 744.7 L1728.0 746.0 L1728.0 746.1 L1728.1 746.7 L1728.1 748.1 L1728.1 749.0 L1728.2 750.6 L1728.2 751.4 L1728.2 753.1 L1728.3 753.4 L1728.3 753.6 L1728.4 756.1 L1728.4 758.6 L1728.4 758.0 L1728.5 757.9 L1728.5 758.1 L1728.7 758.8 L1728.8 756.1 L1729.0 753.5 L1729.1 751.9 L1729.2 751.8 L1729.4 751.8 L1729.5 752.0 L1729.7 751.4 L1729.8 749.4 L1730.0 750.0 L1730.5 748.7 L1730.4 748.5 L1730.8 747.9 L1731.0 748.7 L1731.5 746.2 L1731.6 747.4 L1731.8 747.5 L1731.9 748.1 L1732.1 749.2 L1732.2 751.0 L1732.4 751.5 L1732.5 752.9 L1732.7 753.4 L1732.8 754.8 L1733.0 754.0 L1733.1 755.0 L1733.5 753.3 L1733.7 752.7 L1733.8 752.3 L1734.4 751.7 L1734.4 750.6 L1734.5 752.5 L1734.6 751.6 L1734.7 751.8 L1734.8 754.3 L1734.9 755.3 L1735.0 755.3 L1735.0 754.3 L1735.1 755.9 L1735.2 756.9 L1735.3 758.3 L1735.4 759.3 L1735.5 760.4 L1735.6 761.2 L1736.1 760.9 L1735.9 763.7 L1736.4 763.7 L1736.4 765.2 L1736.7 766.4 L1736.8 768.0 L1737.2 766.9 L1737.3 767.6 L1737.4 766.2 L1737.5 766.7 L1737.6 764.6 L1737.7 764.7 L1737.8 764.0 L1737.9 761.3 L1738.0 761.4 L1738.1 758.0 L1738.2 757.8 L1738.3 758.0 L1738.4 759.3 L1738.5 757.5 L1738.6 755.2 L1738.7 756.5 L1738.8 753.8 L1738.9 756.3 L1739.0 756.8 L1739.2 757.4 L1739.3 757.4 L1739.5 758.5 L1739.6 758.5 L1739.8 759.5 L1739.9 759.8 L1740.0 759.5 L1740.2 760.9 L1740.3 760.3 L1740.5 761.4 L1740.6 764.4 L1740.7 763.8 L1740.8 763.2 L1740.8 763.0 L1740.9 760.8 L1741.0 760.3 L1741.1 761.3 L1741.1 759.1 L1741.2 758.4 L1741.3 757.7 L1741.4 754.9 L1741.4 755.2 L1741.5 753.5 L1741.6 753.3 L1741.7 752.8 L1741.7 751.8 L1741.8 751.1 L1741.9 750.6 L1741.9 750.8 L1741.9 751.5 L1741.9 752.6 L1742.0 753.4 L1742.0 754.1 L1742.0 754.5 L1742.0 756.8 L1742.1 757.4 L1742.1 756.2 L1742.1 757.5 L1742.1 758.2 L1742.2 762.2 L1742.2 762.2 L1742.2 762.8 L1742.2 763.1 L1742.2 764.7 L1742.3 764.8 L1742.3 765.2 L1742.3 767.5 L1742.3 766.7 L1742.4 767.5 L1742.4 765.4 L1742.4 768.9 L1742.4 770.3 L1742.5 771.4 L1742.5 771.5 L1742.5 772.5 L1742.9 771.0 L1742.9 770.8 L1743.2 770.3 L1743.5 768.7 L1743.3 767.6 L1743.8 767.7 L1743.9 766.2 L1744.1 765.9 L1744.4 765.0 L1744.4 765.2 L1744.4 764.9 L1744.4 763.8 L1744.5 763.1 L1744.5 759.8 L1744.5 761.7 L1744.5 760.0 L1744.6 758.2 L1744.6 758.8 L1744.6 755.5 L1744.6 754.3 L1744.6 755.7 L1744.7 753.8 L1744.7 752.2 L1744.7 753.1 L1744.7 751.2 L1744.8 749.2 L1744.8 747.2 L1744.8 747.1 L1744.8 747.3 L1744.8 748.5 L1744.9 747.4 L1744.9 744.4 L1744.9 744.6 L1744.9 744.8 L1745.0 743.6 L1745.0 743.2 L1745.0 741.9 L1745.7 743.7 L1746.9 742.5 L1747.0 744.5 L1747.1 745.1 L1747.1 745.2 L1747.2 746.9 L1747.3 747.7 L1747.4 749.5 L1747.5 749.5 L1747.6 747.9 L1747.7 747.5 L1747.8 748.7 L1747.9 750.7 L1747.9 750.2 L1748.0 751.3 L1748.1 753.8 L1748.1 753.1 L1748.1 752.6 L1748.1 750.9 L1748.1 750.2 L1748.1 749.6 L1748.1 748.5 L1748.1 747.5 L1748.1 746.3 L1748.1 746.1 L1748.1 747.0 L1748.1 747.1 L1748.1 744.2 L1748.1 745.5 L1748.1 743.7 L1748.1 741.1 L1748.1 739.1 L1748.1 739.1 L1748.1 738.9 L1748.1 737.6 L1748.1 736.4 L1748.1 735.9 L1748.1 735.7 L1748.1 735.7 L1748.1 734.4 L1748.6 736.0 L1749.0 734.1 L1749.6 736.0 L1750.3 737.7 L1750.6 738.1 L1750.6 736.4 L1750.6 735.8 L1750.6 734.8 L1750.6 733.9 L1750.6 732.8 L1750.6 733.3 L1750.6 733.2 L1750.6 732.5 L1750.6 730.1 L1750.6 729.0 L1750.6 728.6 L1750.6 728.4 L1750.6 727.1 L1750.6 726.2 L1750.6 728.2 L1750.6 726.6 L1750.6 724.4 L1750.9 724.1 L1751.5 720.8 L1751.5 721.6 L1751.9 719.8 L1752.4 718.8 L1752.6 719.4 L1753.1 718.8 L1753.1 717.9 L1753.2 717.3 L1753.2 716.0 L1753.2 715.6 L1753.2 714.8 L1753.2 714.1 L1753.2 713.6 L1753.3 712.0 L1753.3 710.0 L1753.3 709.7 L1753.3 710.5 L1753.3 709.7 L1753.3 708.9 L1753.4 707.1 L1753.4 705.3 L1753.4 703.8 L1753.4 702.9 L1753.4 702.6 L1753.4 700.9 L1753.5 701.0 L1753.5 699.3 L1753.5 700.1 L1753.5 699.6 L1753.5 697.3 L1753.5 696.8 L1753.6 696.9 L1753.6 696.8 L1753.6 696.7 L1753.6 695.3 L1753.6 694.3 L1753.6 693.4 L1753.7 693.2 L1753.7 691.6 L1753.7 690.8 L1753.7 690.3 L1753.7 689.2 L1753.8 688.8 L1754.2 688.3 L1754.3 691.0 L1754.7 693.5 L1754.9 692.7 L1755.1 693.8 L1755.6 693.8 L1755.7 696.6 L1755.8 696.2 L1756.0 696.2 L1756.1 697.6 L1756.2 699.6 L1756.3 699.5 L1756.4 700.3 L1756.5 702.0 L1756.7 703.7 L1756.8 702.3 L1756.9 703.1 L1757.0 703.4 L1757.2 702.1 L1757.3 701.0 L1757.5 699.3 L1757.6 699.8 L1757.7 698.7 L1757.9 698.2 L1758.0 698.0 L1758.2 696.6 L1758.3 694.9 L1758.5 693.2 L1758.6 693.5 L1758.8 692.5 L1759.3 692.3 L1760.6 691.2 L1761.2 691.9 L1761.2 690.9 L1761.2 692.9 L1761.2 694.4 L1761.2 694.4 L1761.2 695.7 L1761.2 697.0 L1761.2 698.1 L1761.2 699.8 L1761.2 700.4 L1761.2 700.9 L1761.2 701.6 L1761.2 703.4 L1761.2 704.5 L1761.2 704.0 L1761.2 703.8 L1761.2 704.9 L1761.2 705.5 L1761.2 704.4 L1761.2 707.5 L1761.5 706.5 L1761.7 706.3 L1761.9 705.4 L1762.1 703.5 L1762.3 703.1 L1762.5 704.1 L1762.7 703.4 L1762.9 702.2 L1763.1 700.0 L1763.2 698.7 L1763.3 697.0 L1763.4 697.3 L1763.5 695.3 L1763.5 695.0 L1763.6 693.7 L1763.7 695.0 L1763.8 693.1 L1763.9 692.3 L1764.0 690.0 L1764.0 689.0 L1764.1 688.0 L1764.2 688.0 L1764.3 686.1 L1764.4 687.5 L1764.5 686.6 L1764.6 689.0 L1764.7 691.8 L1764.7 691.0 L1764.8 692.3 L1764.9 691.2 L1765.0 692.4 L1765.1 693.9 L1765.2 695.4 L1765.3 695.9 L1765.4 696.7 L1765.5 697.0 L1765.5 698.3 L1765.6 699.4 L1765.7 701.1 L1765.8 702.6 L1765.9 701.9 L1766.0 702.5 L1766.1 703.2 L1766.2 705.5 L1766.3 705.8 L1766.4 706.3 L1766.5 705.6 L1766.6 707.5 L1766.8 709.3 L1766.9 707.4 L1767.0 710.2 L1767.1 711.1 L1767.2 711.1 L1767.3 713.0 L1767.4 714.2 L1767.5 714.4 L1768.4 713.2 L1769.2 712.9 L1770.0 712.5 L1770.2 709.5 L1770.3 709.0 L1770.5 708.8 L1770.7 707.9 L1770.9 708.0 L1771.0 707.5 L1771.2 705.1 L1771.4 705.7 L1771.5 705.8 L1771.7 705.9 L1771.9 703.1 L1772.1 702.1 L1772.3 700.7 L1772.4 700.9 L1772.6 699.0 L1772.8 698.3 L1773.0 699.7 L1773.2 698.0 L1773.4 700.4 L1773.6 695.4 L1773.8 695.0 L1773.8 697.5 L1773.9 699.2 L1774.0 698.5 L1774.1 699.6 L1774.2 699.1 L1774.3 699.4 L1774.4 701.2 L1774.5 704.6 L1774.6 704.5 L1774.6 705.0 L1774.7 703.8 L1774.8 706.0 L1774.9 706.9 L1775.0 706.9 L1775.1 705.5 L1775.1 704.5 L1775.2 704.3 L1775.2 704.0 L1775.3 701.4 L1775.3 701.4 L1775.4 702.3 L1775.5 701.7 L1775.5 699.7 L1775.6 699.0 L1775.6 699.7 L1775.7 697.4 L1775.7 695.7 L1775.8 695.9 L1775.9 694.9 L1775.9 693.7 L1776.0 692.3 L1776.0 690.0 L1776.1 690.2 L1776.1 689.5 L1776.2 689.4 L1776.2 688.8 L1776.5 687.2 L1776.7 685.3 L1776.9 683.5 L1777.1 682.4 L1777.3 681.9 L1777.5 683.0 L1777.7 680.6 L1777.9 681.3 L1778.1 681.2 L1778.3 681.2 L1778.8 683.0 L1779.0 683.7 L1779.3 683.8 L1779.4 683.9 L1779.6 686.7 L1779.9 687.2 L1780.0 687.5 L1780.0 688.6 L1780.1 688.4 L1780.1 691.2 L1780.1 692.7 L1780.2 691.3 L1780.2 692.1 L1780.2 691.5 L1780.3 694.1 L1780.3 692.8 L1780.3 696.3 L1780.4 696.0 L1780.4 696.1 L1780.4 699.5 L1780.5 700.4 L1780.5 701.1 L1780.6 702.3 L1780.6 701.6 L1780.6 702.5 L1780.8 704.2 L1781.2 704.5 L1781.7 706.6 L1782.2 705.7 L1782.5 706.9 L1782.5 708.2 L1782.6 707.0 L1782.6 705.3 L1782.6 704.8 L1782.6 702.4 L1782.7 701.8 L1782.7 699.4 L1782.7 699.4 L1782.8 699.6 L1782.8 700.4 L1782.8 698.4 L1782.8 698.2 L1782.9 698.2 L1782.9 695.6 L1782.9 694.4 L1783.0 691.9 L1783.0 691.0 L1783.0 691.3 L1783.0 688.9 L1783.1 688.7 L1783.1 689.3 L1783.1 688.8 L1783.4 690.7 L1784.0 692.5 L1784.0 691.9 L1784.2 691.6 L1784.6 692.7 L1785.0 693.8 L1785.4 695.8 L1785.6 695.0 L1785.8 695.1 L1785.9 691.3 L1786.0 689.9 L1786.2 689.9 L1786.3 688.6 L1786.5 688.5 L1786.6 687.8 L1786.7 688.2 L1786.9 687.5 L1787.2 686.0 L1787.5 686.5 L1787.9 683.9 L1788.4 681.0 L1788.5 680.8 L1788.8 682.5 L1789.1 683.0 L1789.7 683.1 L1789.7 684.4 L1790.2 685.7 L1790.6 686.2 L1790.7 686.1 L1790.7 686.5 L1790.8 690.2 L1790.8 689.8 L1790.9 691.7 L1790.9 690.7 L1791.0 692.5 L1791.0 692.0 L1791.1 692.8 L1791.1 694.2 L1791.2 695.3 L1791.2 696.2 L1792.2 696.5 L1793.1 696.9 L1793.2 697.6 L1793.3 698.2 L1793.3 700.8 L1793.4 700.9 L1793.4 701.7 L1793.5 702.7 L1793.6 704.0 L1793.6 703.3 L1793.7 703.0 L1793.8 705.6 L1793.8 704.0 L1793.9 705.3 L1794.0 706.6 L1794.0 707.4 L1794.1 707.8 L1794.2 708.7 L1794.2 709.7 L1794.3 710.4 L1794.4 712.2 L1794.4 712.1 L1794.5 711.3 L1794.6 712.5 L1794.6 715.2 L1794.7 715.2 L1794.8 717.5 L1794.9 714.5 L1795.1 714.4 L1795.5 715.6 L1795.9 713.6 L1795.9 712.1 L1796.4 712.0 L1796.6 712.3 L1796.5 711.8 L1796.9 710.0 L1797.0 710.0 L1797.1 709.1 L1797.2 706.5 L1797.3 707.0 L1797.3 707.6 L1797.4 707.4 L1797.5 704.3 L1797.6 702.4 L1797.7 703.5 L1797.8 702.2 L1797.9 703.6 L1798.0 702.4 L1798.1 701.5 L1798.2 699.2 L1798.3 699.9 L1798.4 698.4 L1798.5 695.8 L1798.6 694.3 L1798.7 693.7 L1798.8 693.8 L1798.9 693.8 L1799.0 694.7 L1799.2 695.4 L1799.3 694.0 L1799.4 694.9 L1799.6 697.2 L1799.7 697.7 L1799.8 698.7 L1800.0 700.7 L1800.1 701.3 L1800.2 700.8 L1800.4 702.4 L1800.5 703.6 L1800.6 705.0 L1800.7 703.0 L1800.7 703.7 L1800.8 703.8 L1800.8 703.8 L1800.9 703.5 L1800.9 703.7 L1801.0 701.7 L1801.1 700.4 L1801.1 697.7 L1801.2 698.2 L1801.2 695.8 L1801.3 694.7 L1801.3 693.4 L1801.4 693.4 L1801.4 692.9 L1801.5 693.3 L1801.6 692.8 L1801.6 690.6 L1801.7 687.4 L1801.7 686.7 L1801.8 687.3 L1801.8 687.9 L1801.9 686.2 L1802.0 684.5 L1802.0 684.2 L1802.1 683.4 L1802.2 683.7 L1802.3 682.2 L1802.3 681.5 L1802.4 679.8 L1802.5 677.6 L1802.6 677.0 L1802.6 676.5 L1802.7 676.9 L1802.7 673.8 L1802.8 675.8 L1802.8 676.0 L1802.8 676.3 L1802.8 675.0 L1802.9 672.1 L1802.9 670.7 L1802.9 670.4 L1802.9 671.3 L1803.0 669.9 L1803.0 667.8 L1803.0 668.0 L1803.0 666.4 L1803.1 666.0 L1803.1 664.7 L1803.5 663.6 L1803.9 663.0 L1804.4 662.4 L1805.0 661.4 L1805.8 660.6 L1806.9 661.9 L1806.9 662.0 L1806.9 664.3 L1806.9 664.1 L1806.8 664.2 L1806.8 665.3 L1806.8 664.5 L1806.8 667.3 L1806.8 667.2 L1806.8 669.1 L1806.8 670.8 L1806.8 670.9 L1806.7 671.9 L1806.7 672.4 L1806.7 673.1 L1806.7 673.5 L1806.7 674.5 L1806.7 675.9 L1806.7 678.2 L1806.7 677.0 L1806.6 678.3 L1806.6 677.9 L1806.6 680.1 L1806.6 681.6 L1806.6 683.4 L1806.6 682.5 L1806.6 686.2 L1806.6 685.8 L1806.5 687.1 L1806.5 686.6 L1806.5 688.6 L1806.5 688.7 L1806.5 688.9 L1806.5 689.3 L1806.5 689.8 L1806.5 690.6 L1806.4 692.8 L1806.4 693.6 L1806.4 693.9 L1806.4 693.8 L1807.2 693.2 L1808.3 693.3 L1808.6 692.2 L1808.7 692.3 L1809.0 691.5 L1809.4 690.5 L1809.6 689.2 L1809.8 688.7 L1810.2 688.0 L1810.2 687.4 L1810.2 685.8 L1810.3 684.2 L1810.3 682.7 L1810.3 682.4 L1810.3 682.3 L1810.3 681.3 L1810.4 680.7 L1810.4 680.3 L1810.4 681.8 L1810.4 681.3 L1810.5 681.7 L1810.5 679.5 L1810.5 678.0 L1810.5 678.4 L1810.5 676.8 L1810.6 675.7 L1810.6 673.7 L1810.6 672.2 L1810.9 671.3 L1810.9 671.3 L1811.1 668.8 L1811.2 668.7 L1811.4 667.2 L1811.8 665.6 L1812.0 666.6 L1812.9 666.3 L1813.8 665.3 L1814.4 666.6 L1814.4 666.9 L1814.4 668.9 L1814.3 670.7 L1814.3 672.6 L1814.3 670.5 L1814.3 670.3 L1814.2 671.1 L1814.2 671.6 L1814.2 672.8 L1814.2 673.3 L1814.2 673.2 L1814.1 674.9 L1814.1 676.4 L1814.1 676.8 L1814.1 678.1 L1814.0 677.9 L1814.0 679.1 L1814.0 680.1 L1814.0 680.9 L1813.9 682.1 L1813.9 681.9 L1813.9 684.4 L1814.2 682.8 L1814.7 683.2 L1815.3 685.5 L1815.3 687.5 L1815.8 688.0 L1815.8 686.0 L1815.9 687.1 L1816.0 686.4 L1816.0 685.5 L1816.0 685.9 L1816.1 683.1 L1816.2 680.6 L1816.2 681.5 L1816.2 681.0 L1816.3 679.5 L1816.3 679.5 L1816.4 678.3 L1816.5 679.2 L1816.5 676.4 L1816.5 675.9 L1816.6 675.8 L1816.7 675.4 L1816.7 673.0 L1816.8 674.4 L1817.0 674.6 L1817.1 675.0 L1817.2 676.7 L1817.4 676.9 L1817.5 677.7 L1817.7 679.6 L1817.8 679.9 L1817.9 680.8 L1818.1 681.3 L1818.2 682.1 L1818.3 680.7 L1818.5 681.4 L1818.6 684.4 L1818.7 682.7 L1818.7 681.6 L1818.8 680.7 L1818.9 680.5 L1818.9 682.2 L1819.0 679.9 L1819.1 678.1 L1819.2 675.8 L1819.2 676.4 L1819.3 675.8 L1819.4 674.5 L1819.4 673.7 L1819.5 674.0 L1819.6 675.1 L1819.6 676.8 L1819.7 677.5 L1819.8 679.0 L1819.8 680.1 L1819.9 679.7 L1820.0 681.0 L1820.0 681.4 L1820.1 682.6 L1820.2 683.2 L1820.2 685.7 L1820.3 684.2 L1820.4 685.2 L1820.4 684.7 L1820.5 686.2 L1820.7 687.3 L1820.8 685.2 L1821.0 683.8 L1821.1 682.9 L1821.3 682.0 L1821.4 682.9 L1821.6 681.3 L1821.7 680.4 L1821.9 678.8 L1821.9 679.4 L1821.9 679.5 L1822.0 676.8 L1822.0 676.0 L1822.0 673.7 L1822.0 673.7 L1822.0 674.3 L1822.1 672.5 L1822.1 671.3 L1822.1 671.6 L1822.1 670.8 L1822.1 670.3 L1822.2 668.5 L1822.2 667.2 L1822.2 666.0 L1822.2 666.9 L1822.2 664.1 L1822.3 663.0 L1822.3 664.1 L1822.3 662.3 L1823.3 662.7 L1823.7 661.3 L1824.7 661.9 L1824.6 662.1 L1824.6 663.7 L1824.5 665.2 L1824.5 664.2 L1824.4 665.6 L1824.3 668.0 L1824.3 667.1 L1824.2 668.0 L1824.2 667.9 L1824.1 669.9 L1824.0 670.0 L1824.0 670.8 L1823.9 671.6 L1823.9 673.3 L1823.8 672.9 L1823.8 675.0 L1823.9 672.1 L1824.1 672.3 L1824.3 673.3 L1824.5 671.8 L1824.7 671.4 L1824.9 670.8 L1825.1 669.9 L1825.3 668.9 L1825.5 667.5 L1825.7 666.7 L1825.9 667.3 L1826.1 665.6 L1826.3 667.4 L1826.5 669.0 L1826.7 668.4 L1826.9 669.2 L1827.1 669.2 L1827.3 668.9 L1827.5 671.2 L1827.5 670.4 L1827.5 669.3 L1827.6 668.9 L1827.6 666.7 L1827.6 666.1 L1827.6 665.6 L1827.6 664.7 L1827.7 665.3 L1827.7 664.7 L1827.7 663.7 L1827.7 662.9 L1827.7 661.4 L1827.7 660.0 L1827.8 659.2 L1827.8 657.7 L1827.8 657.3 L1827.8 656.7 L1827.8 657.3 L1827.9 655.8 L1827.9 657.4 L1827.9 655.1 L1827.9 654.1 L1827.9 653.0 L1828.0 651.4 L1828.0 650.7 L1828.0 648.3 L1828.0 649.3 L1828.0 647.9 L1828.0 647.3 L1828.1 644.9 L1828.1 645.4 L1828.1 643.6 L1828.1 644.8 L1828.1 642.8 L1828.2 641.6 L1828.2 642.0 L1828.2 642.4 L1828.2 639.2 L1828.2 637.2 L1828.2 639.0 L1828.3 638.5 L1828.3 636.0 L1828.3 635.2 L1828.3 635.6 L1828.3 634.4 L1828.4 635.2 L1828.4 633.2 L1828.4 632.3 L1829.2 632.3 L1830.3 631.9 L1830.3 633.1 L1830.4 633.2 L1830.4 634.8 L1830.5 636.6 L1830.5 637.9 L1830.6 638.4 L1830.6 639.3 L1830.7 641.4 L1830.7 640.1 L1830.8 640.3 L1830.8 641.2 L1830.9 640.2 L1830.9 639.5 L1831.0 640.0 L1831.1 636.7 L1831.1 637.6 L1831.2 636.6 L1831.2 636.0 L1831.3 633.1 L1831.4 634.9 L1831.4 633.0 L1831.5 632.5 L1831.6 631.1 L1831.6 633.2 L1831.7 631.1 L1831.7 628.4 L1831.8 626.0 L1831.9 625.8 L1831.9 626.5 L1832.0 625.3 L1832.7 627.2 L1832.9 628.4 L1833.1 627.8 L1833.6 628.9 L1834.1 629.5 L1834.1 630.2 L1834.0 632.2 L1834.0 631.7 L1834.0 632.2 L1833.9 632.5 L1833.9 633.2 L1833.8 633.4 L1833.8 635.1 L1833.8 637.5 L1833.7 636.4 L1833.7 636.4 L1833.7 637.3 L1833.6 638.9 L1833.6 641.2 L1834.0 640.2 L1834.8 640.7 L1835.1 640.9 L1835.5 638.4 L1835.4 640.4 L1835.4 641.3 L1835.3 641.8 L1835.2 641.0 L1835.2 644.0 L1835.1 646.7 L1835.1 646.3 L1835.0 645.0 L1835.9 644.3 L1836.5 646.0 L1836.9 646.9 L1836.8 645.3 L1836.7 647.6 L1836.5 649.5 L1836.4 648.9 L1836.3 649.9 L1836.2 651.6 L1836.0 653.1 L1835.9 653.4 L1836.4 654.8 L1837.2 652.7 L1837.4 655.9 L1838.0 655.1 L1838.6 657.2 L1838.6 656.2 L1838.5 656.2 L1838.5 658.3 L1838.5 659.2 L1838.4 660.4 L1838.4 661.4 L1838.4 662.3 L1838.3 663.7 L1838.3 664.0 L1838.3 665.0 L1838.2 665.4 L1838.2 665.6 L1838.1 667.3 L1838.1 667.5 L1838.1 669.2 L1838.0 670.1 L1838.0 672.0 L1838.0 673.0 L1837.9 671.4 L1837.9 672.7 L1837.9 674.4 L1837.8 675.3 L1837.8 675.9 L1837.9 675.3 L1838.1 675.5 L1838.2 674.9 L1838.4 672.2 L1838.5 671.7 L1838.7 672.0 L1838.8 671.0 L1839.0 668.7 L1839.1 669.0 L1839.3 668.7 L1839.4 668.7 L1839.6 667.5 L1839.7 665.6 L1839.8 667.2 L1839.9 668.6 L1840.0 667.8 L1840.1 670.5 L1840.2 671.1 L1840.2 671.6 L1840.3 672.8 L1840.4 673.9 L1840.5 672.0 L1840.6 674.0 L1841.2 675.0 L1841.6 675.7 L1842.2 677.0 L1842.5 677.3 L1842.8 677.0 L1843.5 677.6 L1843.8 676.5 L1844.1 674.8 L1844.4 673.0 L1844.4 671.8 L1844.3 671.9 L1844.3 671.9 L1844.2 669.9 L1844.2 668.0 L1844.1 667.1 L1844.1 668.4 L1844.1 667.4 L1844.0 667.9 L1844.0 667.6 L1843.9 667.0 L1843.9 665.1 L1843.8 663.5 L1843.8 663.8 L1843.7 661.0 L1843.7 659.0 L1843.7 659.8 L1843.6 656.1 L1843.6 656.8 L1843.5 656.8 L1843.5 653.7 L1843.4 654.0 L1843.4 654.4 L1843.9 652.3 L1844.4 652.4 L1845.0 653.3 L1845.5 651.0 L1846.2 653.4 L1846.3 654.1 L1847.2 654.6 L1847.4 653.4 L1848.1 654.4 L1848.3 655.5 L1848.4 655.0 L1849.1 657.2 L1849.0 657.3 L1849.2 659.3 L1849.7 660.0 L1850.0 660.7 L1850.0 660.9 L1850.0 661.7 L1850.0 662.2 L1850.0 663.4 L1850.0 665.1 L1850.0 666.4 L1850.0 666.9 L1850.0 667.1 L1850.0 667.5 L1850.4 667.8 L1850.3 662.9 L1850.4 661.9 L1851.0 662.4 L1851.0 660.7 L1851.4 661.1 L1851.6 660.4 L1851.7 658.8 L1851.9 660.0 L1851.9 659.1 L1852.0 659.6 L1852.0 661.8 L1852.0 661.5 L1852.1 661.9 L1852.1 663.1 L1852.1 665.8 L1852.2 666.3 L1852.2 667.8 L1852.2 668.6 L1852.3 669.3 L1852.3 670.3 L1852.9 670.5 L1854.0 670.2 L1854.7 670.3 L1854.5 670.3 L1854.4 671.8 L1854.2 672.1 L1853.6 672.4 L1853.7 675.1 L1853.4 676.6 L1852.9 675.7 L1852.8 676.9 L1852.9 678.4 L1853.0 678.7 L1853.2 681.8 L1853.3 683.1 L1853.4 680.8 L1853.5 680.2 L1853.6 681.2 L1853.8 681.9 L1853.9 684.1 L1854.0 686.5 L1854.1 686.0 L1854.2 687.3 L1854.3 687.7 L1854.5 686.5 L1854.6 689.2 L1854.7 690.0 L1854.8 692.5 L1854.8 691.8 L1854.9 693.2 L1855.0 693.2 L1855.0 693.9 L1855.1 694.3 L1855.2 695.2 L1855.2 696.3 L1855.3 696.6 L1855.4 698.0 L1855.4 697.6 L1855.5 699.8 L1855.6 699.7 L1855.6 699.0 L1855.7 701.6 L1855.8 702.3 L1855.8 702.9 L1855.9 705.0 L1856.0 705.6 L1856.0 708.3 L1856.1 708.7 L1856.2 707.5 L1856.2 708.8 L1856.5 708.8 L1857.1 709.2 L1857.2 713.1 L1857.8 712.0 L1857.8 714.0 L1857.8 712.5 L1857.9 712.4 L1858.0 710.9 L1858.0 708.9 L1858.0 708.8 L1858.1 706.8 L1858.2 706.6 L1858.2 706.2 L1858.2 704.9 L1858.3 705.0 L1858.4 702.0 L1858.4 699.9 L1858.5 701.3 L1858.5 699.2 L1858.5 697.8 L1858.6 695.9 L1858.7 697.2 L1858.7 694.9 L1858.8 692.3 L1858.8 692.8 L1858.9 693.4 L1858.9 693.0" fill="none" stroke="#0000ff" stroke-width="3.9" stroke-linejoin="round" stroke-linecap="round" clip-path="url(#plot)"/>
<rect x="63.5" y="51.8" width="719.9" height="89.3" fill="#2e7d72"/>
<text y="85.5" font-size="30.8" fill="#ffffff" font-family="'Liberation Sans', Arial, Helvetica, sans-serif" font-weight="bold"><tspan x="94.52" textLength="62.50" lengthAdjust="spacing">S&amp;P</tspan> <tspan x="166.98" textLength="50.04" lengthAdjust="spacing">500</tspan> <tspan x="226.98" textLength="155.04" lengthAdjust="spacing">REGIONAL</tspan> <tspan x="394.62" textLength="118.56" lengthAdjust="spacing">BANKS:</tspan> <tspan x="521.30" textLength="158.52" lengthAdjust="spacing">FORWARD</tspan> <tspan x="688.08" textLength="62.08" lengthAdjust="spacing">P/E*</tspan></text>
<text x="423.6" y="127.4" text-anchor="middle" font-size="30.8" fill="#ffffff" font-family="'Liberation Sans', Arial, Helvetica, sans-serif" font-weight="bold">(daily)</text>
<rect x="65.2" y="146" width="421" height="63.3" fill="#ffffff" stroke="#000000" stroke-width="3"/>
<path d="M72.4 162.6H126.8" stroke="#0000ff" stroke-width="4" fill="none"/>
<rect x="72.4" y="180.8" width="54.4" height="17.2" fill="#d9d9d9"/>
<text x="134.6" y="169.7" textLength="309" lengthAdjust="spacing" font-size="23.5" fill="#000000" font-family="'Liberation Sans', Arial, Helvetica, sans-serif" font-weight="bold">Forward P/E* (Apr 04 = 8.5)</text>
<text x="134.6" y="196.9" textLength="119.2" lengthAdjust="spacing" font-size="23.5" fill="#000000" font-family="'Liberation Sans', Arial, Helvetica, sans-serif" font-weight="bold">Recession</text>
<rect x="58.95" y="46.85" width="1803.1" height="915.05" fill="none" stroke="#000000" stroke-width="4.1" stroke-linejoin="round"/>
<path d="M49.5 962.0H57.5 M1863.5 962.0H1871.5 M54 935.9H57.5 M1863.5 935.9H1867.2 M54 909.8H57.5 M1863.5 909.8H1867.2 M54 883.7H57.5 M1863.5 883.7H1867.2 M54 857.6H57.5 M1863.5 857.6H1867.2 M49.5 831.5H57.5 M1863.5 831.5H1871.5 M54 805.4H57.5 M1863.5 805.4H1867.2 M54 779.3H57.5 M1863.5 779.3H1867.2 M54 753.2H57.5 M1863.5 753.2H1867.2 M54 727.1H57.5 M1863.5 727.1H1867.2 M49.5 701.0H57.5 M1863.5 701.0H1871.5 M54 674.9H57.5 M1863.5 674.9H1867.2 M54 648.8H57.5 M1863.5 648.8H1867.2 M54 622.7H57.5 M1863.5 622.7H1867.2 M54 596.6H57.5 M1863.5 596.6H1867.2 M49.5 570.5H57.5 M1863.5 570.5H1871.5 M54 544.1H57.5 M1863.5 544.1H1867.2 M54 517.7H57.5 M1863.5 517.7H1867.2 M54 491.3H57.5 M1863.5 491.3H1867.2 M54 464.9H57.5 M1863.5 464.9H1867.2 M49.5 438.5H57.5 M1863.5 438.5H1871.5 M54 412.4H57.5 M1863.5 412.4H1867.2 M54 386.3H57.5 M1863.5 386.3H1867.2 M54 360.2H57.5 M1863.5 360.2H1867.2 M54 334.1H57.5 M1863.5 334.1H1867.2 M49.5 308.0H57.5 M1863.5 308.0H1871.5 M54 281.9H57.5 M1863.5 281.9H1867.2 M54 255.8H57.5 M1863.5 255.8H1867.2 M54 229.7H57.5 M1863.5 229.7H1867.2 M54 203.6H57.5 M1863.5 203.6H1867.2 M49.5 177.5H57.5 M1863.5 177.5H1871.5 M54 151.4H57.5 M1863.5 151.4H1867.2 M54 125.3H57.5 M1863.5 125.3H1867.2 M54 99.2H57.5 M1863.5 99.2H1867.2 M54 73.1H57.5 M1863.5 73.1H1867.2 M49.5 47.0H57.5 M1863.5 47.0H1871.5 M73.0 963.5V967.2 M93.7 963.5V967.2 M114.5 963.5V971.6 M134.9 963.5V967.2 M155.4 963.5V967.2 M176.1 963.5V967.2 M196.8 963.5V967.2 M217.0 963.5V967.2 M237.5 963.5V967.2 M258.2 963.5V967.2 M279.5 963.5V971.6 M299.2 963.5V967.2 M319.6 963.5V967.2 M340.4 963.5V967.2 M361.1 963.5V967.2 M381.3 963.5V967.2 M401.8 963.5V967.2 M422.5 963.5V967.2 M443.0 963.5V971.6 M463.7 963.5V967.2 M484.2 963.5V967.2 M504.9 963.5V967.2 M525.6 963.5V967.2 M545.8 963.5V967.2 M566.3 963.5V967.2 M587.0 963.5V967.2 M607.9 963.5V971.6 M628.0 963.5V967.2 M648.4 963.5V967.2 M669.2 963.5V967.2 M689.9 963.5V967.2 M710.1 963.5V967.2 M730.6 963.5V967.2 M751.3 963.5V967.2 M771.5 963.5V971.6 M792.5 963.5V967.2 M813.0 963.5V967.2 M833.7 963.5V967.2 M854.4 963.5V967.2 M874.6 963.5V967.2 M895.1 963.5V967.2 M915.8 963.5V967.2 M936.4 963.5V971.6 M956.8 963.5V967.2 M977.2 963.5V967.2 M998.0 963.5V967.2 M1018.7 963.5V967.2 M1038.9 963.5V967.2 M1059.4 963.5V967.2 M1080.1 963.5V967.2 M1101.5 963.5V971.6 M1121.3 963.5V967.2 M1141.8 963.5V967.2 M1162.5 963.5V967.2 M1183.2 963.5V967.2 M1203.4 963.5V967.2 M1223.9 963.5V967.2 M1244.6 963.5V967.2 M1265.0 963.5V971.6 M1285.6 963.5V967.2 M1306.0 963.5V967.2 M1326.8 963.5V967.2 M1347.5 963.5V967.2 M1367.7 963.5V967.2 M1388.2 963.5V967.2 M1408.9 963.5V967.2 M1429.8 963.5V971.6 M1450.1 963.5V967.2 M1470.6 963.5V967.2 M1491.3 963.5V967.2 M1512.0 963.5V967.2 M1532.2 963.5V967.2 M1552.7 963.5V967.2 M1573.4 963.5V967.2 M1595.0 963.5V971.6 M1614.4 963.5V967.2 M1634.8 963.5V967.2 M1655.6 963.5V967.2 M1676.3 963.5V967.2 M1696.5 963.5V967.2 M1717.0 963.5V967.2 M1737.7 963.5V967.2 M1758.5 963.5V971.6 M1778.9 963.5V967.2 M1799.4 963.5V967.2 M1820.1 963.5V967.2 M1840.8 963.5V967.2 M1861.0 963.5V967.2" stroke="#000000" stroke-width="1.5" fill="none"/>
<text x="40.6" y="968.0" text-anchor="end" font-size="23" fill="#000000" font-family="'Liberation Sans', Arial, Helvetica, sans-serif" font-weight="bold">0</text>
<text x="1879.6" y="968.0" text-anchor="start" font-size="23" fill="#000000" font-family="'Liberation Sans', Arial, Helvetica, sans-serif" font-weight="bold">0</text>
<text x="40.6" y="837.5" text-anchor="end" font-size="23" fill="#000000" font-family="'Liberation Sans', Arial, Helvetica, sans-serif" font-weight="bold">5</text>
<text x="1879.6" y="837.5" text-anchor="start" font-size="23" fill="#000000" font-family="'Liberation Sans', Arial, Helvetica, sans-serif" font-weight="bold">5</text>
<text x="40.6" y="707.0" text-anchor="end" font-size="23" fill="#000000" font-family="'Liberation Sans', Arial, Helvetica, sans-serif" font-weight="bold">10</text>
<text x="1879.6" y="707.0" text-anchor="start" font-size="23" fill="#000000" font-family="'Liberation Sans', Arial, Helvetica, sans-serif" font-weight="bold">10</text>
<text x="40.6" y="576.5" text-anchor="end" font-size="23" fill="#000000" font-family="'Liberation Sans', Arial, Helvetica, sans-serif" font-weight="bold">15</text>
<text x="1879.6" y="576.5" text-anchor="start" font-size="23" fill="#000000" font-family="'Liberation Sans', Arial, Helvetica, sans-serif" font-weight="bold">15</text>
<text x="40.6" y="444.5" text-anchor="end" font-size="23" fill="#000000" font-family="'Liberation Sans', Arial, Helvetica, sans-serif" font-weight="bold">20</text>
<text x="1879.6" y="444.5" text-anchor="start" font-size="23" fill="#000000" font-family="'Liberation Sans', Arial, Helvetica, sans-serif" font-weight="bold">20</text>
<text x="40.6" y="314.0" text-anchor="end" font-size="23" fill="#000000" font-family="'Liberation Sans', Arial, Helvetica, sans-serif" font-weight="bold">25</text>
<text x="1879.6" y="314.0" text-anchor="start" font-size="23" fill="#000000" font-family="'Liberation Sans', Arial, Helvetica, sans-serif" font-weight="bold">25</text>
<text x="40.6" y="183.5" text-anchor="end" font-size="23" fill="#000000" font-family="'Liberation Sans', Arial, Helvetica, sans-serif" font-weight="bold">30</text>
<text x="1879.6" y="183.5" text-anchor="start" font-size="23" fill="#000000" font-family="'Liberation Sans', Arial, Helvetica, sans-serif" font-weight="bold">30</text>
<text x="40.6" y="53.0" text-anchor="end" font-size="23" fill="#000000" font-family="'Liberation Sans', Arial, Helvetica, sans-serif" font-weight="bold">35</text>
<text x="1879.6" y="53.0" text-anchor="start" font-size="23" fill="#000000" font-family="'Liberation Sans', Arial, Helvetica, sans-serif" font-weight="bold">35</text>
<text x="88.0" y="996.9" letter-spacing="0.25" font-size="23" fill="#000000" font-family="'Liberation Sans', Arial, Helvetica, sans-serif" font-weight="bold">2004</text>
<text x="253.0" y="996.9" letter-spacing="0.25" font-size="23" fill="#000000" font-family="'Liberation Sans', Arial, Helvetica, sans-serif" font-weight="bold">2006</text>
<text x="416.5" y="996.9" letter-spacing="0.25" font-size="23" fill="#000000" font-family="'Liberation Sans', Arial, Helvetica, sans-serif" font-weight="bold">2008</text>
<text x="581.4" y="996.9" letter-spacing="0.25" font-size="23" fill="#000000" font-family="'Liberation Sans', Arial, Helvetica, sans-serif" font-weight="bold">2010</text>
<text x="745.0" y="996.9" letter-spacing="0.25" font-size="23" fill="#000000" font-family="'Liberation Sans', Arial, Helvetica, sans-serif" font-weight="bold">2012</text>
<text x="909.9" y="996.9" letter-spacing="0.25" font-size="23" fill="#000000" font-family="'Liberation Sans', Arial, Helvetica, sans-serif" font-weight="bold">2014</text>
<text x="1075.0" y="996.9" letter-spacing="0.25" font-size="23" fill="#000000" font-family="'Liberation Sans', Arial, Helvetica, sans-serif" font-weight="bold">2016</text>
<text x="1238.5" y="996.9" letter-spacing="0.25" font-size="23" fill="#000000" font-family="'Liberation Sans', Arial, Helvetica, sans-serif" font-weight="bold">2018</text>
<text x="1403.2" y="996.9" letter-spacing="0.25" font-size="23" fill="#000000" font-family="'Liberation Sans', Arial, Helvetica, sans-serif" font-weight="bold">2020</text>
<text x="1568.5" y="996.9" letter-spacing="0.25" font-size="23" fill="#000000" font-family="'Liberation Sans', Arial, Helvetica, sans-serif" font-weight="bold">2022</text>
<text x="1732.0" y="996.9" letter-spacing="0.25" font-size="23" fill="#000000" font-family="'Liberation Sans', Arial, Helvetica, sans-serif" font-weight="bold">2024</text>
<text x="61.7" y="1035.2" textLength="807.9" lengthAdjust="spacing" font-size="23.7" fill="#000000" font-family="'Liberation Sans', Arial, Helvetica, sans-serif" font-weight="bold">Source: LSEG Datastream and © Yardeni Research. Standard &amp; Poor's.</text>
<text x="62.7" y="1068.2" textLength="997.1" lengthAdjust="spacing" font-size="23.7" fill="#000000" font-family="'Liberation Sans', Arial, Helvetica, sans-serif" font-weight="bold">* Price divided by 12-month forward consensus expected operating earnings per share.</text>
</svg>
</body></html>
